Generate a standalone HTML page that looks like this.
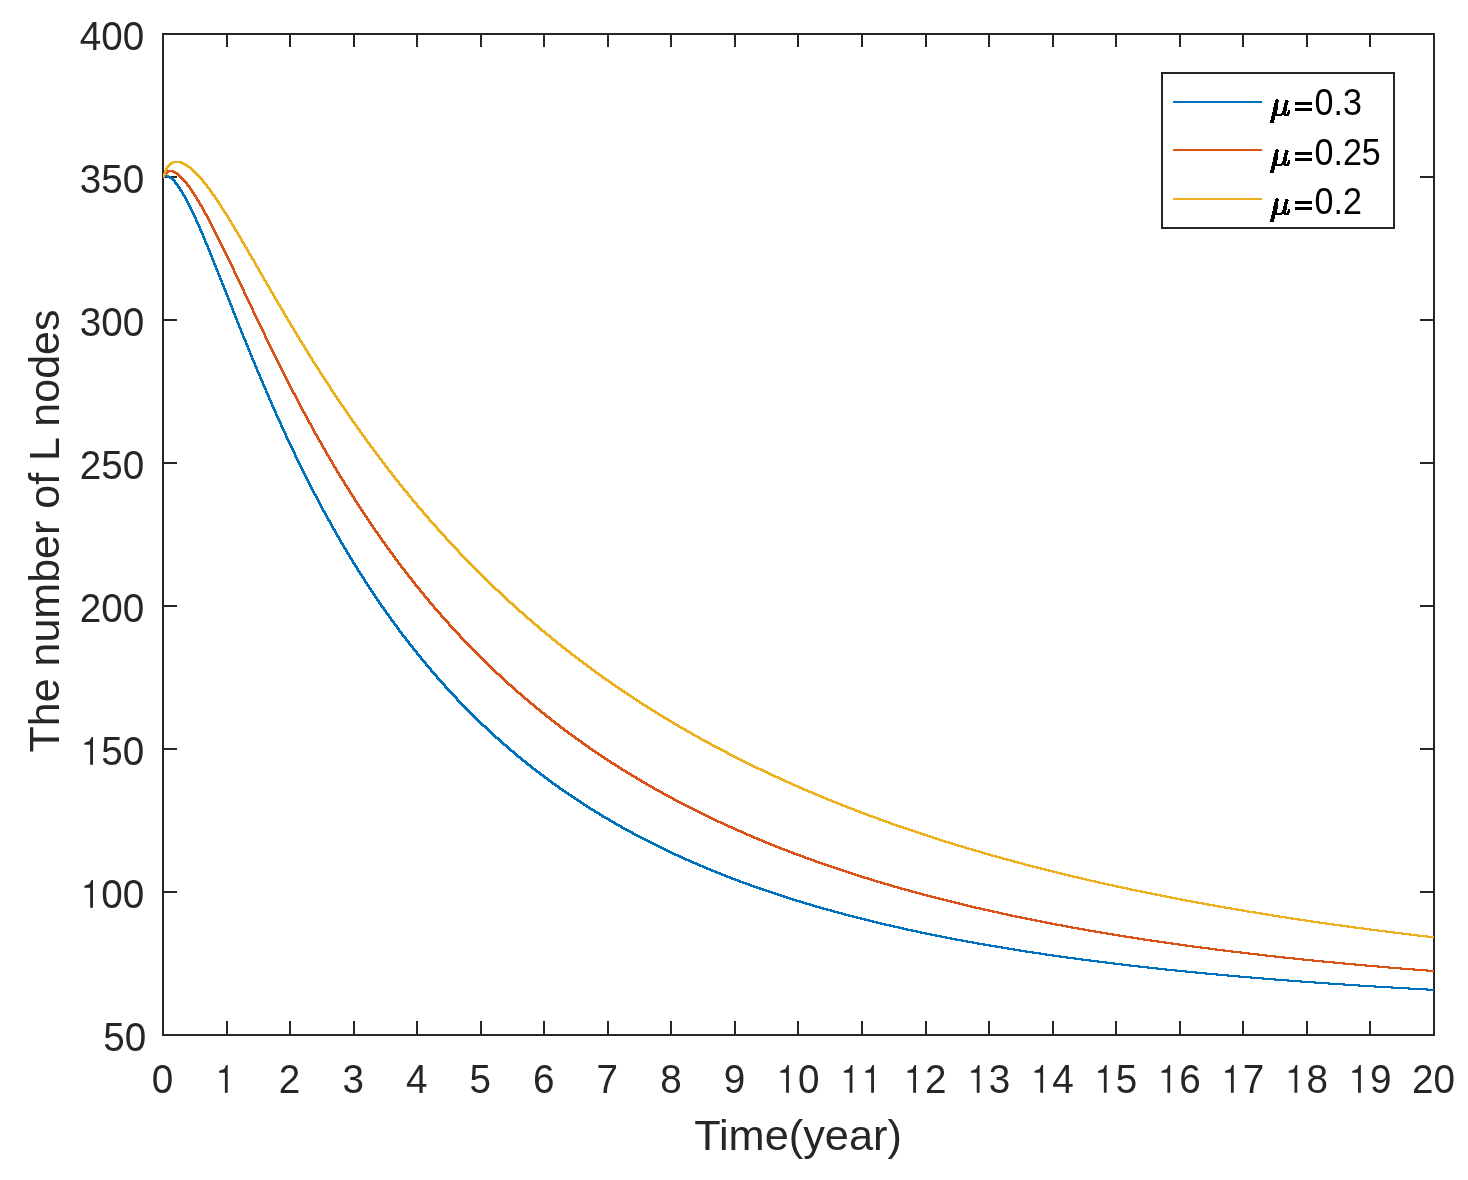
<!DOCTYPE html>
<html><head><meta charset="utf-8"><style>
html,body{margin:0;padding:0;background:#fff;width:1468px;height:1180px;overflow:hidden}
text{font-family:"Liberation Sans",sans-serif}
</style></head><body>
<svg width="1468" height="1180" viewBox="0 0 1468 1180" style="display:block;will-change:transform">
<rect x="0" y="0" width="1468" height="1180" fill="#fff"/>
<g fill="#262626" shape-rendering="crispEdges">
<rect x="162" y="33" width="1273" height="2"/>
<rect x="162" y="1034" width="1273" height="2"/>
<rect x="162" y="33" width="2" height="1003"/>
<rect x="1433" y="33" width="2" height="1003"/>
<rect x="226" y="1021" width="2" height="14"/>
<rect x="226" y="34" width="2" height="13"/>
<rect x="289" y="1021" width="2" height="14"/>
<rect x="289" y="34" width="2" height="13"/>
<rect x="353" y="1021" width="2" height="14"/>
<rect x="353" y="34" width="2" height="13"/>
<rect x="416" y="1021" width="2" height="14"/>
<rect x="416" y="34" width="2" height="13"/>
<rect x="480" y="1021" width="2" height="14"/>
<rect x="480" y="34" width="2" height="13"/>
<rect x="543" y="1021" width="2" height="14"/>
<rect x="543" y="34" width="2" height="13"/>
<rect x="607" y="1021" width="2" height="14"/>
<rect x="607" y="34" width="2" height="13"/>
<rect x="670" y="1021" width="2" height="14"/>
<rect x="670" y="34" width="2" height="13"/>
<rect x="734" y="1021" width="2" height="14"/>
<rect x="734" y="34" width="2" height="13"/>
<rect x="797" y="1021" width="2" height="14"/>
<rect x="797" y="34" width="2" height="13"/>
<rect x="861" y="1021" width="2" height="14"/>
<rect x="861" y="34" width="2" height="13"/>
<rect x="925" y="1021" width="2" height="14"/>
<rect x="925" y="34" width="2" height="13"/>
<rect x="988" y="1021" width="2" height="14"/>
<rect x="988" y="34" width="2" height="13"/>
<rect x="1052" y="1021" width="2" height="14"/>
<rect x="1052" y="34" width="2" height="13"/>
<rect x="1115" y="1021" width="2" height="14"/>
<rect x="1115" y="34" width="2" height="13"/>
<rect x="1179" y="1021" width="2" height="14"/>
<rect x="1179" y="34" width="2" height="13"/>
<rect x="1242" y="1021" width="2" height="14"/>
<rect x="1242" y="34" width="2" height="13"/>
<rect x="1306" y="1021" width="2" height="14"/>
<rect x="1306" y="34" width="2" height="13"/>
<rect x="1369" y="1021" width="2" height="14"/>
<rect x="1369" y="34" width="2" height="13"/>
<rect x="163" y="891" width="14" height="2"/>
<rect x="1420" y="891" width="14" height="2"/>
<rect x="163" y="748" width="14" height="2"/>
<rect x="1420" y="748" width="14" height="2"/>
<rect x="163" y="605" width="14" height="2"/>
<rect x="1420" y="605" width="14" height="2"/>
<rect x="163" y="462" width="14" height="2"/>
<rect x="1420" y="462" width="14" height="2"/>
<rect x="163" y="319" width="14" height="2"/>
<rect x="1420" y="319" width="14" height="2"/>
<rect x="163" y="176" width="14" height="2"/>
<rect x="1420" y="176" width="14" height="2"/>
</g>
<defs><clipPath id="c"><rect x="163" y="34" width="1271" height="1001"/></clipPath></defs>
<g clip-path="url(#c)" shape-rendering="crispEdges">
<path d="M162.00,175.07 L162.25,175.07 L162.50,175.07 L162.75,175.07 L163.00,175.07 L163.25,175.00 L163.50,174.94 L163.75,174.89 L164.00,174.86 L164.25,174.84 L164.50,174.83 L164.75,174.82 L165.00,174.82 L165.25,174.82 L165.50,174.82 L165.75,174.82 L166.00,174.82 L166.25,174.82 L166.50,174.82 L166.75,174.83 L167.00,174.84 L167.25,174.86 L167.50,174.89 L167.75,174.93 L168.00,174.99 L168.25,175.05 L168.50,175.12 L168.75,175.21 L169.00,175.30 L169.25,175.40 L169.50,175.51 L169.75,175.63 L170.00,175.75 L170.25,175.89 L170.50,176.03 L170.75,176.18 L171.00,176.34 L171.25,176.51 L171.50,176.68 L171.75,176.86 L172.00,177.05 L172.25,177.25 L172.50,177.45 L172.75,177.66 L173.00,177.88 L173.25,178.10 L173.50,178.33 L173.75,178.57 L174.00,178.81 L174.25,179.06 L174.50,179.31 L174.75,179.57 L175.00,179.84 L175.25,180.11 L175.50,180.39 L175.75,180.67 L176.00,180.96 L176.25,181.26 L176.50,181.56 L176.75,181.86 L177.00,182.17 L177.25,182.49 L177.50,182.81 L177.75,183.13 L178.00,183.46 L178.25,183.80 L178.50,184.14 L178.75,184.48 L179.00,184.83 L179.25,185.18 L179.50,185.54 L179.75,185.90 L180.00,186.27 L180.25,186.64 L180.50,187.01 L180.75,187.39 L181.00,187.77 L181.25,188.16 L181.50,188.55 L181.75,188.94 L182.00,189.34 L182.25,189.74 L182.50,190.15 L182.75,190.56 L183.00,190.97 L183.25,191.39 L183.50,191.80 L183.75,192.23 L184.00,192.65 L184.25,193.08 L184.50,193.52 L184.75,193.95 L185.00,194.39 L185.25,194.84 L185.50,195.28 L185.75,195.73 L186.00,196.19 L186.25,196.64 L186.50,197.10 L186.75,197.56 L187.00,198.02 L187.25,198.49 L187.50,198.96 L187.75,199.43 L188.00,199.91 L188.25,200.39 L188.50,200.87 L188.75,201.35 L189.00,201.84 L189.25,202.32 L189.50,202.82 L189.75,203.31 L190.00,203.80 L190.25,204.30 L190.50,204.80 L190.75,205.31 L191.00,205.81 L191.25,206.32 L191.50,206.83 L191.75,207.34 L192.00,207.86 L192.25,208.37 L192.50,208.89 L192.75,209.41 L193.00,209.93 L193.25,210.46 L193.50,210.99 L193.75,211.51 L194.00,212.05 L194.25,212.58 L194.50,213.11 L194.75,213.65 L195.00,214.19 L195.25,214.73 L195.50,215.27 L195.75,215.81 L196.00,216.36 L196.25,216.91 L196.50,217.46 L196.75,218.01 L197.00,218.56 L197.25,219.11 L197.50,219.67 L197.75,220.23 L198.00,220.79 L198.25,221.35 L198.50,221.91 L198.75,222.47 L199.00,223.04 L199.25,223.60 L199.50,224.17 L199.75,224.74 L200.00,225.31 L200.25,225.88 L200.50,226.45 L200.75,227.03 L201.00,227.60 L201.25,228.18 L201.50,228.76 L201.75,229.34 L202.00,229.92 L202.25,230.50 L202.50,231.09 L202.75,231.67 L203.00,232.26 L203.25,232.84 L203.50,233.43 L203.75,234.02 L204.00,234.61 L204.25,235.20 L204.50,235.79 L204.75,236.38 L205.00,236.98 L205.25,237.57 L205.50,238.17 L205.75,238.77 L206.00,239.36 L206.25,239.96 L206.50,240.56 L206.75,241.16 L207.00,241.77 L207.25,242.37 L207.50,242.97 L207.75,243.58 L208.00,244.18 L208.25,244.79 L208.50,245.39 L208.75,246.00 L209.00,246.61 L209.25,247.22 L209.50,247.83 L209.75,248.44 L210.00,249.05 L210.25,249.66 L210.50,250.27 L210.75,250.88 L211.00,251.50 L211.25,252.11 L211.50,252.73 L211.75,253.34 L212.00,253.96 L212.25,254.57 L212.50,255.19 L212.75,255.81 L213.00,256.43 L213.25,257.05 L213.50,257.66 L213.75,258.28 L214.00,258.90 L214.25,259.52 L214.50,260.15 L214.75,260.77 L215.00,261.39 L215.25,262.01 L215.50,262.64 L215.75,263.26 L216.00,263.88 L216.25,264.51 L216.50,265.13 L216.75,265.76 L217.00,266.38 L217.25,267.01 L217.50,267.63 L217.75,268.26 L218.00,268.89 L218.25,269.51 L218.50,270.14 L218.75,270.77 L219.00,271.39 L219.25,272.02 L219.50,272.65 L219.75,273.28 L220.00,273.91 L220.25,274.54 L220.50,275.17 L220.75,275.79 L221.00,276.42 L221.25,277.05 L221.50,277.68 L221.75,278.31 L222.00,278.94 L222.25,279.58 L222.50,280.21 L222.75,280.84 L223.00,281.47 L223.25,282.10 L223.50,282.73 L223.75,283.36 L224.00,283.99 L224.25,284.62 L224.50,285.26 L224.75,285.89 L225.00,286.52 L225.25,287.15 L225.50,287.78 L225.75,288.41 L226.00,289.05 L226.25,289.68 L226.50,290.31 L226.75,290.94 L227.00,291.57 L227.25,292.21 L227.50,292.84 L227.75,293.47 L228.00,294.10 L228.25,294.73 L228.50,295.37 L228.75,296.00 L229.00,296.63 L229.25,297.26 L229.50,297.89 L229.75,298.52 L230.00,299.16 L230.25,299.79 L230.50,300.42 L230.75,301.05 L231.00,301.68 L231.25,302.31 L231.50,302.94 L231.75,303.58 L232.00,304.21 L232.25,304.84 L232.50,305.47 L232.75,306.10 L233.00,306.73 L233.25,307.36 L233.50,307.99 L233.75,308.62 L234.00,309.25 L234.25,309.88 L234.50,310.51 L234.75,311.14 L235.00,311.77 L235.25,312.40 L235.50,313.02 L235.75,313.65 L236.00,314.28 L236.25,314.91 L236.50,315.54 L236.75,316.17 L237.00,316.79 L237.25,317.42 L237.50,318.05 L237.75,318.67 L238.00,319.30 L238.25,319.93 L238.50,320.55 L238.75,321.18 L239.00,321.81 L239.25,322.43 L239.50,323.06 L239.75,323.68 L240.00,324.31 L240.25,324.93 L240.50,325.56 L240.75,326.18 L241.00,326.80 L241.25,327.43 L241.50,328.05 L241.75,328.67 L242.00,329.29 L242.25,329.92 L242.50,330.54 L242.75,331.16 L243.00,331.78 L243.25,332.40 L243.50,333.02 L243.75,333.64 L244.00,334.26 L244.25,334.88 L244.50,335.50 L244.75,336.12 L245.00,336.74 L245.25,337.36 L245.50,337.98 L245.75,338.60 L246.00,339.21 L246.25,339.83 L246.50,340.45 L246.75,341.06 L247.00,341.68 L247.25,342.30 L247.50,342.91 L247.75,343.53 L248.00,344.14 L248.25,344.75 L248.50,345.37 L248.75,345.98 L249.00,346.59 L249.25,347.21 L249.50,347.82 L249.75,348.43 L250.00,349.04 L250.25,349.65 L250.50,350.27 L250.75,350.88 L251.00,351.49 L251.25,352.10 L251.50,352.70 L251.75,353.31 L252.00,353.92 L252.25,354.53 L252.50,355.14 L252.75,355.74 L253.00,356.35 L253.25,356.96 L253.50,357.56 L253.75,358.17 L254.00,358.77 L254.25,359.38 L254.50,359.98 L254.75,360.59 L255.00,361.19 L255.25,361.79 L255.50,362.40 L255.75,363.00 L256.00,363.60 L256.25,364.20 L256.50,364.80 L256.75,365.40 L257.00,366.00 L257.25,366.60 L257.50,367.20 L257.75,367.80 L258.00,368.40 L258.25,369.00 L258.50,369.59 L258.75,370.19 L259.00,370.79 L259.25,371.38 L259.50,371.98 L259.75,372.57 L260.00,373.17 L260.25,373.76 L260.50,374.35 L260.75,374.95 L261.00,375.54 L261.25,376.13 L261.50,376.72 L261.75,377.32 L262.00,377.91 L262.25,378.50 L262.50,379.09 L262.75,379.68 L263.00,380.26 L263.25,380.85 L263.50,381.44 L263.75,382.03 L264.00,382.61 L264.25,383.20 L264.50,383.79 L264.75,384.37 L265.00,384.96 L265.25,385.54 L265.50,386.13 L265.75,386.71 L266.00,387.29 L266.25,387.88 L266.50,388.46 L266.75,389.04 L267.00,389.62 L267.25,390.20 L267.50,390.78 L267.75,391.36 L268.00,391.94 L268.25,392.52 L268.50,393.10 L268.75,393.67 L269.00,394.25 L269.25,394.83 L269.50,395.40 L269.75,395.98 L270.00,396.55 L270.25,397.13 L270.50,397.70 L270.75,398.28 L271.00,398.85 L271.25,399.42 L271.50,399.99 L271.75,400.57 L272.00,401.14 L272.25,401.71 L272.50,402.28 L272.75,402.85 L273.00,403.42 L273.25,403.98 L273.50,404.55 L273.75,405.12 L274.00,405.69 L274.25,406.25 L274.50,406.82 L274.75,407.38 L275.00,407.95 L275.25,408.51 L275.50,409.08 L275.75,409.64 L276.00,410.20 L276.25,410.77 L276.50,411.33 L276.75,411.89 L277.00,412.45 L277.25,413.01 L277.50,413.57 L277.75,414.13 L278.00,414.69 L278.25,415.25 L278.50,415.80 L278.75,416.36 L279.00,416.92 L279.25,417.47 L279.50,418.03 L279.75,418.58 L280.00,419.14 L280.25,419.69 L280.50,420.25 L280.75,420.80 L281.00,421.35 L281.25,421.90 L281.50,422.45 L281.75,423.01 L282.00,423.56 L282.25,424.11 L282.50,424.65 L282.75,425.20 L283.00,425.75 L283.25,426.30 L283.50,426.85 L283.75,427.39 L284.00,427.94 L284.25,428.48 L284.50,429.03 L284.75,429.57 L285.00,430.12 L285.25,430.66 L285.50,431.20 L285.75,431.75 L286.00,432.29 L286.25,432.83 L286.50,433.37 L286.75,433.91 L287.00,434.45 L287.25,434.99 L287.50,435.53 L287.75,436.07 L288.00,436.60 L288.25,437.14 L288.50,437.68 L288.75,438.21 L289.00,438.75 L289.25,439.28 L289.50,439.82 L289.75,440.35 L290.00,440.89 L290.25,441.42 L290.50,441.95 L290.75,442.48 L291.00,443.01 L291.25,443.55 L291.50,444.08 L291.75,444.61 L292.00,445.13 L292.25,445.66 L292.50,446.19 L292.75,446.72 L293.00,447.25 L293.25,447.77 L293.50,448.30 L293.75,448.82 L294.00,449.35 L294.25,449.87 L294.50,450.40 L294.75,450.92 L295.00,451.44 L295.25,451.97 L295.50,452.49 L295.75,453.01 L296.00,453.53 L296.25,454.05 L296.50,454.57 L296.75,455.09 L297.00,455.61 L297.25,456.13 L297.50,456.64 L297.75,457.16 L298.00,457.68 L298.25,458.19 L298.50,458.71 L298.75,459.22 L299.00,459.74 L299.25,460.25 L299.50,460.76 L299.75,461.28 L300.00,461.79 L300.50,462.81 L301.00,463.83 L301.50,464.85 L302.00,465.87 L302.50,466.88 L303.00,467.90 L303.50,468.91 L304.00,469.92 L304.50,470.92 L305.00,471.93 L305.50,472.93 L306.00,473.93 L306.50,474.93 L307.00,475.92 L307.50,476.92 L308.00,477.91 L308.50,478.90 L309.00,479.89 L309.50,480.87 L310.00,481.86 L310.50,482.84 L311.00,483.82 L311.50,484.79 L312.00,485.77 L312.50,486.74 L313.00,487.71 L313.50,488.68 L314.00,489.65 L314.50,490.62 L315.00,491.58 L315.50,492.54 L316.00,493.50 L316.50,494.46 L317.00,495.41 L317.50,496.37 L318.00,497.32 L318.50,498.27 L319.00,499.21 L319.50,500.16 L320.00,501.10 L320.50,502.04 L321.00,502.98 L321.50,503.92 L322.00,504.85 L322.50,505.79 L323.00,506.72 L323.50,507.65 L324.00,508.57 L324.50,509.50 L325.00,510.42 L325.50,511.34 L326.00,512.26 L326.50,513.18 L327.00,514.10 L327.50,515.01 L328.00,515.92 L328.50,516.83 L329.00,517.74 L329.50,518.65 L330.00,519.55 L330.50,520.45 L331.00,521.35 L331.50,522.25 L332.00,523.15 L332.50,524.04 L333.00,524.93 L333.50,525.82 L334.00,526.71 L334.50,527.60 L335.00,528.49 L335.50,529.37 L336.00,530.25 L336.50,531.13 L337.00,532.01 L337.50,532.88 L338.00,533.76 L338.50,534.63 L339.00,535.50 L339.50,536.37 L340.00,537.23 L340.50,538.10 L341.00,538.96 L341.50,539.82 L342.00,540.68 L342.50,541.53 L343.00,542.39 L343.50,543.24 L344.00,544.10 L344.50,544.94 L345.00,545.79 L345.50,546.64 L346.00,547.48 L346.50,548.33 L347.00,549.17 L347.50,550.01 L348.00,550.84 L348.50,551.68 L349.00,552.51 L349.50,553.34 L350.00,554.17 L350.50,555.00 L351.00,555.83 L351.50,556.65 L352.00,557.48 L352.50,558.30 L353.00,559.12 L353.50,559.93 L354.00,560.75 L354.50,561.56 L355.00,562.38 L355.50,563.19 L356.00,564.00 L356.50,564.80 L357.00,565.61 L357.50,566.41 L358.00,567.21 L358.50,568.02 L359.00,568.81 L359.50,569.61 L360.00,570.41 L360.50,571.20 L361.00,571.99 L361.50,572.78 L362.00,573.57 L362.50,574.36 L363.00,575.14 L363.50,575.93 L364.00,576.71 L364.50,577.49 L365.00,578.27 L365.50,579.04 L366.00,579.82 L366.50,580.59 L367.00,581.36 L367.50,582.13 L368.00,582.90 L368.50,583.67 L369.00,584.44 L369.50,585.20 L370.00,585.96 L370.50,586.72 L371.00,587.48 L371.50,588.24 L372.00,588.99 L372.50,589.75 L373.00,590.50 L373.50,591.25 L374.00,592.00 L374.50,592.75 L375.00,593.49 L375.50,594.24 L376.00,594.98 L376.50,595.72 L377.00,596.46 L377.50,597.20 L378.00,597.94 L378.50,598.67 L379.00,599.41 L379.50,600.14 L380.00,600.87 L380.50,601.60 L381.00,602.32 L381.50,603.05 L382.00,603.77 L382.50,604.50 L383.00,605.22 L383.50,605.94 L384.00,606.66 L384.50,607.37 L385.00,608.09 L385.50,608.80 L386.00,609.51 L386.50,610.22 L387.00,610.93 L387.50,611.64 L388.00,612.35 L388.50,613.05 L389.00,613.75 L389.50,614.46 L390.00,615.16 L390.50,615.85 L391.00,616.55 L391.50,617.25 L392.00,617.94 L392.50,618.63 L393.00,619.33 L393.50,620.02 L394.00,620.70 L394.50,621.39 L395.00,622.08 L395.50,622.76 L396.00,623.44 L396.50,624.12 L397.00,624.80 L397.50,625.48 L398.00,626.16 L398.50,626.83 L399.00,627.51 L399.50,628.18 L400.00,628.85 L400.50,629.52 L401.00,630.19 L401.50,630.86 L402.00,631.52 L402.50,632.19 L403.00,632.85 L403.50,633.51 L404.00,634.17 L404.50,634.83 L405.00,635.49 L405.50,636.14 L406.00,636.80 L406.50,637.45 L407.00,638.10 L407.50,638.75 L408.00,639.40 L408.50,640.05 L409.00,640.70 L409.50,641.34 L410.00,641.99 L410.50,642.63 L411.00,643.27 L411.50,643.91 L412.00,644.55 L412.50,645.19 L413.00,645.82 L413.50,646.46 L414.00,647.09 L414.50,647.72 L415.00,648.35 L415.50,648.98 L416.00,649.61 L416.50,650.23 L417.00,650.86 L417.50,651.48 L418.00,652.11 L418.50,652.73 L419.00,653.35 L419.50,653.97 L420.00,654.58 L420.50,655.20 L421.00,655.81 L421.50,656.43 L422.00,657.04 L422.50,657.65 L423.00,658.26 L423.50,658.87 L424.00,659.48 L424.50,660.08 L425.00,660.69 L425.50,661.29 L426.00,661.89 L426.50,662.49 L427.00,663.09 L427.50,663.69 L428.00,664.29 L428.50,664.89 L429.00,665.48 L429.50,666.07 L430.00,666.67 L430.50,667.26 L431.00,667.85 L431.50,668.44 L432.00,669.02 L432.50,669.61 L433.00,670.20 L433.50,670.78 L434.00,671.36 L434.50,671.94 L435.00,672.52 L435.50,673.10 L436.00,673.68 L436.50,674.26 L437.00,674.83 L437.50,675.41 L438.00,675.98 L438.50,676.55 L439.00,677.12 L439.50,677.69 L440.00,678.26 L440.50,678.83 L441.00,679.40 L441.50,679.96 L442.00,680.52 L442.50,681.09 L443.00,681.65 L443.50,682.21 L444.00,682.77 L444.50,683.33 L445.00,683.88 L445.50,684.44 L446.00,684.99 L446.50,685.55 L447.00,686.10 L447.50,686.65 L448.00,687.20 L448.50,687.75 L449.00,688.30 L449.50,688.85 L450.00,689.39 L450.50,689.94 L451.00,690.48 L451.50,691.02 L452.00,691.56 L452.50,692.10 L453.00,692.64 L453.50,693.18 L454.00,693.72 L454.50,694.25 L455.00,694.79 L455.50,695.32 L456.00,695.85 L456.50,696.38 L457.00,696.92 L457.50,697.44 L458.00,697.97 L458.50,698.50 L459.00,699.03 L459.50,699.55 L460.00,700.07 L460.50,700.60 L461.00,701.12 L461.50,701.64 L462.00,702.16 L462.50,702.68 L463.00,703.20 L463.50,703.71 L464.00,704.23 L464.50,704.74 L465.00,705.26 L465.50,705.77 L466.00,706.28 L466.50,706.79 L467.00,707.30 L467.50,707.81 L468.00,708.32 L468.50,708.82 L469.00,709.33 L469.50,709.83 L470.00,710.33 L470.50,710.84 L471.00,711.34 L471.50,711.84 L472.00,712.34 L472.50,712.84 L473.00,713.33 L473.50,713.83 L474.00,714.32 L474.50,714.82 L475.00,715.31 L475.50,715.80 L476.00,716.30 L476.50,716.79 L477.00,717.28 L477.50,717.76 L478.00,718.25 L478.50,718.74 L479.00,719.22 L479.50,719.71 L480.00,720.19 L480.50,720.67 L481.00,721.15 L481.50,721.63 L482.00,722.11 L482.50,722.59 L483.00,723.07 L483.50,723.55 L484.00,724.02 L484.50,724.50 L485.00,724.97 L485.50,725.44 L486.00,725.92 L486.50,726.39 L487.00,726.86 L487.50,727.33 L488.00,727.80 L488.50,728.26 L489.00,728.73 L489.50,729.19 L490.00,729.66 L490.50,730.12 L491.00,730.59 L491.50,731.05 L492.00,731.51 L492.50,731.97 L493.00,732.43 L493.50,732.89 L494.00,733.34 L494.50,733.80 L495.00,734.25 L495.50,734.71 L496.00,735.16 L496.50,735.62 L497.00,736.07 L497.50,736.52 L498.00,736.97 L498.50,737.42 L499.00,737.87 L499.50,738.31 L500.00,738.76 L500.50,739.21 L501.00,739.65 L501.50,740.09 L502.00,740.54 L502.50,740.98 L503.00,741.42 L503.50,741.86 L504.00,742.30 L504.50,742.74 L505.00,743.18 L505.50,743.61 L506.00,744.05 L506.50,744.49 L507.00,744.92 L507.50,745.35 L508.00,745.79 L508.50,746.22 L509.00,746.65 L509.50,747.08 L510.00,747.51 L510.50,747.94 L511.00,748.36 L511.50,748.79 L512.00,749.22 L512.50,749.64 L513.00,750.07 L513.50,750.49 L514.00,750.91 L514.50,751.33 L515.00,751.76 L515.50,752.18 L516.00,752.60 L516.50,753.01 L517.00,753.43 L517.50,753.85 L518.00,754.26 L518.50,754.68 L519.00,755.09 L519.50,755.51 L520.00,755.92 L520.50,756.33 L521.00,756.74 L521.50,757.15 L522.00,757.56 L522.50,757.97 L523.00,758.38 L523.50,758.79 L524.00,759.20 L524.50,759.60 L525.00,760.01 L525.50,760.41 L526.00,760.81 L526.50,761.22 L527.00,761.62 L527.50,762.02 L528.00,762.42 L528.50,762.82 L529.00,763.22 L529.50,763.62 L530.00,764.01 L530.50,764.41 L531.00,764.80 L531.50,765.20 L532.00,765.59 L532.50,765.99 L533.00,766.38 L533.50,766.77 L534.00,767.16 L534.50,767.55 L535.00,767.94 L535.50,768.33 L536.00,768.72 L536.50,769.11 L537.00,769.49 L537.50,769.88 L538.00,770.26 L538.50,770.65 L539.00,771.03 L539.50,771.42 L540.00,771.80 L540.50,772.18 L541.00,772.56 L541.50,772.94 L542.00,773.32 L542.50,773.70 L543.00,774.08 L543.50,774.45 L544.00,774.83 L544.50,775.20 L545.00,775.58 L545.50,775.95 L546.00,776.33 L546.50,776.70 L547.00,777.07 L547.50,777.44 L548.00,777.81 L548.50,778.18 L549.00,778.55 L549.50,778.92 L550.00,779.29 L550.50,779.66 L551.00,780.02 L551.50,780.39 L552.00,780.75 L552.50,781.12 L553.00,781.48 L553.50,781.84 L554.00,782.21 L554.50,782.57 L555.00,782.93 L555.50,783.29 L556.00,783.65 L556.50,784.01 L557.00,784.37 L557.50,784.72 L558.00,785.08 L558.50,785.44 L559.00,785.79 L559.50,786.15 L560.00,786.50 L560.50,786.85 L561.00,787.21 L561.50,787.56 L562.00,787.91 L562.50,788.26 L563.00,788.61 L563.50,788.96 L564.00,789.31 L564.50,789.66 L565.00,790.01 L565.50,790.35 L566.00,790.70 L566.50,791.04 L567.00,791.39 L567.50,791.73 L568.00,792.08 L568.50,792.42 L569.00,792.76 L569.50,793.10 L570.00,793.45 L570.50,793.79 L571.00,794.13 L571.50,794.46 L572.00,794.80 L572.50,795.14 L573.00,795.48 L573.50,795.81 L574.00,796.15 L574.50,796.49 L575.00,796.82 L575.50,797.15 L576.00,797.49 L576.50,797.82 L577.00,798.15 L577.50,798.48 L578.00,798.82 L578.50,799.15 L579.00,799.48 L579.50,799.80 L580.00,800.13 L580.50,800.46 L581.00,800.79 L581.50,801.12 L582.00,801.44 L582.50,801.77 L583.00,802.09 L583.50,802.42 L584.00,802.74 L584.50,803.06 L585.00,803.39 L585.50,803.71 L586.00,804.03 L586.50,804.35 L587.00,804.67 L587.50,804.99 L588.00,805.31 L588.50,805.63 L589.00,805.94 L589.50,806.26 L590.00,806.58 L590.50,806.89 L591.00,807.21 L591.50,807.52 L592.00,807.84 L592.50,808.15 L593.00,808.46 L593.50,808.78 L594.00,809.09 L594.50,809.40 L595.00,809.71 L595.50,810.02 L596.00,810.33 L596.50,810.64 L597.00,810.95 L597.50,811.25 L598.00,811.56 L598.50,811.87 L599.00,812.18 L599.50,812.48 L600.00,812.79 L602.00,814.00 L604.00,815.21 L606.00,816.40 L608.00,817.59 L610.00,818.77 L612.00,819.94 L614.00,821.10 L616.00,822.26 L618.00,823.40 L620.00,824.54 L622.00,825.67 L624.00,826.79 L626.00,827.90 L628.00,829.01 L630.00,830.11 L632.00,831.19 L634.00,832.28 L636.00,833.35 L638.00,834.42 L640.00,835.47 L642.00,836.52 L644.00,837.57 L646.00,838.60 L648.00,839.63 L650.00,840.65 L652.00,841.67 L654.00,842.67 L656.00,843.67 L658.00,844.67 L660.00,845.65 L662.00,846.63 L664.00,847.60 L666.00,848.57 L668.00,849.53 L670.00,850.48 L672.00,851.42 L674.00,852.36 L676.00,853.29 L678.00,854.22 L680.00,855.14 L682.00,856.05 L684.00,856.96 L686.00,857.86 L688.00,858.75 L690.00,859.64 L692.00,860.52 L694.00,861.39 L696.00,862.26 L698.00,863.13 L700.00,863.99 L702.00,864.84 L704.00,865.68 L706.00,866.52 L708.00,867.36 L710.00,868.19 L712.00,869.01 L714.00,869.83 L716.00,870.64 L718.00,871.45 L720.00,872.25 L722.00,873.04 L724.00,873.83 L726.00,874.62 L728.00,875.40 L730.00,876.17 L732.00,876.94 L734.00,877.71 L736.00,878.47 L738.00,879.22 L740.00,879.97 L742.00,880.71 L744.00,881.45 L746.00,882.19 L748.00,882.92 L750.00,883.64 L752.00,884.36 L754.00,885.08 L756.00,885.79 L758.00,886.49 L760.00,887.19 L762.00,887.89 L764.00,888.58 L766.00,889.27 L768.00,889.95 L770.00,890.63 L772.00,891.30 L774.00,891.97 L776.00,892.64 L778.00,893.30 L780.00,893.96 L782.00,894.61 L784.00,895.26 L786.00,895.90 L788.00,896.54 L790.00,897.18 L792.00,897.81 L794.00,898.44 L796.00,899.06 L798.00,899.68 L800.00,900.29 L802.00,900.91 L804.00,901.51 L806.00,902.12 L808.00,902.72 L810.00,903.31 L812.00,903.91 L814.00,904.49 L816.00,905.08 L818.00,905.66 L820.00,906.24 L822.00,906.81 L824.00,907.38 L826.00,907.95 L828.00,908.51 L830.00,909.07 L832.00,909.63 L834.00,910.18 L836.00,910.73 L838.00,911.28 L840.00,911.82 L842.00,912.36 L844.00,912.89 L846.00,913.43 L848.00,913.95 L850.00,914.48 L852.00,915.00 L854.00,915.52 L856.00,916.04 L858.00,916.55 L860.00,917.06 L862.00,917.57 L864.00,918.07 L866.00,918.57 L868.00,919.07 L870.00,919.56 L872.00,920.05 L874.00,920.54 L876.00,921.03 L878.00,921.51 L880.00,921.99 L882.00,922.46 L884.00,922.94 L886.00,923.41 L888.00,923.88 L890.00,924.34 L892.00,924.80 L894.00,925.26 L896.00,925.72 L898.00,926.17 L900.00,926.62 L902.00,927.07 L904.00,927.52 L906.00,927.96 L908.00,928.40 L910.00,928.84 L912.00,929.27 L914.00,929.71 L916.00,930.14 L918.00,930.56 L920.00,930.99 L922.00,931.41 L924.00,931.83 L926.00,932.25 L928.00,932.66 L930.00,933.07 L932.00,933.48 L934.00,933.89 L936.00,934.30 L938.00,934.70 L940.00,935.10 L942.00,935.50 L944.00,935.89 L946.00,936.29 L948.00,936.68 L950.00,937.07 L952.00,937.45 L954.00,937.84 L956.00,938.22 L958.00,938.60 L960.00,938.98 L962.00,939.35 L964.00,939.73 L966.00,940.10 L968.00,940.46 L970.00,940.83 L972.00,941.20 L974.00,941.56 L976.00,941.92 L978.00,942.28 L980.00,942.63 L982.00,942.99 L984.00,943.34 L986.00,943.69 L988.00,944.04 L990.00,944.38 L992.00,944.73 L994.00,945.07 L996.00,945.41 L998.00,945.75 L1000.00,946.08 L1002.00,946.42 L1004.00,946.75 L1006.00,947.08 L1008.00,947.41 L1010.00,947.74 L1012.00,948.06 L1014.00,948.39 L1016.00,948.71 L1018.00,949.03 L1020.00,949.34 L1022.00,949.66 L1024.00,949.97 L1026.00,950.29 L1028.00,950.60 L1030.00,950.91 L1032.00,951.21 L1034.00,951.52 L1036.00,951.82 L1038.00,952.12 L1040.00,952.42 L1042.00,952.72 L1044.00,953.02 L1046.00,953.31 L1048.00,953.61 L1050.00,953.90 L1052.00,954.19 L1054.00,954.48 L1056.00,954.77 L1058.00,955.05 L1060.00,955.33 L1062.00,955.62 L1064.00,955.90 L1066.00,956.18 L1068.00,956.45 L1070.00,956.73 L1072.00,957.01 L1074.00,957.28 L1076.00,957.55 L1078.00,957.82 L1080.00,958.09 L1082.00,958.36 L1084.00,958.62 L1086.00,958.89 L1088.00,959.15 L1090.00,959.41 L1092.00,959.67 L1094.00,959.93 L1096.00,960.19 L1098.00,960.44 L1100.00,960.69 L1102.00,960.95 L1104.00,961.20 L1106.00,961.45 L1108.00,961.70 L1110.00,961.95 L1112.00,962.19 L1114.00,962.44 L1116.00,962.68 L1118.00,962.92 L1120.00,963.16 L1122.00,963.40 L1124.00,963.64 L1126.00,963.88 L1128.00,964.11 L1130.00,964.35 L1132.00,964.58 L1134.00,964.81 L1136.00,965.04 L1138.00,965.27 L1140.00,965.50 L1142.00,965.73 L1144.00,965.95 L1146.00,966.18 L1148.00,966.40 L1150.00,966.62 L1152.00,966.84 L1154.00,967.06 L1156.00,967.28 L1158.00,967.50 L1160.00,967.71 L1162.00,967.93 L1164.00,968.14 L1166.00,968.35 L1168.00,968.57 L1170.00,968.78 L1172.00,968.99 L1174.00,969.19 L1176.00,969.40 L1178.00,969.61 L1180.00,969.81 L1182.00,970.02 L1184.00,970.22 L1186.00,970.42 L1188.00,970.62 L1190.00,970.82 L1192.00,971.02 L1194.00,971.22 L1196.00,971.41 L1198.00,971.61 L1200.00,971.80 L1202.00,972.00 L1204.00,972.19 L1206.00,972.38 L1208.00,972.57 L1210.00,972.76 L1212.00,972.95 L1214.00,973.13 L1216.00,973.32 L1218.00,973.51 L1220.00,973.69 L1222.00,973.87 L1224.00,974.06 L1226.00,974.24 L1228.00,974.42 L1230.00,974.60 L1232.00,974.78 L1234.00,974.95 L1236.00,975.13 L1238.00,975.31 L1240.00,975.48 L1242.00,975.65 L1244.00,975.83 L1246.00,976.00 L1248.00,976.17 L1250.00,976.34 L1252.00,976.51 L1254.00,976.68 L1256.00,976.85 L1258.00,977.01 L1260.00,977.18 L1262.00,977.35 L1264.00,977.51 L1266.00,977.67 L1268.00,977.84 L1270.00,978.00 L1272.00,978.16 L1274.00,978.32 L1276.00,978.48 L1278.00,978.64 L1280.00,978.79 L1282.00,978.95 L1284.00,979.11 L1286.00,979.26 L1288.00,979.42 L1290.00,979.57 L1292.00,979.72 L1294.00,979.88 L1296.00,980.03 L1298.00,980.18 L1300.00,980.33 L1302.00,980.48 L1304.00,980.62 L1306.00,980.77 L1308.00,980.92 L1310.00,981.06 L1312.00,981.21 L1314.00,981.35 L1316.00,981.50 L1318.00,981.64 L1320.00,981.78 L1322.00,981.93 L1324.00,982.07 L1326.00,982.21 L1328.00,982.35 L1330.00,982.48 L1332.00,982.62 L1334.00,982.76 L1336.00,982.90 L1338.00,983.03 L1340.00,983.17 L1342.00,983.30 L1344.00,983.44 L1346.00,983.57 L1348.00,983.70 L1350.00,983.83 L1352.00,983.96 L1354.00,984.09 L1356.00,984.22 L1358.00,984.35 L1360.00,984.48 L1362.00,984.61 L1364.00,984.74 L1366.00,984.86 L1368.00,984.99 L1370.00,985.11 L1372.00,985.24 L1374.00,985.36 L1376.00,985.49 L1378.00,985.61 L1380.00,985.73 L1382.00,985.85 L1384.00,985.97 L1386.00,986.09 L1388.00,986.21 L1390.00,986.33 L1392.00,986.45 L1394.00,986.57 L1396.00,986.69 L1398.00,986.80 L1400.00,986.92 L1402.00,987.04 L1404.00,987.15 L1406.00,987.27 L1408.00,987.38 L1410.00,987.49 L1412.00,987.61 L1414.00,987.72 L1416.00,987.83 L1418.00,987.94 L1420.00,988.05 L1422.00,988.16 L1424.00,988.27 L1426.00,988.38 L1428.00,988.49 L1430.00,988.59 L1432.00,988.70 L1434.00,988.81 L1434.00,990.86 L1432.00,990.81 L1430.00,990.70 L1428.00,990.59 L1426.00,990.49 L1424.00,990.38 L1422.00,990.27 L1420.00,990.16 L1418.00,990.05 L1416.00,989.94 L1414.00,989.83 L1412.00,989.72 L1410.00,989.61 L1408.00,989.49 L1406.00,989.38 L1404.00,989.27 L1402.00,989.15 L1400.00,989.04 L1398.00,988.92 L1396.00,988.80 L1394.00,988.69 L1392.00,988.57 L1390.00,988.45 L1388.00,988.33 L1386.00,988.21 L1384.00,988.09 L1382.00,987.97 L1380.00,987.85 L1378.00,987.73 L1376.00,987.61 L1374.00,987.49 L1372.00,987.36 L1370.00,987.24 L1368.00,987.11 L1366.00,986.99 L1364.00,986.86 L1362.00,986.74 L1360.00,986.61 L1358.00,986.48 L1356.00,986.35 L1354.00,986.22 L1352.00,986.09 L1350.00,985.96 L1348.00,985.83 L1346.00,985.70 L1344.00,985.57 L1342.00,985.44 L1340.00,985.30 L1338.00,985.17 L1336.00,985.03 L1334.00,984.90 L1332.00,984.76 L1330.00,984.62 L1328.00,984.48 L1326.00,984.35 L1324.00,984.21 L1322.00,984.07 L1320.00,983.93 L1318.00,983.78 L1316.00,983.64 L1314.00,983.50 L1312.00,983.35 L1310.00,983.21 L1308.00,983.06 L1306.00,982.92 L1304.00,982.77 L1302.00,982.62 L1300.00,982.48 L1298.00,982.33 L1296.00,982.18 L1294.00,982.03 L1292.00,981.88 L1290.00,981.72 L1288.00,981.57 L1286.00,981.42 L1284.00,981.26 L1282.00,981.11 L1280.00,980.95 L1278.00,980.79 L1276.00,980.64 L1274.00,980.48 L1272.00,980.32 L1270.00,980.16 L1268.00,980.00 L1266.00,979.84 L1264.00,979.67 L1262.00,979.51 L1260.00,979.35 L1258.00,979.18 L1256.00,979.01 L1254.00,978.85 L1252.00,978.68 L1250.00,978.51 L1248.00,978.34 L1246.00,978.17 L1244.00,978.00 L1242.00,977.83 L1240.00,977.65 L1238.00,977.48 L1236.00,977.31 L1234.00,977.13 L1232.00,976.95 L1230.00,976.78 L1228.00,976.60 L1226.00,976.42 L1224.00,976.24 L1222.00,976.06 L1220.00,975.87 L1218.00,975.69 L1216.00,975.51 L1214.00,975.32 L1212.00,975.13 L1210.00,974.95 L1208.00,974.76 L1206.00,974.57 L1204.00,974.38 L1202.00,974.19 L1200.00,974.00 L1198.00,973.80 L1196.00,973.61 L1194.00,973.41 L1192.00,973.22 L1190.00,973.02 L1188.00,972.82 L1186.00,972.62 L1184.00,972.42 L1182.00,972.22 L1180.00,972.02 L1178.00,971.81 L1176.00,971.61 L1174.00,971.40 L1172.00,971.19 L1170.00,970.99 L1168.00,970.78 L1166.00,970.57 L1164.00,970.35 L1162.00,970.14 L1160.00,969.93 L1158.00,969.71 L1156.00,969.50 L1154.00,969.28 L1152.00,969.06 L1150.00,968.84 L1148.00,968.62 L1146.00,968.40 L1144.00,968.18 L1142.00,967.95 L1140.00,967.73 L1138.00,967.50 L1136.00,967.27 L1134.00,967.04 L1132.00,966.81 L1130.00,966.58 L1128.00,966.35 L1126.00,966.11 L1124.00,965.88 L1122.00,965.64 L1120.00,965.40 L1118.00,965.16 L1116.00,964.92 L1114.00,964.68 L1112.00,964.44 L1110.00,964.19 L1108.00,963.95 L1106.00,963.70 L1104.00,963.45 L1102.00,963.20 L1100.00,962.95 L1098.00,962.69 L1096.00,962.44 L1094.00,962.19 L1092.00,961.93 L1090.00,961.67 L1088.00,961.41 L1086.00,961.15 L1084.00,960.89 L1082.00,960.62 L1080.00,960.36 L1078.00,960.09 L1076.00,959.82 L1074.00,959.55 L1072.00,959.28 L1070.00,959.01 L1068.00,958.73 L1066.00,958.45 L1064.00,958.18 L1062.00,957.90 L1060.00,957.62 L1058.00,957.33 L1056.00,957.05 L1054.00,956.77 L1052.00,956.48 L1050.00,956.19 L1048.00,955.90 L1046.00,955.61 L1044.00,955.31 L1042.00,955.02 L1040.00,954.72 L1038.00,954.42 L1036.00,954.12 L1034.00,953.82 L1032.00,953.52 L1030.00,953.21 L1028.00,952.91 L1026.00,952.60 L1024.00,952.29 L1022.00,951.97 L1020.00,951.66 L1018.00,951.34 L1016.00,951.03 L1014.00,950.71 L1012.00,950.39 L1010.00,950.06 L1008.00,949.74 L1006.00,949.41 L1004.00,949.08 L1002.00,948.75 L1000.00,948.42 L998.00,948.08 L996.00,947.75 L994.00,947.41 L992.00,947.07 L990.00,946.73 L988.00,946.38 L986.00,946.04 L984.00,945.69 L982.00,945.34 L980.00,944.99 L978.00,944.63 L976.00,944.28 L974.00,943.92 L972.00,943.56 L970.00,943.20 L968.00,942.83 L966.00,942.46 L964.00,942.10 L962.00,941.73 L960.00,941.35 L958.00,940.98 L956.00,940.60 L954.00,940.22 L952.00,939.84 L950.00,939.45 L948.00,939.07 L946.00,938.68 L944.00,938.29 L942.00,937.89 L940.00,937.50 L938.00,937.10 L936.00,936.70 L934.00,936.30 L932.00,935.89 L930.00,935.48 L928.00,935.07 L926.00,934.66 L924.00,934.25 L922.00,933.83 L920.00,933.41 L918.00,932.99 L916.00,932.56 L914.00,932.14 L912.00,931.71 L910.00,931.27 L908.00,930.84 L906.00,930.40 L904.00,929.96 L902.00,929.52 L900.00,929.07 L898.00,928.62 L896.00,928.17 L894.00,927.72 L892.00,927.26 L890.00,926.80 L888.00,926.34 L886.00,925.88 L884.00,925.41 L882.00,924.94 L880.00,924.46 L878.00,923.99 L876.00,923.51 L874.00,923.03 L872.00,922.54 L870.00,922.05 L868.00,921.56 L866.00,921.07 L864.00,920.57 L862.00,920.07 L860.00,919.57 L858.00,919.06 L856.00,918.55 L854.00,918.04 L852.00,917.52 L850.00,917.00 L848.00,916.48 L846.00,915.95 L844.00,915.43 L842.00,914.89 L840.00,914.36 L838.00,913.82 L836.00,913.28 L834.00,912.73 L832.00,912.18 L830.00,911.63 L828.00,911.07 L826.00,910.51 L824.00,909.95 L822.00,909.38 L820.00,908.81 L818.00,908.24 L816.00,907.66 L814.00,907.08 L812.00,906.49 L810.00,905.91 L808.00,905.31 L806.00,904.72 L804.00,904.12 L802.00,903.51 L800.00,902.91 L798.00,902.29 L796.00,901.68 L794.00,901.06 L792.00,900.44 L790.00,899.81 L788.00,899.18 L786.00,898.54 L784.00,897.90 L782.00,897.26 L780.00,896.61 L778.00,895.96 L776.00,895.30 L774.00,894.64 L772.00,893.97 L770.00,893.30 L768.00,892.63 L766.00,891.95 L764.00,891.27 L762.00,890.58 L760.00,889.89 L758.00,889.19 L756.00,888.49 L754.00,887.79 L752.00,887.08 L750.00,886.36 L748.00,885.64 L746.00,884.92 L744.00,884.19 L742.00,883.45 L740.00,882.71 L738.00,881.97 L736.00,881.22 L734.00,880.47 L732.00,879.71 L730.00,878.94 L728.00,878.17 L726.00,877.40 L724.00,876.62 L722.00,875.83 L720.00,875.04 L718.00,874.25 L716.00,873.45 L714.00,872.64 L712.00,871.83 L710.00,871.01 L708.00,870.19 L706.00,869.36 L704.00,868.52 L702.00,867.68 L700.00,866.84 L698.00,865.99 L696.00,865.13 L694.00,864.26 L692.00,863.39 L690.00,862.52 L688.00,861.64 L686.00,860.75 L684.00,859.86 L682.00,858.96 L680.00,858.05 L678.00,857.14 L676.00,856.22 L674.00,855.29 L672.00,854.36 L670.00,853.42 L668.00,852.48 L666.00,851.53 L664.00,850.57 L662.00,849.60 L660.00,848.63 L658.00,847.65 L656.00,846.67 L654.00,845.67 L652.00,844.67 L650.00,843.67 L648.00,842.65 L646.00,841.63 L644.00,840.60 L642.00,839.57 L640.00,838.52 L638.00,837.47 L636.00,836.42 L634.00,835.35 L632.00,834.28 L630.00,833.19 L628.00,832.11 L626.00,831.01 L624.00,829.90 L622.00,828.79 L620.00,827.67 L618.00,826.54 L616.00,825.40 L614.00,824.26 L612.00,823.10 L610.00,821.94 L608.00,820.77 L606.00,819.59 L604.00,818.40 L602.00,817.21 L600.00,816.00 L599.50,815.70 L599.00,815.39 L598.50,815.09 L598.00,814.79 L597.50,814.48 L597.00,814.18 L596.50,813.87 L596.00,813.56 L595.50,813.25 L595.00,812.95 L594.50,812.64 L594.00,812.33 L593.50,812.02 L593.00,811.71 L592.50,811.40 L592.00,811.09 L591.50,810.78 L591.00,810.46 L590.50,810.15 L590.00,809.84 L589.50,809.52 L589.00,809.21 L588.50,808.89 L588.00,808.58 L587.50,808.26 L587.00,807.94 L586.50,807.63 L586.00,807.31 L585.50,806.99 L585.00,806.67 L584.50,806.35 L584.00,806.03 L583.50,805.71 L583.00,805.39 L582.50,805.06 L582.00,804.74 L581.50,804.42 L581.00,804.09 L580.50,803.77 L580.00,803.44 L579.50,803.12 L579.00,802.79 L578.50,802.46 L578.00,802.13 L577.50,801.80 L577.00,801.48 L576.50,801.15 L576.00,800.82 L575.50,800.48 L575.00,800.15 L574.50,799.82 L574.00,799.49 L573.50,799.15 L573.00,798.82 L572.50,798.49 L572.00,798.15 L571.50,797.81 L571.00,797.48 L570.50,797.14 L570.00,796.80 L569.50,796.46 L569.00,796.13 L568.50,795.79 L568.00,795.45 L567.50,795.10 L567.00,794.76 L566.50,794.42 L566.00,794.08 L565.50,793.73 L565.00,793.39 L564.50,793.04 L564.00,792.70 L563.50,792.35 L563.00,792.01 L562.50,791.66 L562.00,791.31 L561.50,790.96 L561.00,790.61 L560.50,790.26 L560.00,789.91 L559.50,789.56 L559.00,789.21 L558.50,788.85 L558.00,788.50 L557.50,788.15 L557.00,787.79 L556.50,787.44 L556.00,787.08 L555.50,786.72 L555.00,786.37 L554.50,786.01 L554.00,785.65 L553.50,785.29 L553.00,784.93 L552.50,784.57 L552.00,784.21 L551.50,783.84 L551.00,783.48 L550.50,783.12 L550.00,782.75 L549.50,782.39 L549.00,782.02 L548.50,781.66 L548.00,781.29 L547.50,780.92 L547.00,780.55 L546.50,780.18 L546.00,779.81 L545.50,779.44 L545.00,779.07 L544.50,778.70 L544.00,778.33 L543.50,777.95 L543.00,777.58 L542.50,777.20 L542.00,776.83 L541.50,776.45 L541.00,776.08 L540.50,775.70 L540.00,775.32 L539.50,774.94 L539.00,774.56 L538.50,774.18 L538.00,773.80 L537.50,773.42 L537.00,773.03 L536.50,772.65 L536.00,772.26 L535.50,771.88 L535.00,771.49 L534.50,771.11 L534.00,770.72 L533.50,770.33 L533.00,769.94 L532.50,769.55 L532.00,769.16 L531.50,768.77 L531.00,768.38 L530.50,767.99 L530.00,767.59 L529.50,767.20 L529.00,766.80 L528.50,766.41 L528.00,766.01 L527.50,765.62 L527.00,765.22 L526.50,764.82 L526.00,764.42 L525.50,764.02 L525.00,763.62 L524.50,763.22 L524.00,762.81 L523.50,762.41 L523.00,762.01 L522.50,761.60 L522.00,761.20 L521.50,760.79 L521.00,760.38 L520.50,759.97 L520.00,759.56 L519.50,759.15 L519.00,758.74 L518.50,758.33 L518.00,757.92 L517.50,757.51 L517.00,757.09 L516.50,756.68 L516.00,756.26 L515.50,755.85 L515.00,755.43 L514.50,755.01 L514.00,754.60 L513.50,754.18 L513.00,753.76 L512.50,753.33 L512.00,752.91 L511.50,752.49 L511.00,752.07 L510.50,751.64 L510.00,751.22 L509.50,750.79 L509.00,750.36 L508.50,749.94 L508.00,749.51 L507.50,749.08 L507.00,748.65 L506.50,748.22 L506.00,747.79 L505.50,747.35 L505.00,746.92 L504.50,746.49 L504.00,746.05 L503.50,745.61 L503.00,745.18 L502.50,744.74 L502.00,744.30 L501.50,743.86 L501.00,743.42 L500.50,742.98 L500.00,742.54 L499.50,742.09 L499.00,741.65 L498.50,741.21 L498.00,740.76 L497.50,740.31 L497.00,739.87 L496.50,739.42 L496.00,738.97 L495.50,738.52 L495.00,738.07 L494.50,737.62 L494.00,737.16 L493.50,736.71 L493.00,736.25 L492.50,735.80 L492.00,735.34 L491.50,734.89 L491.00,734.43 L490.50,733.97 L490.00,733.51 L489.50,733.05 L489.00,732.59 L488.50,732.12 L488.00,731.66 L487.50,731.19 L487.00,730.73 L486.50,730.26 L486.00,729.80 L485.50,729.33 L485.00,728.86 L484.50,728.39 L484.00,727.92 L483.50,727.44 L483.00,726.97 L482.50,726.50 L482.00,726.02 L481.50,725.55 L481.00,725.07 L480.50,724.59 L480.00,724.11 L479.50,723.63 L479.00,723.15 L478.50,722.67 L478.00,722.19 L477.50,721.71 L477.00,721.22 L476.50,720.74 L476.00,720.25 L475.50,719.76 L475.00,719.28 L474.50,718.79 L474.00,718.30 L473.50,717.80 L473.00,717.31 L472.50,716.82 L472.00,716.32 L471.50,715.83 L471.00,715.33 L470.50,714.84 L470.00,714.34 L469.50,713.84 L469.00,713.34 L468.50,712.84 L468.00,712.33 L467.50,711.83 L467.00,711.33 L466.50,710.82 L466.00,710.32 L465.50,709.81 L465.00,709.30 L464.50,708.79 L464.00,708.28 L463.50,707.77 L463.00,707.26 L462.50,706.74 L462.00,706.23 L461.50,705.71 L461.00,705.20 L460.50,704.68 L460.00,704.16 L459.50,703.64 L459.00,703.12 L458.50,702.60 L458.00,702.07 L457.50,701.55 L457.00,701.03 L456.50,700.50 L456.00,699.97 L455.50,699.44 L455.00,698.92 L454.50,698.38 L454.00,697.85 L453.50,697.32 L453.00,696.79 L452.50,696.25 L452.00,695.72 L451.50,695.18 L451.00,694.64 L450.50,694.10 L450.00,693.56 L449.50,693.02 L449.00,692.48 L448.50,691.94 L448.00,691.39 L447.50,690.85 L447.00,690.30 L446.50,689.75 L446.00,689.20 L445.50,688.65 L445.00,688.10 L444.50,687.55 L444.00,686.99 L443.50,686.44 L443.00,685.88 L442.50,685.33 L442.00,684.77 L441.50,684.21 L441.00,683.65 L440.50,683.09 L440.00,682.52 L439.50,681.96 L439.00,681.40 L438.50,680.83 L438.00,680.26 L437.50,679.69 L437.00,679.12 L436.50,678.55 L436.00,677.98 L435.50,677.41 L435.00,676.83 L434.50,676.26 L434.00,675.68 L433.50,675.10 L433.00,674.52 L432.50,673.94 L432.00,673.36 L431.50,672.78 L431.00,672.20 L430.50,671.61 L430.00,671.02 L429.50,670.44 L429.00,669.85 L428.50,669.26 L428.00,668.67 L427.50,668.07 L427.00,667.48 L426.50,666.89 L426.00,666.29 L425.50,665.69 L425.00,665.09 L424.50,664.49 L424.00,663.89 L423.50,663.29 L423.00,662.69 L422.50,662.08 L422.00,661.48 L421.50,660.87 L421.00,660.26 L420.50,659.65 L420.00,659.04 L419.50,658.43 L419.00,657.81 L418.50,657.20 L418.00,656.58 L417.50,655.97 L417.00,655.35 L416.50,654.73 L416.00,654.11 L415.50,653.48 L415.00,652.86 L414.50,652.23 L414.00,651.61 L413.50,650.98 L413.00,650.35 L412.50,649.72 L412.00,649.09 L411.50,648.46 L411.00,647.82 L410.50,647.19 L410.00,646.55 L409.50,645.91 L409.00,645.27 L408.50,644.63 L408.00,643.99 L407.50,643.34 L407.00,642.70 L406.50,642.05 L406.00,641.40 L405.50,640.75 L405.00,640.10 L404.50,639.45 L404.00,638.80 L403.50,638.14 L403.00,637.49 L402.50,636.83 L402.00,636.17 L401.50,635.51 L401.00,634.85 L400.50,634.19 L400.00,633.52 L399.50,632.86 L399.00,632.19 L398.50,631.52 L398.00,630.85 L397.50,630.18 L397.00,629.51 L396.50,628.83 L396.00,628.16 L395.50,627.48 L395.00,626.80 L394.50,626.12 L394.00,625.44 L393.50,624.76 L393.00,624.08 L392.50,623.39 L392.00,622.70 L391.50,622.02 L391.00,621.33 L390.50,620.63 L390.00,619.94 L389.50,619.25 L389.00,618.55 L388.50,617.85 L388.00,617.16 L387.50,616.46 L387.00,615.75 L386.50,615.05 L386.00,614.35 L385.50,613.64 L385.00,612.93 L384.50,612.22 L384.00,611.51 L383.50,610.80 L383.00,610.09 L382.50,609.37 L382.00,608.66 L381.50,607.94 L381.00,607.22 L380.50,606.50 L380.00,605.77 L379.50,605.05 L379.00,604.32 L378.50,603.60 L378.00,602.87 L377.50,602.14 L377.00,601.41 L376.50,600.67 L376.00,599.94 L375.50,599.20 L375.00,598.46 L374.50,597.72 L374.00,596.98 L373.50,596.24 L373.00,595.49 L372.50,594.75 L372.00,594.00 L371.50,593.25 L371.00,592.50 L370.50,591.75 L370.00,590.99 L369.50,590.24 L369.00,589.48 L368.50,588.72 L368.00,587.96 L367.50,587.20 L367.00,586.44 L366.50,585.67 L366.00,584.90 L365.50,584.13 L365.00,583.36 L364.50,582.59 L364.00,581.82 L363.50,581.04 L363.00,580.27 L362.50,579.49 L362.00,578.71 L361.50,577.93 L361.00,577.14 L360.50,576.36 L360.00,575.57 L359.50,574.78 L359.00,573.99 L358.50,573.20 L358.00,572.41 L357.50,571.61 L357.00,570.81 L356.50,570.02 L356.00,569.21 L355.50,568.41 L355.00,567.61 L354.50,566.80 L354.00,566.00 L353.50,565.19 L353.00,564.38 L352.50,563.56 L352.00,562.75 L351.50,561.93 L351.00,561.12 L350.50,560.30 L350.00,559.48 L349.50,558.65 L349.00,557.83 L348.50,557.00 L348.00,556.17 L347.50,555.34 L347.00,554.51 L346.50,553.68 L346.00,552.84 L345.50,552.01 L345.00,551.17 L344.50,550.33 L344.00,549.48 L343.50,548.64 L343.00,547.79 L342.50,546.94 L342.00,546.10 L341.50,545.24 L341.00,544.39 L340.50,543.53 L340.00,542.68 L339.50,541.82 L339.00,540.96 L338.50,540.10 L338.00,539.23 L337.50,538.37 L337.00,537.50 L336.50,536.63 L336.00,535.76 L335.50,534.88 L335.00,534.01 L334.50,533.13 L334.00,532.25 L333.50,531.37 L333.00,530.49 L332.50,529.60 L332.00,528.71 L331.50,527.82 L331.00,526.93 L330.50,526.04 L330.00,525.15 L329.50,524.25 L329.00,523.35 L328.50,522.45 L328.00,521.55 L327.50,520.65 L327.00,519.74 L326.50,518.83 L326.00,517.92 L325.50,517.01 L325.00,516.10 L324.50,515.18 L324.00,514.26 L323.50,513.34 L323.00,512.42 L322.50,511.50 L322.00,510.57 L321.50,509.65 L321.00,508.72 L320.50,507.79 L320.00,506.85 L319.50,505.92 L319.00,504.98 L318.50,504.04 L318.00,503.10 L317.50,502.16 L317.00,501.21 L316.50,500.27 L316.00,499.32 L315.50,498.37 L315.00,497.41 L314.50,496.46 L314.00,495.50 L313.50,494.54 L313.00,493.58 L312.50,492.62 L312.00,491.65 L311.50,490.68 L311.00,489.71 L310.50,488.74 L310.00,487.77 L309.50,486.79 L309.00,485.82 L308.50,484.84 L308.00,483.86 L307.50,482.87 L307.00,481.89 L306.50,480.90 L306.00,479.91 L305.50,478.92 L305.00,477.92 L304.50,476.93 L304.00,475.93 L303.50,474.93 L303.00,473.93 L302.50,472.92 L302.00,471.92 L301.50,470.91 L301.00,469.90 L300.50,468.88 L300.00,467.87 L299.75,467.36 L299.50,466.85 L299.25,466.34 L299.00,465.83 L298.75,465.32 L298.50,464.81 L298.25,464.30 L298.00,463.79 L297.75,463.28 L297.50,462.76 L297.25,462.25 L297.00,461.74 L296.75,461.22 L296.50,460.71 L296.25,460.19 L296.00,459.68 L295.75,459.16 L295.50,458.64 L295.25,458.13 L295.00,457.61 L294.75,457.09 L294.50,456.57 L294.25,456.05 L294.00,455.53 L293.75,455.01 L293.50,454.49 L293.25,453.97 L293.00,453.44 L292.75,452.92 L292.50,452.40 L292.25,451.87 L292.00,451.35 L291.75,450.82 L291.50,450.30 L291.25,449.77 L291.00,449.25 L290.75,448.72 L290.50,448.19 L290.25,447.66 L290.00,447.13 L289.75,446.61 L289.50,446.08 L289.25,445.55 L289.00,445.01 L288.75,444.48 L288.50,443.95 L288.25,443.42 L288.00,442.89 L287.75,442.35 L287.50,441.82 L287.25,441.28 L287.00,440.75 L286.75,440.21 L286.50,439.68 L286.25,439.14 L286.00,438.60 L285.75,438.07 L285.50,437.53 L285.25,436.99 L285.00,436.45 L284.75,435.91 L284.50,435.37 L284.25,434.83 L284.00,434.29 L283.75,433.75 L283.50,433.20 L283.25,432.66 L283.00,432.12 L282.75,431.57 L282.50,431.03 L282.25,430.48 L282.00,429.94 L281.75,429.39 L281.50,428.85 L281.25,428.30 L281.00,427.75 L280.75,427.20 L280.50,426.65 L280.25,426.11 L280.00,425.56 L279.75,425.01 L279.50,424.45 L279.25,423.90 L279.00,423.35 L278.75,422.80 L278.50,422.25 L278.25,421.69 L278.00,421.14 L277.75,420.58 L277.50,420.03 L277.25,419.47 L277.00,418.92 L276.75,418.36 L276.50,417.80 L276.25,417.25 L276.00,416.69 L275.75,416.13 L275.50,415.57 L275.25,415.01 L275.00,414.45 L274.75,413.89 L274.50,413.33 L274.25,412.77 L274.00,412.20 L273.75,411.64 L273.50,411.08 L273.25,410.51 L273.00,409.95 L272.75,409.38 L272.50,408.82 L272.25,408.25 L272.00,407.69 L271.75,407.12 L271.50,406.55 L271.25,405.98 L271.00,405.42 L270.75,404.85 L270.50,404.28 L270.25,403.71 L270.00,403.14 L269.75,402.57 L269.50,401.99 L269.25,401.42 L269.00,400.85 L268.75,400.28 L268.50,399.70 L268.25,399.13 L268.00,398.55 L267.75,397.98 L267.50,397.40 L267.25,396.83 L267.00,396.25 L266.75,395.67 L266.50,395.10 L266.25,394.52 L266.00,393.94 L265.75,393.36 L265.50,392.78 L265.25,392.20 L265.00,391.62 L264.75,391.04 L264.50,390.46 L264.25,389.88 L264.00,389.29 L263.75,388.71 L263.50,388.13 L263.25,387.54 L263.00,386.96 L262.75,386.37 L262.50,385.79 L262.25,385.20 L262.00,384.61 L261.75,384.03 L261.50,383.44 L261.25,382.85 L261.00,382.26 L260.75,381.68 L260.50,381.09 L260.25,380.50 L260.00,379.91 L259.75,379.32 L259.50,378.72 L259.25,378.13 L259.00,377.54 L258.75,376.95 L258.50,376.35 L258.25,375.76 L258.00,375.17 L257.75,374.57 L257.50,373.98 L257.25,373.38 L257.00,372.79 L256.75,372.19 L256.50,371.59 L256.25,371.00 L256.00,370.40 L255.75,369.80 L255.50,369.20 L255.25,368.60 L255.00,368.00 L254.75,367.40 L254.50,366.80 L254.25,366.20 L254.00,365.60 L253.75,365.00 L253.50,364.40 L253.25,363.79 L253.00,363.19 L252.75,362.59 L252.50,361.98 L252.25,361.38 L252.00,360.77 L251.75,360.17 L251.50,359.56 L251.25,358.96 L251.00,358.35 L250.75,357.74 L250.50,357.14 L250.25,356.53 L250.00,355.92 L249.75,355.31 L249.50,354.70 L249.25,354.10 L249.00,353.49 L248.75,352.88 L248.50,352.27 L248.25,351.65 L248.00,351.04 L247.75,350.43 L247.50,349.82 L247.25,349.21 L247.00,348.59 L246.75,347.98 L246.50,347.37 L246.25,346.75 L246.00,346.14 L245.75,345.53 L245.50,344.91 L245.25,344.30 L245.00,343.68 L244.75,343.06 L244.50,342.45 L244.25,341.83 L244.00,341.21 L243.75,340.60 L243.50,339.98 L243.25,339.36 L243.00,338.74 L242.75,338.12 L242.50,337.50 L242.25,336.88 L242.00,336.26 L241.75,335.64 L241.50,335.02 L241.25,334.40 L241.00,333.78 L240.75,333.16 L240.50,332.54 L240.25,331.92 L240.00,331.29 L239.75,330.67 L239.50,330.05 L239.25,329.43 L239.00,328.80 L238.75,328.18 L238.50,327.56 L238.25,326.93 L238.00,326.31 L237.75,325.68 L237.50,325.06 L237.25,324.43 L237.00,323.81 L236.75,323.18 L236.50,322.55 L236.25,321.93 L236.00,321.30 L235.75,320.67 L235.50,320.05 L235.25,319.42 L235.00,318.79 L234.75,318.17 L234.50,317.54 L234.25,316.91 L234.00,316.28 L233.75,315.65 L233.50,315.02 L233.25,314.40 L233.00,313.77 L232.75,313.14 L232.50,312.51 L232.25,311.88 L232.00,311.25 L231.75,310.62 L231.50,309.99 L231.25,309.36 L231.00,308.73 L230.75,308.10 L230.50,307.47 L230.25,306.84 L230.00,306.21 L229.75,305.58 L229.50,304.94 L229.25,304.31 L229.00,303.68 L228.75,303.05 L228.50,302.42 L228.25,301.79 L228.00,301.16 L227.75,300.52 L227.50,299.89 L227.25,299.26 L227.00,298.63 L226.75,298.00 L226.50,297.37 L226.25,296.73 L226.00,296.10 L225.75,295.47 L225.50,294.84 L225.25,294.21 L225.00,293.57 L224.75,292.94 L224.50,292.31 L224.25,291.68 L224.00,291.05 L223.75,290.41 L223.50,289.78 L223.25,289.15 L223.00,288.52 L222.75,287.89 L222.50,287.26 L222.25,286.62 L222.00,285.99 L221.75,285.36 L221.50,284.73 L221.25,284.10 L221.00,283.47 L220.75,282.84 L220.50,282.21 L220.25,281.58 L220.00,280.94 L219.75,280.31 L219.50,279.68 L219.25,279.05 L219.00,278.42 L218.75,277.79 L218.50,277.17 L218.25,276.54 L218.00,275.91 L217.75,275.28 L217.50,274.65 L217.25,274.02 L217.00,273.39 L216.75,272.77 L216.50,272.14 L216.25,271.51 L216.00,270.89 L215.75,270.26 L215.50,269.63 L215.25,269.01 L215.00,268.38 L214.75,267.76 L214.50,267.13 L214.25,266.51 L214.00,265.88 L213.75,265.26 L213.50,264.64 L213.25,264.01 L213.00,263.39 L212.75,262.77 L212.50,262.15 L212.25,261.52 L212.00,260.90 L211.75,260.28 L211.50,259.66 L211.25,259.05 L211.00,258.43 L210.75,257.81 L210.50,257.19 L210.25,256.57 L210.00,255.96 L209.75,255.34 L209.50,254.73 L209.25,254.11 L209.00,253.50 L208.75,252.88 L208.50,252.27 L208.25,251.66 L208.00,251.05 L207.75,250.44 L207.50,249.83 L207.25,249.22 L207.00,248.61 L206.75,248.00 L206.50,247.39 L206.25,246.79 L206.00,246.18 L205.75,245.58 L205.50,244.97 L205.25,244.37 L205.00,243.77 L204.75,243.16 L204.50,242.56 L204.25,241.96 L204.00,241.36 L203.75,240.77 L203.50,240.17 L203.25,239.57 L203.00,238.98 L202.75,238.38 L202.50,237.79 L202.25,237.20 L202.00,236.61 L201.75,236.02 L201.50,235.43 L201.25,234.84 L201.00,234.26 L200.75,233.67 L200.50,233.09 L200.25,232.50 L200.00,231.92 L199.75,231.34 L199.50,230.76 L199.25,230.18 L199.00,229.60 L198.75,229.03 L198.50,228.45 L198.25,227.88 L198.00,227.31 L197.75,226.74 L197.50,226.17 L197.25,225.60 L197.00,225.04 L196.75,224.47 L196.50,223.91 L196.25,223.35 L196.00,222.79 L195.75,222.23 L195.50,221.67 L195.25,221.11 L195.00,220.56 L194.75,220.01 L194.50,219.46 L194.25,218.91 L194.00,218.36 L193.75,217.81 L193.50,217.27 L193.25,216.73 L193.00,216.19 L192.75,215.65 L192.50,215.11 L192.25,214.58 L192.00,214.05 L191.75,213.51 L191.50,212.99 L191.25,212.46 L191.00,211.93 L190.75,211.41 L190.50,210.89 L190.25,210.37 L190.00,209.86 L189.75,209.34 L189.50,208.83 L189.25,208.32 L189.00,207.81 L188.75,207.31 L188.50,206.80 L188.25,206.30 L188.00,205.80 L187.75,205.31 L187.50,204.82 L187.25,204.32 L187.00,203.84 L186.75,203.35 L186.50,202.87 L186.25,202.39 L186.00,201.91 L185.75,201.43 L185.50,200.96 L185.25,200.49 L185.00,200.02 L184.75,199.56 L184.50,199.10 L184.25,198.64 L184.00,198.19 L183.75,197.73 L183.50,197.28 L183.25,196.84 L183.00,196.39 L182.75,195.95 L182.50,195.52 L182.25,195.08 L182.00,194.65 L181.75,194.23 L181.50,193.80 L181.25,193.39 L181.00,192.97 L180.75,192.56 L180.50,192.15 L180.25,191.74 L180.00,191.34 L179.75,190.94 L179.50,190.55 L179.25,190.16 L179.00,189.77 L178.75,189.39 L178.50,189.01 L178.25,188.64 L178.00,188.27 L177.75,187.90 L177.50,187.54 L177.25,187.18 L177.00,186.83 L176.75,186.48 L176.50,186.14 L176.25,185.80 L176.00,185.46 L175.75,185.13 L175.50,184.81 L175.25,184.49 L175.00,184.17 L174.75,183.86 L174.50,183.56 L174.25,183.26 L174.00,182.96 L173.75,182.67 L173.50,182.39 L173.25,182.11 L173.00,181.84 L172.75,181.57 L172.50,181.31 L172.25,181.06 L172.00,180.81 L171.75,180.57 L171.50,180.33 L171.25,180.10 L171.00,179.88 L170.75,179.66 L170.50,179.45 L170.25,179.25 L170.00,179.05 L169.75,178.86 L169.50,178.68 L169.25,178.51 L169.00,178.34 L168.75,178.18 L168.50,178.03 L168.25,177.89 L168.00,177.75 L167.75,177.63 L167.50,177.51 L167.25,177.40 L167.00,177.30 L166.75,177.21 L166.50,177.12 L166.25,177.05 L166.00,176.99 L165.75,176.93 L165.50,176.94 L165.25,177.00 L165.00,177.07 L164.75,177.30 L164.50,177.54 L164.25,177.77 L164.00,178.00 L163.75,178.00 L163.50,178.00 L163.25,178.00 L163.00,178.00 L162.75,178.00 L162.50,178.00 L162.25,178.00 L162.00,178.00 Z" fill="#0072BD"/>
<path d="M162.00,175.37 L162.25,175.37 L162.50,175.37 L162.75,175.37 L163.00,175.37 L163.25,174.86 L163.50,174.39 L163.75,173.95 L164.00,173.54 L164.25,173.16 L164.50,172.80 L164.75,172.48 L165.00,172.17 L165.25,171.89 L165.50,171.63 L165.75,171.40 L166.00,171.18 L166.25,170.99 L166.50,170.81 L166.75,170.65 L167.00,170.51 L167.25,170.38 L167.50,170.27 L167.75,170.17 L168.00,170.09 L168.25,170.02 L168.50,169.97 L168.75,169.93 L169.00,169.90 L169.25,169.88 L169.50,169.87 L169.75,169.87 L170.00,169.87 L170.25,169.87 L170.50,169.87 L170.75,169.87 L171.00,169.87 L171.25,169.87 L171.50,169.87 L171.75,169.87 L172.00,169.89 L172.25,169.91 L172.50,169.94 L172.75,169.99 L173.00,170.04 L173.25,170.10 L173.50,170.17 L173.75,170.24 L174.00,170.33 L174.25,170.42 L174.50,170.52 L174.75,170.62 L175.00,170.74 L175.25,170.86 L175.50,170.98 L175.75,171.12 L176.00,171.26 L176.25,171.40 L176.50,171.55 L176.75,171.71 L177.00,171.87 L177.25,172.04 L177.50,172.21 L177.75,172.39 L178.00,172.57 L178.25,172.75 L178.50,172.95 L178.75,173.14 L179.00,173.34 L179.25,173.55 L179.50,173.76 L179.75,173.97 L180.00,174.19 L180.25,174.42 L180.50,174.64 L180.75,174.87 L181.00,175.11 L181.25,175.35 L181.50,175.59 L181.75,175.83 L182.00,176.08 L182.25,176.34 L182.50,176.59 L182.75,176.85 L183.00,177.12 L183.25,177.38 L183.50,177.66 L183.75,177.93 L184.00,178.21 L184.25,178.49 L184.50,178.77 L184.75,179.05 L185.00,179.34 L185.25,179.64 L185.50,179.93 L185.75,180.23 L186.00,180.53 L186.25,180.83 L186.50,181.14 L186.75,181.45 L187.00,181.76 L187.25,182.08 L187.50,182.39 L187.75,182.71 L188.00,183.04 L188.25,183.36 L188.50,183.69 L188.75,184.02 L189.00,184.35 L189.25,184.69 L189.50,185.03 L189.75,185.37 L190.00,185.71 L190.25,186.05 L190.50,186.40 L190.75,186.75 L191.00,187.10 L191.25,187.46 L191.50,187.81 L191.75,188.17 L192.00,188.53 L192.25,188.90 L192.50,189.26 L192.75,189.63 L193.00,190.00 L193.25,190.37 L193.50,190.74 L193.75,191.12 L194.00,191.50 L194.25,191.88 L194.50,192.26 L194.75,192.64 L195.00,193.03 L195.25,193.41 L195.50,193.80 L195.75,194.19 L196.00,194.59 L196.25,194.98 L196.50,195.38 L196.75,195.78 L197.00,196.18 L197.25,196.58 L197.50,196.98 L197.75,197.39 L198.00,197.79 L198.25,198.20 L198.50,198.61 L198.75,199.02 L199.00,199.44 L199.25,199.85 L199.50,200.27 L199.75,200.69 L200.00,201.11 L200.25,201.53 L200.50,201.95 L200.75,202.38 L201.00,202.80 L201.25,203.23 L201.50,203.66 L201.75,204.09 L202.00,204.52 L202.25,204.96 L202.50,205.39 L202.75,205.83 L203.00,206.26 L203.25,206.70 L203.50,207.14 L203.75,207.58 L204.00,208.03 L204.25,208.47 L204.50,208.92 L204.75,209.36 L205.00,209.81 L205.25,210.26 L205.50,210.71 L205.75,211.16 L206.00,211.62 L206.25,212.07 L206.50,212.53 L206.75,212.98 L207.00,213.44 L207.25,213.90 L207.50,214.36 L207.75,214.82 L208.00,215.28 L208.25,215.74 L208.50,216.21 L208.75,216.67 L209.00,217.14 L209.25,217.61 L209.50,218.08 L209.75,218.55 L210.00,219.02 L210.25,219.49 L210.50,219.96 L210.75,220.43 L211.00,220.91 L211.25,221.38 L211.50,221.86 L211.75,222.34 L212.00,222.82 L212.25,223.30 L212.50,223.78 L212.75,224.26 L213.00,224.74 L213.25,225.22 L213.50,225.70 L213.75,226.19 L214.00,226.67 L214.25,227.16 L214.50,227.65 L214.75,228.13 L215.00,228.62 L215.25,229.11 L215.50,229.60 L215.75,230.09 L216.00,230.58 L216.25,231.07 L216.50,231.57 L216.75,232.06 L217.00,232.56 L217.25,233.05 L217.50,233.55 L217.75,234.04 L218.00,234.54 L218.25,235.04 L218.50,235.53 L218.75,236.03 L219.00,236.53 L219.25,237.03 L219.50,237.53 L219.75,238.04 L220.00,238.54 L220.25,239.04 L220.50,239.54 L220.75,240.05 L221.00,240.55 L221.25,241.06 L221.50,241.56 L221.75,242.07 L222.00,242.57 L222.25,243.08 L222.50,243.59 L222.75,244.10 L223.00,244.61 L223.25,245.11 L223.50,245.62 L223.75,246.13 L224.00,246.64 L224.25,247.16 L224.50,247.67 L224.75,248.18 L225.00,248.69 L225.25,249.20 L225.50,249.72 L225.75,250.23 L226.00,250.74 L226.25,251.26 L226.50,251.77 L226.75,252.29 L227.00,252.80 L227.25,253.32 L227.50,253.84 L227.75,254.35 L228.00,254.87 L228.25,255.39 L228.50,255.91 L228.75,256.42 L229.00,256.94 L229.25,257.46 L229.50,257.98 L229.75,258.50 L230.00,259.02 L230.25,259.54 L230.50,260.06 L230.75,260.58 L231.00,261.10 L231.25,261.62 L231.50,262.14 L231.75,262.66 L232.00,263.18 L232.25,263.71 L232.50,264.23 L232.75,264.75 L233.00,265.27 L233.25,265.80 L233.50,266.32 L233.75,266.84 L234.00,267.37 L234.25,267.89 L234.50,268.42 L234.75,268.94 L235.00,269.46 L235.25,269.99 L235.50,270.51 L235.75,271.04 L236.00,271.56 L236.25,272.09 L236.50,272.61 L236.75,273.14 L237.00,273.66 L237.25,274.19 L237.50,274.72 L237.75,275.24 L238.00,275.77 L238.25,276.29 L238.50,276.82 L238.75,277.35 L239.00,277.87 L239.25,278.40 L239.50,278.93 L239.75,279.45 L240.00,279.98 L240.25,280.51 L240.50,281.04 L240.75,281.56 L241.00,282.09 L241.25,282.62 L241.50,283.14 L241.75,283.67 L242.00,284.20 L242.25,284.73 L242.50,285.25 L242.75,285.78 L243.00,286.31 L243.25,286.84 L243.50,287.36 L243.75,287.89 L244.00,288.42 L244.25,288.95 L244.50,289.48 L244.75,290.00 L245.00,290.53 L245.25,291.06 L245.50,291.59 L245.75,292.11 L246.00,292.64 L246.25,293.17 L246.50,293.70 L246.75,294.22 L247.00,294.75 L247.25,295.28 L247.50,295.81 L247.75,296.34 L248.00,296.86 L248.25,297.39 L248.50,297.92 L248.75,298.44 L249.00,298.97 L249.25,299.50 L249.50,300.03 L249.75,300.55 L250.00,301.08 L250.25,301.61 L250.50,302.13 L250.75,302.66 L251.00,303.19 L251.25,303.71 L251.50,304.24 L251.75,304.77 L252.00,305.29 L252.25,305.82 L252.50,306.34 L252.75,306.87 L253.00,307.40 L253.25,307.92 L253.50,308.45 L253.75,308.97 L254.00,309.50 L254.25,310.02 L254.50,310.55 L254.75,311.07 L255.00,311.60 L255.25,312.12 L255.50,312.65 L255.75,313.17 L256.00,313.70 L256.25,314.22 L256.50,314.75 L256.75,315.27 L257.00,315.79 L257.25,316.32 L257.50,316.84 L257.75,317.36 L258.00,317.89 L258.25,318.41 L258.50,318.93 L258.75,319.45 L259.00,319.98 L259.25,320.50 L259.50,321.02 L259.75,321.54 L260.00,322.07 L260.25,322.59 L260.50,323.11 L260.75,323.63 L261.00,324.15 L261.25,324.67 L261.50,325.19 L261.75,325.71 L262.00,326.23 L262.25,326.75 L262.50,327.27 L262.75,327.79 L263.00,328.31 L263.25,328.83 L263.50,329.35 L263.75,329.87 L264.00,330.39 L264.25,330.90 L264.50,331.42 L264.75,331.94 L265.00,332.46 L265.25,332.97 L265.50,333.49 L265.75,334.01 L266.00,334.53 L266.25,335.04 L266.50,335.56 L266.75,336.07 L267.00,336.59 L267.25,337.11 L267.50,337.62 L267.75,338.14 L268.00,338.65 L268.25,339.16 L268.50,339.68 L268.75,340.19 L269.00,340.71 L269.25,341.22 L269.50,341.73 L269.75,342.25 L270.00,342.76 L270.25,343.27 L270.50,343.78 L270.75,344.30 L271.00,344.81 L271.25,345.32 L271.50,345.83 L271.75,346.34 L272.00,346.85 L272.25,347.36 L272.50,347.87 L272.75,348.38 L273.00,348.89 L273.25,349.40 L273.50,349.91 L273.75,350.42 L274.00,350.93 L274.25,351.43 L274.50,351.94 L274.75,352.45 L275.00,352.96 L275.25,353.46 L275.50,353.97 L275.75,354.48 L276.00,354.98 L276.25,355.49 L276.50,355.99 L276.75,356.50 L277.00,357.00 L277.25,357.51 L277.50,358.01 L277.75,358.52 L278.00,359.02 L278.25,359.52 L278.50,360.03 L278.75,360.53 L279.00,361.03 L279.25,361.53 L279.50,362.04 L279.75,362.54 L280.00,363.04 L280.25,363.54 L280.50,364.04 L280.75,364.54 L281.00,365.04 L281.25,365.54 L281.50,366.04 L281.75,366.54 L282.00,367.04 L282.25,367.54 L282.50,368.03 L282.75,368.53 L283.00,369.03 L283.25,369.53 L283.50,370.02 L283.75,370.52 L284.00,371.02 L284.25,371.51 L284.50,372.01 L284.75,372.50 L285.00,373.00 L285.25,373.49 L285.50,373.99 L285.75,374.48 L286.00,374.97 L286.25,375.47 L286.50,375.96 L286.75,376.45 L287.00,376.94 L287.25,377.43 L287.50,377.93 L287.75,378.42 L288.00,378.91 L288.25,379.40 L288.50,379.89 L288.75,380.38 L289.00,380.87 L289.25,381.36 L289.50,381.85 L289.75,382.33 L290.00,382.82 L290.25,383.31 L290.50,383.80 L290.75,384.28 L291.00,384.77 L291.25,385.26 L291.50,385.74 L291.75,386.23 L292.00,386.71 L292.25,387.20 L292.50,387.68 L292.75,388.17 L293.00,388.65 L293.25,389.13 L293.50,389.62 L293.75,390.10 L294.00,390.58 L294.25,391.06 L294.50,391.55 L294.75,392.03 L295.00,392.51 L295.25,392.99 L295.50,393.47 L295.75,393.95 L296.00,394.43 L296.25,394.91 L296.50,395.39 L296.75,395.87 L297.00,396.34 L297.25,396.82 L297.50,397.30 L297.75,397.78 L298.00,398.25 L298.25,398.73 L298.50,399.20 L298.75,399.68 L299.00,400.16 L299.25,400.63 L299.50,401.10 L299.75,401.58 L300.00,402.05 L300.50,403.00 L301.00,403.94 L301.50,404.89 L302.00,405.83 L302.50,406.77 L303.00,407.71 L303.50,408.65 L304.00,409.58 L304.50,410.52 L305.00,411.45 L305.50,412.38 L306.00,413.31 L306.50,414.24 L307.00,415.17 L307.50,416.09 L308.00,417.02 L308.50,417.94 L309.00,418.86 L309.50,419.78 L310.00,420.70 L310.50,421.62 L311.00,422.53 L311.50,423.45 L312.00,424.36 L312.50,425.27 L313.00,426.18 L313.50,427.09 L314.00,427.99 L314.50,428.90 L315.00,429.80 L315.50,430.70 L316.00,431.60 L316.50,432.50 L317.00,433.40 L317.50,434.29 L318.00,435.19 L318.50,436.08 L319.00,436.97 L319.50,437.86 L320.00,438.75 L320.50,439.63 L321.00,440.52 L321.50,441.40 L322.00,442.28 L322.50,443.17 L323.00,444.04 L323.50,444.92 L324.00,445.80 L324.50,446.67 L325.00,447.55 L325.50,448.42 L326.00,449.29 L326.50,450.15 L327.00,451.02 L327.50,451.89 L328.00,452.75 L328.50,453.61 L329.00,454.47 L329.50,455.33 L330.00,456.19 L330.50,457.05 L331.00,457.90 L331.50,458.76 L332.00,459.61 L332.50,460.46 L333.00,461.31 L333.50,462.15 L334.00,463.00 L334.50,463.84 L335.00,464.69 L335.50,465.53 L336.00,466.37 L336.50,467.21 L337.00,468.04 L337.50,468.88 L338.00,469.71 L338.50,470.55 L339.00,471.38 L339.50,472.21 L340.00,473.03 L340.50,473.86 L341.00,474.69 L341.50,475.51 L342.00,476.33 L342.50,477.15 L343.00,477.97 L343.50,478.79 L344.00,479.61 L344.50,480.42 L345.00,481.23 L345.50,482.05 L346.00,482.86 L346.50,483.66 L347.00,484.47 L347.50,485.28 L348.00,486.08 L348.50,486.89 L349.00,487.69 L349.50,488.49 L350.00,489.29 L350.50,490.08 L351.00,490.88 L351.50,491.67 L352.00,492.47 L352.50,493.26 L353.00,494.05 L353.50,494.84 L354.00,495.62 L354.50,496.41 L355.00,497.19 L355.50,497.98 L356.00,498.76 L356.50,499.54 L357.00,500.32 L357.50,501.10 L358.00,501.87 L358.50,502.65 L359.00,503.42 L359.50,504.19 L360.00,504.96 L360.50,505.73 L361.00,506.50 L361.50,507.26 L362.00,508.03 L362.50,508.79 L363.00,509.55 L363.50,510.31 L364.00,511.07 L364.50,511.83 L365.00,512.59 L365.50,513.34 L366.00,514.09 L366.50,514.85 L367.00,515.60 L367.50,516.35 L368.00,517.10 L368.50,517.84 L369.00,518.59 L369.50,519.33 L370.00,520.07 L370.50,520.81 L371.00,521.55 L371.50,522.29 L372.00,523.03 L372.50,523.77 L373.00,524.50 L373.50,525.23 L374.00,525.97 L374.50,526.70 L375.00,527.43 L375.50,528.15 L376.00,528.88 L376.50,529.60 L377.00,530.33 L377.50,531.05 L378.00,531.77 L378.50,532.49 L379.00,533.21 L379.50,533.93 L380.00,534.64 L380.50,535.36 L381.00,536.07 L381.50,536.78 L382.00,537.49 L382.50,538.20 L383.00,538.91 L383.50,539.62 L384.00,540.32 L384.50,541.03 L385.00,541.73 L385.50,542.43 L386.00,543.13 L386.50,543.83 L387.00,544.53 L387.50,545.23 L388.00,545.92 L388.50,546.61 L389.00,547.31 L389.50,548.00 L390.00,548.69 L390.50,549.38 L391.00,550.07 L391.50,550.75 L392.00,551.44 L392.50,552.12 L393.00,552.80 L393.50,553.48 L394.00,554.16 L394.50,554.84 L395.00,555.52 L395.50,556.20 L396.00,556.87 L396.50,557.55 L397.00,558.22 L397.50,558.89 L398.00,559.56 L398.50,560.23 L399.00,560.90 L399.50,561.56 L400.00,562.23 L400.50,562.89 L401.00,563.56 L401.50,564.22 L402.00,564.88 L402.50,565.54 L403.00,566.20 L403.50,566.85 L404.00,567.51 L404.50,568.16 L405.00,568.82 L405.50,569.47 L406.00,570.12 L406.50,570.77 L407.00,571.42 L407.50,572.06 L408.00,572.71 L408.50,573.36 L409.00,574.00 L409.50,574.64 L410.00,575.28 L410.50,575.92 L411.00,576.56 L411.50,577.20 L412.00,577.84 L412.50,578.47 L413.00,579.11 L413.50,579.74 L414.00,580.37 L414.50,581.01 L415.00,581.64 L415.50,582.26 L416.00,582.89 L416.50,583.52 L417.00,584.14 L417.50,584.77 L418.00,585.39 L418.50,586.01 L419.00,586.63 L419.50,587.25 L420.00,587.87 L420.50,588.49 L421.00,589.11 L421.50,589.72 L422.00,590.34 L422.50,590.95 L423.00,591.56 L423.50,592.17 L424.00,592.78 L424.50,593.39 L425.00,594.00 L425.50,594.60 L426.00,595.21 L426.50,595.81 L427.00,596.42 L427.50,597.02 L428.00,597.62 L428.50,598.22 L429.00,598.82 L429.50,599.42 L430.00,600.01 L430.50,600.61 L431.00,601.20 L431.50,601.80 L432.00,602.39 L432.50,602.98 L433.00,603.57 L433.50,604.16 L434.00,604.75 L434.50,605.34 L435.00,605.92 L435.50,606.51 L436.00,607.09 L436.50,607.67 L437.00,608.26 L437.50,608.84 L438.00,609.42 L438.50,610.00 L439.00,610.57 L439.50,611.15 L440.00,611.73 L440.50,612.30 L441.00,612.87 L441.50,613.45 L442.00,614.02 L442.50,614.59 L443.00,615.16 L443.50,615.73 L444.00,616.30 L444.50,616.86 L445.00,617.43 L445.50,617.99 L446.00,618.56 L446.50,619.12 L447.00,619.68 L447.50,620.24 L448.00,620.80 L448.50,621.36 L449.00,621.92 L449.50,622.47 L450.00,623.03 L450.50,623.58 L451.00,624.14 L451.50,624.69 L452.00,625.24 L452.50,625.79 L453.00,626.34 L453.50,626.89 L454.00,627.44 L454.50,627.98 L455.00,628.53 L455.50,629.07 L456.00,629.62 L456.50,630.16 L457.00,630.70 L457.50,631.24 L458.00,631.78 L458.50,632.32 L459.00,632.86 L459.50,633.40 L460.00,633.93 L460.50,634.47 L461.00,635.00 L461.50,635.54 L462.00,636.07 L462.50,636.60 L463.00,637.13 L463.50,637.66 L464.00,638.19 L464.50,638.72 L465.00,639.25 L465.50,639.77 L466.00,640.30 L466.50,640.82 L467.00,641.34 L467.50,641.87 L468.00,642.39 L468.50,642.91 L469.00,643.43 L469.50,643.95 L470.00,644.46 L470.50,644.98 L471.00,645.50 L471.50,646.01 L472.00,646.53 L472.50,647.04 L473.00,647.55 L473.50,648.06 L474.00,648.57 L474.50,649.08 L475.00,649.59 L475.50,650.10 L476.00,650.61 L476.50,651.11 L477.00,651.62 L477.50,652.12 L478.00,652.63 L478.50,653.13 L479.00,653.63 L479.50,654.13 L480.00,654.63 L480.50,655.13 L481.00,655.63 L481.50,656.13 L482.00,656.62 L482.50,657.12 L483.00,657.61 L483.50,658.11 L484.00,658.60 L484.50,659.09 L485.00,659.59 L485.50,660.08 L486.00,660.57 L486.50,661.05 L487.00,661.54 L487.50,662.03 L488.00,662.52 L488.50,663.00 L489.00,663.49 L489.50,663.97 L490.00,664.45 L490.50,664.94 L491.00,665.42 L491.50,665.90 L492.00,666.38 L492.50,666.86 L493.00,667.33 L493.50,667.81 L494.00,668.29 L494.50,668.76 L495.00,669.24 L495.50,669.71 L496.00,670.19 L496.50,670.66 L497.00,671.13 L497.50,671.60 L498.00,672.07 L498.50,672.54 L499.00,673.01 L499.50,673.48 L500.00,673.94 L500.50,674.41 L501.00,674.87 L501.50,675.34 L502.00,675.80 L502.50,676.27 L503.00,676.73 L503.50,677.19 L504.00,677.65 L504.50,678.11 L505.00,678.57 L505.50,679.03 L506.00,679.48 L506.50,679.94 L507.00,680.40 L507.50,680.85 L508.00,681.30 L508.50,681.76 L509.00,682.21 L509.50,682.66 L510.00,683.11 L510.50,683.56 L511.00,684.01 L511.50,684.46 L512.00,684.91 L512.50,685.36 L513.00,685.80 L513.50,686.25 L514.00,686.70 L514.50,687.14 L515.00,687.58 L515.50,688.03 L516.00,688.47 L516.50,688.91 L517.00,689.35 L517.50,689.79 L518.00,690.23 L518.50,690.67 L519.00,691.11 L519.50,691.54 L520.00,691.98 L520.50,692.41 L521.00,692.85 L521.50,693.28 L522.00,693.72 L522.50,694.15 L523.00,694.58 L523.50,695.01 L524.00,695.44 L524.50,695.87 L525.00,696.30 L525.50,696.73 L526.00,697.16 L526.50,697.58 L527.00,698.01 L527.50,698.44 L528.00,698.86 L528.50,699.28 L529.00,699.71 L529.50,700.13 L530.00,700.55 L530.50,700.97 L531.00,701.39 L531.50,701.81 L532.00,702.23 L532.50,702.65 L533.00,703.07 L533.50,703.49 L534.00,703.90 L534.50,704.32 L535.00,704.73 L535.50,705.15 L536.00,705.56 L536.50,705.97 L537.00,706.38 L537.50,706.80 L538.00,707.21 L538.50,707.62 L539.00,708.03 L539.50,708.44 L540.00,708.84 L540.50,709.25 L541.00,709.66 L541.50,710.06 L542.00,710.47 L542.50,710.87 L543.00,711.28 L543.50,711.68 L544.00,712.08 L544.50,712.49 L545.00,712.89 L545.50,713.29 L546.00,713.69 L546.50,714.09 L547.00,714.49 L547.50,714.88 L548.00,715.28 L548.50,715.68 L549.00,716.08 L549.50,716.47 L550.00,716.87 L550.50,717.26 L551.00,717.65 L551.50,718.05 L552.00,718.44 L552.50,718.83 L553.00,719.22 L553.50,719.61 L554.00,720.00 L554.50,720.39 L555.00,720.78 L555.50,721.17 L556.00,721.55 L556.50,721.94 L557.00,722.33 L557.50,722.71 L558.00,723.10 L558.50,723.48 L559.00,723.86 L559.50,724.25 L560.00,724.63 L560.50,725.01 L561.00,725.39 L561.50,725.77 L562.00,726.15 L562.50,726.53 L563.00,726.91 L563.50,727.29 L564.00,727.66 L564.50,728.04 L565.00,728.42 L565.50,728.79 L566.00,729.17 L566.50,729.54 L567.00,729.91 L567.50,730.29 L568.00,730.66 L568.50,731.03 L569.00,731.40 L569.50,731.77 L570.00,732.14 L570.50,732.51 L571.00,732.88 L571.50,733.25 L572.00,733.62 L572.50,733.98 L573.00,734.35 L573.50,734.72 L574.00,735.08 L574.50,735.45 L575.00,735.81 L575.50,736.17 L576.00,736.54 L576.50,736.90 L577.00,737.26 L577.50,737.62 L578.00,737.98 L578.50,738.34 L579.00,738.70 L579.50,739.06 L580.00,739.42 L580.50,739.78 L581.00,740.13 L581.50,740.49 L582.00,740.85 L582.50,741.20 L583.00,741.56 L583.50,741.91 L584.00,742.27 L584.50,742.62 L585.00,742.97 L585.50,743.32 L586.00,743.67 L586.50,744.03 L587.00,744.38 L587.50,744.73 L588.00,745.08 L588.50,745.42 L589.00,745.77 L589.50,746.12 L590.00,746.47 L590.50,746.81 L591.00,747.16 L591.50,747.50 L592.00,747.85 L592.50,748.19 L593.00,748.54 L593.50,748.88 L594.00,749.22 L594.50,749.57 L595.00,749.91 L595.50,750.25 L596.00,750.59 L596.50,750.93 L597.00,751.27 L597.50,751.61 L598.00,751.95 L598.50,752.28 L599.00,752.62 L599.50,752.96 L600.00,753.29 L602.00,754.63 L604.00,755.96 L606.00,757.29 L608.00,758.60 L610.00,759.91 L612.00,761.21 L614.00,762.50 L616.00,763.78 L618.00,765.05 L620.00,766.32 L622.00,767.58 L624.00,768.83 L626.00,770.07 L628.00,771.31 L630.00,772.53 L632.00,773.75 L634.00,774.97 L636.00,776.17 L638.00,777.37 L640.00,778.56 L642.00,779.74 L644.00,780.92 L646.00,782.09 L648.00,783.25 L650.00,784.40 L652.00,785.55 L654.00,786.69 L656.00,787.83 L658.00,788.95 L660.00,790.07 L662.00,791.19 L664.00,792.29 L666.00,793.39 L668.00,794.49 L670.00,795.57 L672.00,796.66 L674.00,797.73 L676.00,798.80 L678.00,799.86 L680.00,800.91 L682.00,801.96 L684.00,803.00 L686.00,804.04 L688.00,805.07 L690.00,806.09 L692.00,807.11 L694.00,808.12 L696.00,809.13 L698.00,810.13 L700.00,811.13 L702.00,812.11 L704.00,813.10 L706.00,814.07 L708.00,815.05 L710.00,816.01 L712.00,816.97 L714.00,817.93 L716.00,818.87 L718.00,819.82 L720.00,820.76 L722.00,821.69 L724.00,822.61 L726.00,823.54 L728.00,824.45 L730.00,825.36 L732.00,826.27 L734.00,827.17 L736.00,828.07 L738.00,828.96 L740.00,829.84 L742.00,830.72 L744.00,831.60 L746.00,832.47 L748.00,833.33 L750.00,834.19 L752.00,835.05 L754.00,835.90 L756.00,836.74 L758.00,837.59 L760.00,838.42 L762.00,839.25 L764.00,840.08 L766.00,840.90 L768.00,841.72 L770.00,842.53 L772.00,843.34 L774.00,844.15 L776.00,844.94 L778.00,845.74 L780.00,846.53 L782.00,847.32 L784.00,848.10 L786.00,848.87 L788.00,849.65 L790.00,850.42 L792.00,851.18 L794.00,851.94 L796.00,852.70 L798.00,853.45 L800.00,854.19 L802.00,854.94 L804.00,855.68 L806.00,856.41 L808.00,857.14 L810.00,857.87 L812.00,858.59 L814.00,859.31 L816.00,860.03 L818.00,860.74 L820.00,861.45 L822.00,862.15 L824.00,862.85 L826.00,863.55 L828.00,864.24 L830.00,864.93 L832.00,865.61 L834.00,866.29 L836.00,866.97 L838.00,867.64 L840.00,868.31 L842.00,868.98 L844.00,869.64 L846.00,870.30 L848.00,870.95 L850.00,871.61 L852.00,872.25 L854.00,872.90 L856.00,873.54 L858.00,874.18 L860.00,874.81 L862.00,875.44 L864.00,876.07 L866.00,876.70 L868.00,877.32 L870.00,877.93 L872.00,878.55 L874.00,879.16 L876.00,879.77 L878.00,880.37 L880.00,880.97 L882.00,881.57 L884.00,882.16 L886.00,882.76 L888.00,883.35 L890.00,883.93 L892.00,884.51 L894.00,885.09 L896.00,885.67 L898.00,886.24 L900.00,886.81 L902.00,887.38 L904.00,887.94 L906.00,888.50 L908.00,889.06 L910.00,889.62 L912.00,890.17 L914.00,890.72 L916.00,891.27 L918.00,891.81 L920.00,892.35 L922.00,892.89 L924.00,893.42 L926.00,893.95 L928.00,894.48 L930.00,895.01 L932.00,895.54 L934.00,896.06 L936.00,896.57 L938.00,897.09 L940.00,897.60 L942.00,898.11 L944.00,898.62 L946.00,899.13 L948.00,899.63 L950.00,900.13 L952.00,900.63 L954.00,901.12 L956.00,901.61 L958.00,902.10 L960.00,902.59 L962.00,903.08 L964.00,903.56 L966.00,904.04 L968.00,904.51 L970.00,904.99 L972.00,905.46 L974.00,905.93 L976.00,906.40 L978.00,906.86 L980.00,907.33 L982.00,907.79 L984.00,908.24 L986.00,908.70 L988.00,909.15 L990.00,909.60 L992.00,910.05 L994.00,910.50 L996.00,910.94 L998.00,911.38 L1000.00,911.82 L1002.00,912.26 L1004.00,912.70 L1006.00,913.13 L1008.00,913.56 L1010.00,913.99 L1012.00,914.41 L1014.00,914.84 L1016.00,915.26 L1018.00,915.68 L1020.00,916.10 L1022.00,916.51 L1024.00,916.92 L1026.00,917.34 L1028.00,917.74 L1030.00,918.15 L1032.00,918.56 L1034.00,918.96 L1036.00,919.36 L1038.00,919.76 L1040.00,920.16 L1042.00,920.55 L1044.00,920.94 L1046.00,921.34 L1048.00,921.72 L1050.00,922.11 L1052.00,922.50 L1054.00,922.88 L1056.00,923.26 L1058.00,923.64 L1060.00,924.02 L1062.00,924.39 L1064.00,924.77 L1066.00,925.14 L1068.00,925.51 L1070.00,925.88 L1072.00,926.24 L1074.00,926.61 L1076.00,926.97 L1078.00,927.33 L1080.00,927.69 L1082.00,928.04 L1084.00,928.40 L1086.00,928.75 L1088.00,929.10 L1090.00,929.45 L1092.00,929.80 L1094.00,930.15 L1096.00,930.49 L1098.00,930.84 L1100.00,931.18 L1102.00,931.52 L1104.00,931.86 L1106.00,932.19 L1108.00,932.53 L1110.00,932.86 L1112.00,933.19 L1114.00,933.52 L1116.00,933.85 L1118.00,934.17 L1120.00,934.50 L1122.00,934.82 L1124.00,935.14 L1126.00,935.46 L1128.00,935.78 L1130.00,936.10 L1132.00,936.41 L1134.00,936.73 L1136.00,937.04 L1138.00,937.35 L1140.00,937.66 L1142.00,937.97 L1144.00,938.27 L1146.00,938.58 L1148.00,938.88 L1150.00,939.18 L1152.00,939.48 L1154.00,939.78 L1156.00,940.08 L1158.00,940.37 L1160.00,940.67 L1162.00,940.96 L1164.00,941.25 L1166.00,941.54 L1168.00,941.83 L1170.00,942.12 L1172.00,942.40 L1174.00,942.69 L1176.00,942.97 L1178.00,943.25 L1180.00,943.53 L1182.00,943.81 L1184.00,944.09 L1186.00,944.36 L1188.00,944.64 L1190.00,944.91 L1192.00,945.18 L1194.00,945.45 L1196.00,945.72 L1198.00,945.99 L1200.00,946.25 L1202.00,946.52 L1204.00,946.78 L1206.00,947.05 L1208.00,947.31 L1210.00,947.57 L1212.00,947.83 L1214.00,948.08 L1216.00,948.34 L1218.00,948.60 L1220.00,948.85 L1222.00,949.10 L1224.00,949.35 L1226.00,949.60 L1228.00,949.85 L1230.00,950.10 L1232.00,950.35 L1234.00,950.59 L1236.00,950.84 L1238.00,951.08 L1240.00,951.32 L1242.00,951.56 L1244.00,951.80 L1246.00,952.04 L1248.00,952.28 L1250.00,952.51 L1252.00,952.75 L1254.00,952.98 L1256.00,953.21 L1258.00,953.44 L1260.00,953.67 L1262.00,953.90 L1264.00,954.13 L1266.00,954.36 L1268.00,954.58 L1270.00,954.81 L1272.00,955.03 L1274.00,955.25 L1276.00,955.48 L1278.00,955.70 L1280.00,955.92 L1282.00,956.13 L1284.00,956.35 L1286.00,956.57 L1288.00,956.78 L1290.00,957.00 L1292.00,957.21 L1294.00,957.42 L1296.00,957.63 L1298.00,957.84 L1300.00,958.05 L1302.00,958.26 L1304.00,958.47 L1306.00,958.67 L1308.00,958.88 L1310.00,959.08 L1312.00,959.28 L1314.00,959.49 L1316.00,959.69 L1318.00,959.89 L1320.00,960.09 L1322.00,960.28 L1324.00,960.48 L1326.00,960.68 L1328.00,960.87 L1330.00,961.07 L1332.00,961.26 L1334.00,961.45 L1336.00,961.64 L1338.00,961.84 L1340.00,962.03 L1342.00,962.21 L1344.00,962.40 L1346.00,962.59 L1348.00,962.77 L1350.00,962.96 L1352.00,963.14 L1354.00,963.33 L1356.00,963.51 L1358.00,963.69 L1360.00,963.87 L1362.00,964.05 L1364.00,964.23 L1366.00,964.41 L1368.00,964.59 L1370.00,964.76 L1372.00,964.94 L1374.00,965.11 L1376.00,965.29 L1378.00,965.46 L1380.00,965.63 L1382.00,965.81 L1384.00,965.98 L1386.00,966.15 L1388.00,966.31 L1390.00,966.48 L1392.00,966.65 L1394.00,966.82 L1396.00,966.98 L1398.00,967.15 L1400.00,967.31 L1402.00,967.48 L1404.00,967.64 L1406.00,967.80 L1408.00,967.96 L1410.00,968.12 L1412.00,968.28 L1414.00,968.44 L1416.00,968.60 L1418.00,968.76 L1420.00,968.91 L1422.00,969.07 L1424.00,969.22 L1426.00,969.38 L1428.00,969.53 L1430.00,969.68 L1432.00,969.84 L1434.00,969.99 L1434.00,972.06 L1432.00,971.99 L1430.00,971.84 L1428.00,971.68 L1426.00,971.53 L1424.00,971.38 L1422.00,971.22 L1420.00,971.07 L1418.00,970.91 L1416.00,970.76 L1414.00,970.60 L1412.00,970.44 L1410.00,970.28 L1408.00,970.12 L1406.00,969.96 L1404.00,969.80 L1402.00,969.64 L1400.00,969.48 L1398.00,969.31 L1396.00,969.15 L1394.00,968.98 L1392.00,968.82 L1390.00,968.65 L1388.00,968.48 L1386.00,968.31 L1384.00,968.15 L1382.00,967.98 L1380.00,967.81 L1378.00,967.63 L1376.00,967.46 L1374.00,967.29 L1372.00,967.11 L1370.00,966.94 L1368.00,966.76 L1366.00,966.59 L1364.00,966.41 L1362.00,966.23 L1360.00,966.05 L1358.00,965.87 L1356.00,965.69 L1354.00,965.51 L1352.00,965.33 L1350.00,965.14 L1348.00,964.96 L1346.00,964.77 L1344.00,964.59 L1342.00,964.40 L1340.00,964.21 L1338.00,964.03 L1336.00,963.84 L1334.00,963.64 L1332.00,963.45 L1330.00,963.26 L1328.00,963.07 L1326.00,962.87 L1324.00,962.68 L1322.00,962.48 L1320.00,962.28 L1318.00,962.09 L1316.00,961.89 L1314.00,961.69 L1312.00,961.49 L1310.00,961.28 L1308.00,961.08 L1306.00,960.88 L1304.00,960.67 L1302.00,960.47 L1300.00,960.26 L1298.00,960.05 L1296.00,959.84 L1294.00,959.63 L1292.00,959.42 L1290.00,959.21 L1288.00,959.00 L1286.00,958.78 L1284.00,958.57 L1282.00,958.35 L1280.00,958.13 L1278.00,957.92 L1276.00,957.70 L1274.00,957.48 L1272.00,957.25 L1270.00,957.03 L1268.00,956.81 L1266.00,956.58 L1264.00,956.36 L1262.00,956.13 L1260.00,955.90 L1258.00,955.67 L1256.00,955.44 L1254.00,955.21 L1252.00,954.98 L1250.00,954.75 L1248.00,954.51 L1246.00,954.28 L1244.00,954.04 L1242.00,953.80 L1240.00,953.56 L1238.00,953.32 L1236.00,953.08 L1234.00,952.84 L1232.00,952.59 L1230.00,952.35 L1228.00,952.10 L1226.00,951.85 L1224.00,951.60 L1222.00,951.35 L1220.00,951.10 L1218.00,950.85 L1216.00,950.60 L1214.00,950.34 L1212.00,950.08 L1210.00,949.83 L1208.00,949.57 L1206.00,949.31 L1204.00,949.05 L1202.00,948.78 L1200.00,948.52 L1198.00,948.25 L1196.00,947.99 L1194.00,947.72 L1192.00,947.45 L1190.00,947.18 L1188.00,946.91 L1186.00,946.64 L1184.00,946.36 L1182.00,946.09 L1180.00,945.81 L1178.00,945.53 L1176.00,945.25 L1174.00,944.97 L1172.00,944.69 L1170.00,944.40 L1168.00,944.12 L1166.00,943.83 L1164.00,943.54 L1162.00,943.25 L1160.00,942.96 L1158.00,942.67 L1156.00,942.37 L1154.00,942.08 L1152.00,941.78 L1150.00,941.48 L1148.00,941.18 L1146.00,940.88 L1144.00,940.58 L1142.00,940.27 L1140.00,939.97 L1138.00,939.66 L1136.00,939.35 L1134.00,939.04 L1132.00,938.73 L1130.00,938.41 L1128.00,938.10 L1126.00,937.78 L1124.00,937.46 L1122.00,937.14 L1120.00,936.82 L1118.00,936.50 L1116.00,936.17 L1114.00,935.85 L1112.00,935.52 L1110.00,935.19 L1108.00,934.86 L1106.00,934.53 L1104.00,934.19 L1102.00,933.86 L1100.00,933.52 L1098.00,933.18 L1096.00,932.84 L1094.00,932.49 L1092.00,932.15 L1090.00,931.80 L1088.00,931.45 L1086.00,931.10 L1084.00,930.75 L1082.00,930.40 L1080.00,930.04 L1078.00,929.69 L1076.00,929.33 L1074.00,928.97 L1072.00,928.61 L1070.00,928.24 L1068.00,927.88 L1066.00,927.51 L1064.00,927.14 L1062.00,926.77 L1060.00,926.39 L1058.00,926.02 L1056.00,925.64 L1054.00,925.26 L1052.00,924.88 L1050.00,924.50 L1048.00,924.11 L1046.00,923.72 L1044.00,923.34 L1042.00,922.94 L1040.00,922.55 L1038.00,922.16 L1036.00,921.76 L1034.00,921.36 L1032.00,920.96 L1030.00,920.56 L1028.00,920.15 L1026.00,919.74 L1024.00,919.34 L1022.00,918.92 L1020.00,918.51 L1018.00,918.10 L1016.00,917.68 L1014.00,917.26 L1012.00,916.84 L1010.00,916.41 L1008.00,915.99 L1006.00,915.56 L1004.00,915.13 L1002.00,914.70 L1000.00,914.26 L998.00,913.82 L996.00,913.38 L994.00,912.94 L992.00,912.50 L990.00,912.05 L988.00,911.60 L986.00,911.15 L984.00,910.70 L982.00,910.24 L980.00,909.79 L978.00,909.33 L976.00,908.86 L974.00,908.40 L972.00,907.93 L970.00,907.46 L968.00,906.99 L966.00,906.51 L964.00,906.04 L962.00,905.56 L960.00,905.08 L958.00,904.59 L956.00,904.10 L954.00,903.61 L952.00,903.12 L950.00,902.63 L948.00,902.13 L946.00,901.63 L944.00,901.13 L942.00,900.62 L940.00,900.11 L938.00,899.60 L936.00,899.09 L934.00,898.57 L932.00,898.06 L930.00,897.54 L928.00,897.01 L926.00,896.48 L924.00,895.95 L922.00,895.42 L920.00,894.89 L918.00,894.35 L916.00,893.81 L914.00,893.27 L912.00,892.72 L910.00,892.17 L908.00,891.62 L906.00,891.06 L904.00,890.50 L902.00,889.94 L900.00,889.38 L898.00,888.81 L896.00,888.24 L894.00,887.67 L892.00,887.09 L890.00,886.51 L888.00,885.93 L886.00,885.35 L884.00,884.76 L882.00,884.16 L880.00,883.57 L878.00,882.97 L876.00,882.37 L874.00,881.77 L872.00,881.16 L870.00,880.55 L868.00,879.93 L866.00,879.32 L864.00,878.70 L862.00,878.07 L860.00,877.44 L858.00,876.81 L856.00,876.18 L854.00,875.54 L852.00,874.90 L850.00,874.25 L848.00,873.61 L846.00,872.95 L844.00,872.30 L842.00,871.64 L840.00,870.98 L838.00,870.31 L836.00,869.64 L834.00,868.97 L832.00,868.29 L830.00,867.61 L828.00,866.93 L826.00,866.24 L824.00,865.55 L822.00,864.85 L820.00,864.15 L818.00,863.45 L816.00,862.74 L814.00,862.03 L812.00,861.31 L810.00,860.59 L808.00,859.87 L806.00,859.14 L804.00,858.41 L802.00,857.68 L800.00,856.94 L798.00,856.19 L796.00,855.45 L794.00,854.70 L792.00,853.94 L790.00,853.18 L788.00,852.42 L786.00,851.65 L784.00,850.87 L782.00,850.10 L780.00,849.32 L778.00,848.53 L776.00,847.74 L774.00,846.94 L772.00,846.15 L770.00,845.34 L768.00,844.53 L766.00,843.72 L764.00,842.90 L762.00,842.08 L760.00,841.25 L758.00,840.42 L756.00,839.59 L754.00,838.74 L752.00,837.90 L750.00,837.05 L748.00,836.19 L746.00,835.33 L744.00,834.47 L742.00,833.60 L740.00,832.72 L738.00,831.84 L736.00,830.96 L734.00,830.07 L732.00,829.17 L730.00,828.27 L728.00,827.36 L726.00,826.45 L724.00,825.54 L722.00,824.61 L720.00,823.69 L718.00,822.76 L716.00,821.82 L714.00,820.87 L712.00,819.93 L710.00,818.97 L708.00,818.01 L706.00,817.05 L704.00,816.07 L702.00,815.10 L700.00,814.11 L698.00,813.13 L696.00,812.13 L694.00,811.13 L692.00,810.12 L690.00,809.11 L688.00,808.09 L686.00,807.07 L684.00,806.04 L682.00,805.00 L680.00,803.96 L678.00,802.91 L676.00,801.86 L674.00,800.80 L672.00,799.73 L670.00,798.66 L668.00,797.57 L666.00,796.49 L664.00,795.39 L662.00,794.29 L660.00,793.19 L658.00,792.07 L656.00,790.95 L654.00,789.83 L652.00,788.69 L650.00,787.55 L648.00,786.40 L646.00,785.25 L644.00,784.09 L642.00,782.92 L640.00,781.74 L638.00,780.56 L636.00,779.37 L634.00,778.17 L632.00,776.97 L630.00,775.75 L628.00,774.53 L626.00,773.31 L624.00,772.07 L622.00,770.83 L620.00,769.58 L618.00,768.32 L616.00,767.05 L614.00,765.78 L612.00,764.50 L610.00,763.21 L608.00,761.91 L606.00,760.60 L604.00,759.29 L602.00,757.96 L600.00,756.63 L599.50,756.30 L599.00,755.96 L598.50,755.63 L598.00,755.29 L597.50,754.96 L597.00,754.62 L596.50,754.28 L596.00,753.95 L595.50,753.61 L595.00,753.27 L594.50,752.93 L594.00,752.59 L593.50,752.25 L593.00,751.91 L592.50,751.57 L592.00,751.22 L591.50,750.88 L591.00,750.54 L590.50,750.19 L590.00,749.85 L589.50,749.50 L589.00,749.16 L588.50,748.81 L588.00,748.47 L587.50,748.12 L587.00,747.77 L586.50,747.42 L586.00,747.08 L585.50,746.73 L585.00,746.38 L584.50,746.03 L584.00,745.67 L583.50,745.32 L583.00,744.97 L582.50,744.62 L582.00,744.27 L581.50,743.91 L581.00,743.56 L580.50,743.20 L580.00,742.85 L579.50,742.49 L579.00,742.13 L578.50,741.78 L578.00,741.42 L577.50,741.06 L577.00,740.70 L576.50,740.34 L576.00,739.98 L575.50,739.62 L575.00,739.26 L574.50,738.90 L574.00,738.54 L573.50,738.17 L573.00,737.81 L572.50,737.45 L572.00,737.08 L571.50,736.72 L571.00,736.35 L570.50,735.98 L570.00,735.62 L569.50,735.25 L569.00,734.88 L568.50,734.51 L568.00,734.14 L567.50,733.77 L567.00,733.40 L566.50,733.03 L566.00,732.66 L565.50,732.29 L565.00,731.91 L564.50,731.54 L564.00,731.17 L563.50,730.79 L563.00,730.42 L562.50,730.04 L562.00,729.66 L561.50,729.29 L561.00,728.91 L560.50,728.53 L560.00,728.15 L559.50,727.77 L559.00,727.39 L558.50,727.01 L558.00,726.63 L557.50,726.25 L557.00,725.86 L556.50,725.48 L556.00,725.10 L555.50,724.71 L555.00,724.33 L554.50,723.94 L554.00,723.55 L553.50,723.17 L553.00,722.78 L552.50,722.39 L552.00,722.00 L551.50,721.61 L551.00,721.22 L550.50,720.83 L550.00,720.44 L549.50,720.05 L549.00,719.65 L548.50,719.26 L548.00,718.87 L547.50,718.47 L547.00,718.08 L546.50,717.68 L546.00,717.28 L545.50,716.88 L545.00,716.49 L544.50,716.09 L544.00,715.69 L543.50,715.29 L543.00,714.89 L542.50,714.49 L542.00,714.08 L541.50,713.68 L541.00,713.28 L540.50,712.87 L540.00,712.47 L539.50,712.06 L539.00,711.66 L538.50,711.25 L538.00,710.84 L537.50,710.44 L537.00,710.03 L536.50,709.62 L536.00,709.21 L535.50,708.80 L535.00,708.38 L534.50,707.97 L534.00,707.56 L533.50,707.15 L533.00,706.73 L532.50,706.32 L532.00,705.90 L531.50,705.49 L531.00,705.07 L530.50,704.65 L530.00,704.23 L529.50,703.81 L529.00,703.39 L528.50,702.97 L528.00,702.55 L527.50,702.13 L527.00,701.71 L526.50,701.28 L526.00,700.86 L525.50,700.44 L525.00,700.01 L524.50,699.58 L524.00,699.16 L523.50,698.73 L523.00,698.30 L522.50,697.87 L522.00,697.44 L521.50,697.01 L521.00,696.58 L520.50,696.15 L520.00,695.72 L519.50,695.28 L519.00,694.85 L518.50,694.41 L518.00,693.98 L517.50,693.54 L517.00,693.11 L516.50,692.67 L516.00,692.23 L515.50,691.79 L515.00,691.35 L514.50,690.91 L514.00,690.47 L513.50,690.03 L513.00,689.58 L512.50,689.14 L512.00,688.70 L511.50,688.25 L511.00,687.80 L510.50,687.36 L510.00,686.91 L509.50,686.46 L509.00,686.01 L508.50,685.56 L508.00,685.11 L507.50,684.66 L507.00,684.21 L506.50,683.76 L506.00,683.30 L505.50,682.85 L505.00,682.40 L504.50,681.94 L504.00,681.48 L503.50,681.03 L503.00,680.57 L502.50,680.11 L502.00,679.65 L501.50,679.19 L501.00,678.73 L500.50,678.27 L500.00,677.80 L499.50,677.34 L499.00,676.87 L498.50,676.41 L498.00,675.94 L497.50,675.48 L497.00,675.01 L496.50,674.54 L496.00,674.07 L495.50,673.60 L495.00,673.13 L494.50,672.66 L494.00,672.19 L493.50,671.71 L493.00,671.24 L492.50,670.76 L492.00,670.29 L491.50,669.81 L491.00,669.33 L490.50,668.86 L490.00,668.38 L489.50,667.90 L489.00,667.42 L488.50,666.94 L488.00,666.45 L487.50,665.97 L487.00,665.49 L486.50,665.00 L486.00,664.52 L485.50,664.03 L485.00,663.54 L484.50,663.05 L484.00,662.57 L483.50,662.08 L483.00,661.59 L482.50,661.09 L482.00,660.60 L481.50,660.11 L481.00,659.61 L480.50,659.12 L480.00,658.62 L479.50,658.13 L479.00,657.63 L478.50,657.13 L478.00,656.63 L477.50,656.13 L477.00,655.63 L476.50,655.13 L476.00,654.63 L475.50,654.12 L475.00,653.62 L474.50,653.11 L474.00,652.61 L473.50,652.10 L473.00,651.59 L472.50,651.08 L472.00,650.57 L471.50,650.06 L471.00,649.55 L470.50,649.04 L470.00,648.53 L469.50,648.01 L469.00,647.50 L468.50,646.98 L468.00,646.46 L467.50,645.95 L467.00,645.43 L466.50,644.91 L466.00,644.39 L465.50,643.87 L465.00,643.34 L464.50,642.82 L464.00,642.30 L463.50,641.77 L463.00,641.25 L462.50,640.72 L462.00,640.19 L461.50,639.66 L461.00,639.13 L460.50,638.60 L460.00,638.07 L459.50,637.54 L459.00,637.00 L458.50,636.47 L458.00,635.93 L457.50,635.40 L457.00,634.86 L456.50,634.32 L456.00,633.78 L455.50,633.24 L455.00,632.70 L454.50,632.16 L454.00,631.62 L453.50,631.07 L453.00,630.53 L452.50,629.98 L452.00,629.44 L451.50,628.89 L451.00,628.34 L450.50,627.79 L450.00,627.24 L449.50,626.69 L449.00,626.14 L448.50,625.58 L448.00,625.03 L447.50,624.47 L447.00,623.92 L446.50,623.36 L446.00,622.80 L445.50,622.24 L445.00,621.68 L444.50,621.12 L444.00,620.56 L443.50,619.99 L443.00,619.43 L442.50,618.86 L442.00,618.30 L441.50,617.73 L441.00,617.16 L440.50,616.59 L440.00,616.02 L439.50,615.45 L439.00,614.87 L438.50,614.30 L438.00,613.73 L437.50,613.15 L437.00,612.57 L436.50,612.00 L436.00,611.42 L435.50,610.84 L435.00,610.26 L434.50,609.67 L434.00,609.09 L433.50,608.51 L433.00,607.92 L432.50,607.34 L432.00,606.75 L431.50,606.16 L431.00,605.57 L430.50,604.98 L430.00,604.39 L429.50,603.80 L429.00,603.20 L428.50,602.61 L428.00,602.01 L427.50,601.42 L427.00,600.82 L426.50,600.22 L426.00,599.62 L425.50,599.02 L425.00,598.42 L424.50,597.81 L424.00,597.21 L423.50,596.60 L423.00,596.00 L422.50,595.39 L422.00,594.78 L421.50,594.17 L421.00,593.56 L420.50,592.95 L420.00,592.34 L419.50,591.72 L419.00,591.11 L418.50,590.49 L418.00,589.87 L417.50,589.25 L417.00,588.63 L416.50,588.01 L416.00,587.39 L415.50,586.77 L415.00,586.14 L414.50,585.52 L414.00,584.89 L413.50,584.26 L413.00,583.64 L412.50,583.01 L412.00,582.37 L411.50,581.74 L411.00,581.11 L410.50,580.47 L410.00,579.84 L409.50,579.20 L409.00,578.56 L408.50,577.92 L408.00,577.28 L407.50,576.64 L407.00,576.00 L406.50,575.36 L406.00,574.71 L405.50,574.06 L405.00,573.42 L404.50,572.77 L404.00,572.12 L403.50,571.47 L403.00,570.82 L402.50,570.16 L402.00,569.51 L401.50,568.85 L401.00,568.20 L400.50,567.54 L400.00,566.88 L399.50,566.22 L399.00,565.56 L398.50,564.89 L398.00,564.23 L397.50,563.56 L397.00,562.90 L396.50,562.23 L396.00,561.56 L395.50,560.89 L395.00,560.22 L394.50,559.55 L394.00,558.87 L393.50,558.20 L393.00,557.52 L392.50,556.84 L392.00,556.16 L391.50,555.48 L391.00,554.80 L390.50,554.12 L390.00,553.44 L389.50,552.75 L389.00,552.07 L388.50,551.38 L388.00,550.69 L387.50,550.00 L387.00,549.31 L386.50,548.61 L386.00,547.92 L385.50,547.23 L385.00,546.53 L384.50,545.83 L384.00,545.13 L383.50,544.43 L383.00,543.73 L382.50,543.03 L382.00,542.32 L381.50,541.62 L381.00,540.91 L380.50,540.20 L380.00,539.49 L379.50,538.78 L379.00,538.07 L378.50,537.36 L378.00,536.64 L377.50,535.93 L377.00,535.21 L376.50,534.49 L376.00,533.77 L375.50,533.05 L375.00,532.33 L374.50,531.60 L374.00,530.88 L373.50,530.15 L373.00,529.43 L372.50,528.70 L372.00,527.97 L371.50,527.23 L371.00,526.50 L370.50,525.77 L370.00,525.03 L369.50,524.29 L369.00,523.55 L368.50,522.81 L368.00,522.07 L367.50,521.33 L367.00,520.59 L366.50,519.84 L366.00,519.10 L365.50,518.35 L365.00,517.60 L364.50,516.85 L364.00,516.09 L363.50,515.34 L363.00,514.59 L362.50,513.83 L362.00,513.07 L361.50,512.31 L361.00,511.55 L360.50,510.79 L360.00,510.03 L359.50,509.26 L359.00,508.50 L358.50,507.73 L358.00,506.96 L357.50,506.19 L357.00,505.42 L356.50,504.65 L356.00,503.87 L355.50,503.10 L355.00,502.32 L354.50,501.54 L354.00,500.76 L353.50,499.98 L353.00,499.19 L352.50,498.41 L352.00,497.62 L351.50,496.84 L351.00,496.05 L350.50,495.26 L350.00,494.47 L349.50,493.67 L349.00,492.88 L348.50,492.08 L348.00,491.29 L347.50,490.49 L347.00,489.69 L346.50,488.89 L346.00,488.08 L345.50,487.28 L345.00,486.47 L344.50,485.66 L344.00,484.86 L343.50,484.05 L343.00,483.23 L342.50,482.42 L342.00,481.61 L341.50,480.79 L341.00,479.97 L340.50,479.15 L340.00,478.33 L339.50,477.51 L339.00,476.69 L338.50,475.86 L338.00,475.03 L337.50,474.21 L337.00,473.38 L336.50,472.55 L336.00,471.71 L335.50,470.88 L335.00,470.04 L334.50,469.21 L334.00,468.37 L333.50,467.53 L333.00,466.69 L332.50,465.84 L332.00,465.00 L331.50,464.15 L331.00,463.31 L330.50,462.46 L330.00,461.61 L329.50,460.76 L329.00,459.90 L328.50,459.05 L328.00,458.19 L327.50,457.33 L327.00,456.47 L326.50,455.61 L326.00,454.75 L325.50,453.89 L325.00,453.02 L324.50,452.15 L324.00,451.29 L323.50,450.42 L323.00,449.55 L322.50,448.67 L322.00,447.80 L321.50,446.92 L321.00,446.04 L320.50,445.17 L320.00,444.28 L319.50,443.40 L319.00,442.52 L318.50,441.63 L318.00,440.75 L317.50,439.86 L317.00,438.97 L316.50,438.08 L316.00,437.19 L315.50,436.29 L315.00,435.40 L314.50,434.50 L314.00,433.60 L313.50,432.70 L313.00,431.80 L312.50,430.90 L312.00,429.99 L311.50,429.09 L311.00,428.18 L310.50,427.27 L310.00,426.36 L309.50,425.45 L309.00,424.53 L308.50,423.62 L308.00,422.70 L307.50,421.78 L307.00,420.86 L306.50,419.94 L306.00,419.02 L305.50,418.09 L305.00,417.17 L304.50,416.24 L304.00,415.31 L303.50,414.38 L303.00,413.45 L302.50,412.52 L302.00,411.58 L301.50,410.65 L301.00,409.71 L300.50,408.77 L300.00,407.83 L299.75,407.36 L299.50,406.89 L299.25,406.42 L299.00,405.94 L298.75,405.47 L298.50,405.00 L298.25,404.53 L298.00,404.05 L297.75,403.58 L297.50,403.10 L297.25,402.63 L297.00,402.16 L296.75,401.68 L296.50,401.20 L296.25,400.73 L296.00,400.25 L295.75,399.78 L295.50,399.30 L295.25,398.82 L295.00,398.34 L294.75,397.87 L294.50,397.39 L294.25,396.91 L294.00,396.43 L293.75,395.95 L293.50,395.47 L293.25,394.99 L293.00,394.51 L292.75,394.03 L292.50,393.55 L292.25,393.06 L292.00,392.58 L291.75,392.10 L291.50,391.62 L291.25,391.13 L291.00,390.65 L290.75,390.17 L290.50,389.68 L290.25,389.20 L290.00,388.71 L289.75,388.23 L289.50,387.74 L289.25,387.26 L289.00,386.77 L288.75,386.28 L288.50,385.80 L288.25,385.31 L288.00,384.82 L287.75,384.33 L287.50,383.85 L287.25,383.36 L287.00,382.87 L286.75,382.38 L286.50,381.89 L286.25,381.40 L286.00,380.91 L285.75,380.42 L285.50,379.93 L285.25,379.43 L285.00,378.94 L284.75,378.45 L284.50,377.96 L284.25,377.47 L284.00,376.97 L283.75,376.48 L283.50,375.99 L283.25,375.49 L283.00,375.00 L282.75,374.50 L282.50,374.01 L282.25,373.51 L282.00,373.02 L281.75,372.52 L281.50,372.02 L281.25,371.53 L281.00,371.03 L280.75,370.53 L280.50,370.03 L280.25,369.54 L280.00,369.04 L279.75,368.54 L279.50,368.04 L279.25,367.54 L279.00,367.04 L278.75,366.54 L278.50,366.04 L278.25,365.54 L278.00,365.04 L277.75,364.54 L277.50,364.04 L277.25,363.53 L277.00,363.03 L276.75,362.53 L276.50,362.03 L276.25,361.52 L276.00,361.02 L275.75,360.52 L275.50,360.01 L275.25,359.51 L275.00,359.00 L274.75,358.50 L274.50,357.99 L274.25,357.49 L274.00,356.98 L273.75,356.48 L273.50,355.97 L273.25,355.46 L273.00,354.96 L272.75,354.45 L272.50,353.94 L272.25,353.43 L272.00,352.93 L271.75,352.42 L271.50,351.91 L271.25,351.40 L271.00,350.89 L270.75,350.38 L270.50,349.87 L270.25,349.36 L270.00,348.85 L269.75,348.34 L269.50,347.83 L269.25,347.32 L269.00,346.81 L268.75,346.30 L268.50,345.78 L268.25,345.27 L268.00,344.76 L267.75,344.25 L267.50,343.73 L267.25,343.22 L267.00,342.71 L266.75,342.19 L266.50,341.68 L266.25,341.16 L266.00,340.65 L265.75,340.14 L265.50,339.62 L265.25,339.11 L265.00,338.59 L264.75,338.07 L264.50,337.56 L264.25,337.04 L264.00,336.53 L263.75,336.01 L263.50,335.49 L263.25,334.97 L263.00,334.46 L262.75,333.94 L262.50,333.42 L262.25,332.90 L262.00,332.39 L261.75,331.87 L261.50,331.35 L261.25,330.83 L261.00,330.31 L260.75,329.79 L260.50,329.27 L260.25,328.75 L260.00,328.23 L259.75,327.71 L259.50,327.19 L259.25,326.67 L259.00,326.15 L258.75,325.63 L258.50,325.11 L258.25,324.59 L258.00,324.07 L257.75,323.54 L257.50,323.02 L257.25,322.50 L257.00,321.98 L256.75,321.45 L256.50,320.93 L256.25,320.41 L256.00,319.89 L255.75,319.36 L255.50,318.84 L255.25,318.32 L255.00,317.79 L254.75,317.27 L254.50,316.75 L254.25,316.22 L254.00,315.70 L253.75,315.17 L253.50,314.65 L253.25,314.12 L253.00,313.60 L252.75,313.07 L252.50,312.55 L252.25,312.02 L252.00,311.50 L251.75,310.97 L251.50,310.45 L251.25,309.92 L251.00,309.40 L250.75,308.87 L250.50,308.34 L250.25,307.82 L250.00,307.29 L249.75,306.77 L249.50,306.24 L249.25,305.71 L249.00,305.19 L248.75,304.66 L248.50,304.13 L248.25,303.61 L248.00,303.08 L247.75,302.55 L247.50,302.03 L247.25,301.50 L247.00,300.97 L246.75,300.44 L246.50,299.92 L246.25,299.39 L246.00,298.86 L245.75,298.34 L245.50,297.81 L245.25,297.28 L245.00,296.75 L244.75,296.22 L244.50,295.70 L244.25,295.17 L244.00,294.64 L243.75,294.11 L243.50,293.59 L243.25,293.06 L243.00,292.53 L242.75,292.00 L242.50,291.48 L242.25,290.95 L242.00,290.42 L241.75,289.89 L241.50,289.36 L241.25,288.84 L241.00,288.31 L240.75,287.78 L240.50,287.25 L240.25,286.73 L240.00,286.20 L239.75,285.67 L239.50,285.14 L239.25,284.62 L239.00,284.09 L238.75,283.56 L238.50,283.04 L238.25,282.51 L238.00,281.98 L237.75,281.45 L237.50,280.93 L237.25,280.40 L237.00,279.87 L236.75,279.35 L236.50,278.82 L236.25,278.29 L236.00,277.77 L235.75,277.24 L235.50,276.72 L235.25,276.19 L235.00,275.66 L234.75,275.14 L234.50,274.61 L234.25,274.09 L234.00,273.56 L233.75,273.04 L233.50,272.51 L233.25,271.99 L233.00,271.46 L232.75,270.94 L232.50,270.42 L232.25,269.89 L232.00,269.37 L231.75,268.84 L231.50,268.32 L231.25,267.80 L231.00,267.27 L230.75,266.75 L230.50,266.23 L230.25,265.71 L230.00,265.18 L229.75,264.66 L229.50,264.14 L229.25,263.62 L229.00,263.10 L228.75,262.58 L228.50,262.06 L228.25,261.54 L228.00,261.02 L227.75,260.50 L227.50,259.98 L227.25,259.46 L227.00,258.94 L226.75,258.42 L226.50,257.91 L226.25,257.39 L226.00,256.87 L225.75,256.35 L225.50,255.84 L225.25,255.32 L225.00,254.80 L224.75,254.29 L224.50,253.77 L224.25,253.26 L224.00,252.74 L223.75,252.23 L223.50,251.72 L223.25,251.20 L223.00,250.69 L222.75,250.18 L222.50,249.67 L222.25,249.16 L222.00,248.64 L221.75,248.13 L221.50,247.62 L221.25,247.11 L221.00,246.61 L220.75,246.10 L220.50,245.59 L220.25,245.08 L220.00,244.57 L219.75,244.07 L219.50,243.56 L219.25,243.06 L219.00,242.55 L218.75,242.05 L218.50,241.54 L218.25,241.04 L218.00,240.54 L217.75,240.04 L217.50,239.53 L217.25,239.03 L217.00,238.53 L216.75,238.03 L216.50,237.53 L216.25,237.04 L216.00,236.54 L215.75,236.04 L215.50,235.55 L215.25,235.05 L215.00,234.56 L214.75,234.06 L214.50,233.57 L214.25,233.07 L214.00,232.58 L213.75,232.09 L213.50,231.60 L213.25,231.11 L213.00,230.62 L212.75,230.13 L212.50,229.65 L212.25,229.16 L212.00,228.67 L211.75,228.19 L211.50,227.70 L211.25,227.22 L211.00,226.74 L210.75,226.26 L210.50,225.78 L210.25,225.30 L210.00,224.82 L209.75,224.34 L209.50,223.86 L209.25,223.38 L209.00,222.91 L208.75,222.43 L208.50,221.96 L208.25,221.49 L208.00,221.02 L207.75,220.55 L207.50,220.08 L207.25,219.61 L207.00,219.14 L206.75,218.67 L206.50,218.21 L206.25,217.74 L206.00,217.28 L205.75,216.82 L205.50,216.36 L205.25,215.90 L205.00,215.44 L204.75,214.98 L204.50,214.53 L204.25,214.07 L204.00,213.62 L203.75,213.16 L203.50,212.71 L203.25,212.26 L203.00,211.81 L202.75,211.36 L202.50,210.92 L202.25,210.47 L202.00,210.03 L201.75,209.58 L201.50,209.14 L201.25,208.70 L201.00,208.26 L200.75,207.83 L200.50,207.39 L200.25,206.96 L200.00,206.52 L199.75,206.09 L199.50,205.66 L199.25,205.23 L199.00,204.80 L198.75,204.38 L198.50,203.95 L198.25,203.53 L198.00,203.11 L197.75,202.69 L197.50,202.27 L197.25,201.85 L197.00,201.44 L196.75,201.02 L196.50,200.61 L196.25,200.20 L196.00,199.79 L195.75,199.39 L195.50,198.98 L195.25,198.58 L195.00,198.18 L194.75,197.78 L194.50,197.38 L194.25,196.98 L194.00,196.59 L193.75,196.19 L193.50,195.80 L193.25,195.41 L193.00,195.03 L192.75,194.64 L192.50,194.26 L192.25,193.88 L192.00,193.50 L191.75,193.12 L191.50,192.74 L191.25,192.37 L191.00,192.00 L190.75,191.63 L190.50,191.26 L190.25,190.90 L190.00,190.53 L189.75,190.17 L189.50,189.81 L189.25,189.46 L189.00,189.10 L188.75,188.75 L188.50,188.40 L188.25,188.05 L188.00,187.71 L187.75,187.37 L187.50,187.03 L187.25,186.69 L187.00,186.35 L186.75,186.02 L186.50,185.69 L186.25,185.36 L186.00,185.04 L185.75,184.71 L185.50,184.39 L185.25,184.08 L185.00,183.76 L184.75,183.45 L184.50,183.14 L184.25,182.83 L184.00,182.53 L183.75,182.23 L183.50,181.93 L183.25,181.64 L183.00,181.34 L182.75,181.05 L182.50,180.77 L182.25,180.49 L182.00,180.21 L181.75,179.93 L181.50,179.66 L181.25,179.38 L181.00,179.12 L180.75,178.85 L180.50,178.59 L180.25,178.34 L180.00,178.08 L179.75,177.83 L179.50,177.59 L179.25,177.35 L179.00,177.11 L178.75,176.87 L178.50,176.64 L178.25,176.42 L178.00,176.19 L177.75,175.97 L177.50,175.76 L177.25,175.55 L177.00,175.34 L176.75,175.14 L176.50,174.95 L176.25,174.75 L176.00,174.57 L175.75,174.39 L175.50,174.21 L175.25,174.04 L175.00,173.87 L174.75,173.71 L174.50,173.55 L174.25,173.40 L174.00,173.26 L173.75,173.12 L173.50,172.98 L173.25,172.86 L173.00,172.74 L172.75,172.62 L172.50,172.52 L172.25,172.42 L172.00,172.33 L171.75,172.24 L171.50,172.17 L171.25,172.10 L171.00,172.04 L170.75,171.99 L170.50,171.97 L170.25,172.02 L170.00,172.09 L169.75,172.17 L169.50,172.27 L169.25,172.38 L169.00,172.51 L168.75,172.65 L168.50,172.81 L168.25,172.99 L168.00,173.18 L167.75,173.40 L167.50,173.63 L167.25,173.89 L167.00,174.17 L166.75,174.48 L166.50,174.80 L166.25,175.16 L166.00,175.54 L165.75,175.95 L165.50,176.39 L165.25,176.86 L165.00,177.37 L164.75,177.53 L164.50,177.69 L164.25,177.84 L164.00,178.00 L163.75,178.00 L163.50,178.00 L163.25,178.00 L163.00,178.00 L162.75,178.00 L162.50,178.00 L162.25,178.00 L162.00,178.00 Z" fill="#D95319"/>
<path d="M162.00,173.89 L162.25,173.89 L162.50,173.89 L162.75,173.89 L163.00,173.89 L163.25,173.18 L163.50,172.50 L163.75,171.85 L164.00,171.23 L164.25,170.64 L164.50,170.08 L164.75,169.54 L165.00,169.03 L165.25,168.54 L165.50,168.08 L165.75,167.64 L166.00,167.22 L166.25,166.82 L166.50,166.43 L166.75,166.07 L167.00,165.72 L167.25,165.39 L167.50,165.08 L167.75,164.78 L168.00,164.50 L168.25,164.23 L168.50,163.98 L168.75,163.74 L169.00,163.51 L169.25,163.29 L169.50,163.08 L169.75,162.89 L170.00,162.71 L170.25,162.54 L170.50,162.37 L170.75,162.22 L171.00,162.08 L171.25,161.95 L171.50,161.82 L171.75,161.71 L172.00,161.60 L172.25,161.50 L172.50,161.41 L172.75,161.33 L173.00,161.25 L173.25,161.18 L173.50,161.12 L173.75,161.07 L174.00,161.02 L174.25,160.98 L174.50,160.95 L174.75,160.92 L175.00,160.89 L175.25,160.88 L175.50,160.87 L175.75,160.86 L176.00,160.86 L176.25,160.86 L176.50,160.86 L176.75,160.86 L177.00,160.86 L177.25,160.86 L177.50,160.86 L177.75,160.86 L178.00,160.86 L178.25,160.87 L178.50,160.88 L178.75,160.90 L179.00,160.92 L179.25,160.95 L179.50,160.98 L179.75,161.02 L180.00,161.06 L180.25,161.10 L180.50,161.15 L180.75,161.21 L181.00,161.27 L181.25,161.33 L181.50,161.40 L181.75,161.47 L182.00,161.55 L182.25,161.63 L182.50,161.71 L182.75,161.80 L183.00,161.90 L183.25,161.99 L183.50,162.09 L183.75,162.20 L184.00,162.30 L184.25,162.42 L184.50,162.53 L184.75,162.65 L185.00,162.77 L185.25,162.90 L185.50,163.02 L185.75,163.16 L186.00,163.29 L186.25,163.43 L186.50,163.57 L186.75,163.72 L187.00,163.87 L187.25,164.02 L187.50,164.17 L187.75,164.33 L188.00,164.49 L188.25,164.66 L188.50,164.82 L188.75,164.99 L189.00,165.17 L189.25,165.34 L189.50,165.52 L189.75,165.70 L190.00,165.88 L190.25,166.07 L190.50,166.26 L190.75,166.45 L191.00,166.65 L191.25,166.85 L191.50,167.05 L191.75,167.25 L192.00,167.45 L192.25,167.66 L192.50,167.87 L192.75,168.09 L193.00,168.30 L193.25,168.52 L193.50,168.74 L193.75,168.96 L194.00,169.19 L194.25,169.41 L194.50,169.64 L194.75,169.88 L195.00,170.11 L195.25,170.35 L195.50,170.59 L195.75,170.83 L196.00,171.07 L196.25,171.32 L196.50,171.56 L196.75,171.81 L197.00,172.07 L197.25,172.32 L197.50,172.58 L197.75,172.83 L198.00,173.10 L198.25,173.36 L198.50,173.62 L198.75,173.89 L199.00,174.16 L199.25,174.43 L199.50,174.70 L199.75,174.97 L200.00,175.25 L200.25,175.53 L200.50,175.81 L200.75,176.09 L201.00,176.37 L201.25,176.66 L201.50,176.94 L201.75,177.23 L202.00,177.52 L202.25,177.81 L202.50,178.11 L202.75,178.40 L203.00,178.70 L203.25,179.00 L203.50,179.30 L203.75,179.60 L204.00,179.91 L204.25,180.21 L204.50,180.52 L204.75,180.83 L205.00,181.14 L205.25,181.45 L205.50,181.76 L205.75,182.08 L206.00,182.39 L206.25,182.71 L206.50,183.03 L206.75,183.35 L207.00,183.67 L207.25,184.00 L207.50,184.32 L207.75,184.65 L208.00,184.98 L208.25,185.31 L208.50,185.64 L208.75,185.97 L209.00,186.30 L209.25,186.64 L209.50,186.97 L209.75,187.31 L210.00,187.65 L210.25,187.99 L210.50,188.33 L210.75,188.67 L211.00,189.02 L211.25,189.36 L211.50,189.71 L211.75,190.05 L212.00,190.40 L212.25,190.75 L212.50,191.10 L212.75,191.46 L213.00,191.81 L213.25,192.16 L213.50,192.52 L213.75,192.87 L214.00,193.23 L214.25,193.59 L214.50,193.95 L214.75,194.31 L215.00,194.67 L215.25,195.03 L215.50,195.40 L215.75,195.76 L216.00,196.13 L216.25,196.50 L216.50,196.86 L216.75,197.23 L217.00,197.60 L217.25,197.97 L217.50,198.34 L217.75,198.72 L218.00,199.09 L218.25,199.46 L218.50,199.84 L218.75,200.22 L219.00,200.59 L219.25,200.97 L219.50,201.35 L219.75,201.73 L220.00,202.11 L220.25,202.49 L220.50,202.87 L220.75,203.26 L221.00,203.64 L221.25,204.02 L221.50,204.41 L221.75,204.80 L222.00,205.18 L222.25,205.57 L222.50,205.96 L222.75,206.35 L223.00,206.74 L223.25,207.13 L223.50,207.52 L223.75,207.91 L224.00,208.31 L224.25,208.70 L224.50,209.09 L224.75,209.49 L225.00,209.88 L225.25,210.28 L225.50,210.68 L225.75,211.07 L226.00,211.47 L226.25,211.87 L226.50,212.27 L226.75,212.67 L227.00,213.07 L227.25,213.47 L227.50,213.87 L227.75,214.28 L228.00,214.68 L228.25,215.08 L228.50,215.49 L228.75,215.89 L229.00,216.30 L229.25,216.70 L229.50,217.11 L229.75,217.52 L230.00,217.92 L230.25,218.33 L230.50,218.74 L230.75,219.15 L231.00,219.56 L231.25,219.97 L231.50,220.38 L231.75,220.79 L232.00,221.20 L232.25,221.61 L232.50,222.03 L232.75,222.44 L233.00,222.85 L233.25,223.26 L233.50,223.68 L233.75,224.09 L234.00,224.51 L234.25,224.92 L234.50,225.34 L234.75,225.76 L235.00,226.17 L235.25,226.59 L235.50,227.01 L235.75,227.42 L236.00,227.84 L236.25,228.26 L236.50,228.68 L236.75,229.10 L237.00,229.52 L237.25,229.94 L237.50,230.36 L237.75,230.78 L238.00,231.20 L238.25,231.62 L238.50,232.04 L238.75,232.46 L239.00,232.89 L239.25,233.31 L239.50,233.73 L239.75,234.15 L240.00,234.58 L240.25,235.00 L240.50,235.42 L240.75,235.85 L241.00,236.27 L241.25,236.70 L241.50,237.12 L241.75,237.55 L242.00,237.97 L242.25,238.40 L242.50,238.83 L242.75,239.25 L243.00,239.68 L243.25,240.10 L243.50,240.53 L243.75,240.96 L244.00,241.39 L244.25,241.81 L244.50,242.24 L244.75,242.67 L245.00,243.10 L245.25,243.53 L245.50,243.95 L245.75,244.38 L246.00,244.81 L246.25,245.24 L246.50,245.67 L246.75,246.10 L247.00,246.53 L247.25,246.96 L247.50,247.39 L247.75,247.82 L248.00,248.25 L248.25,248.68 L248.50,249.11 L248.75,249.54 L249.00,249.97 L249.25,250.40 L249.50,250.83 L249.75,251.26 L250.00,251.70 L250.25,252.13 L250.50,252.56 L250.75,252.99 L251.00,253.42 L251.25,253.85 L251.50,254.29 L251.75,254.72 L252.00,255.15 L252.25,255.58 L252.50,256.01 L252.75,256.45 L253.00,256.88 L253.25,257.31 L253.50,257.74 L253.75,258.18 L254.00,258.61 L254.25,259.04 L254.50,259.47 L254.75,259.91 L255.00,260.34 L255.25,260.77 L255.50,261.21 L255.75,261.64 L256.00,262.07 L256.25,262.51 L256.50,262.94 L256.75,263.37 L257.00,263.81 L257.25,264.24 L257.50,264.67 L257.75,265.11 L258.00,265.54 L258.25,265.97 L258.50,266.41 L258.75,266.84 L259.00,267.27 L259.25,267.71 L259.50,268.14 L259.75,268.57 L260.00,269.01 L260.25,269.44 L260.50,269.87 L260.75,270.31 L261.00,270.74 L261.25,271.17 L261.50,271.61 L261.75,272.04 L262.00,272.47 L262.25,272.91 L262.50,273.34 L262.75,273.77 L263.00,274.21 L263.25,274.64 L263.50,275.07 L263.75,275.51 L264.00,275.94 L264.25,276.37 L264.50,276.81 L264.75,277.24 L265.00,277.67 L265.25,278.10 L265.50,278.54 L265.75,278.97 L266.00,279.40 L266.25,279.84 L266.50,280.27 L266.75,280.70 L267.00,281.13 L267.25,281.57 L267.50,282.00 L267.75,282.43 L268.00,282.86 L268.25,283.29 L268.50,283.73 L268.75,284.16 L269.00,284.59 L269.25,285.02 L269.50,285.45 L269.75,285.88 L270.00,286.32 L270.25,286.75 L270.50,287.18 L270.75,287.61 L271.00,288.04 L271.25,288.47 L271.50,288.90 L271.75,289.33 L272.00,289.77 L272.25,290.20 L272.50,290.63 L272.75,291.06 L273.00,291.49 L273.25,291.92 L273.50,292.35 L273.75,292.78 L274.00,293.21 L274.25,293.64 L274.50,294.07 L274.75,294.50 L275.00,294.93 L275.25,295.35 L275.50,295.78 L275.75,296.21 L276.00,296.64 L276.25,297.07 L276.50,297.50 L276.75,297.93 L277.00,298.36 L277.25,298.78 L277.50,299.21 L277.75,299.64 L278.00,300.07 L278.25,300.50 L278.50,300.92 L278.75,301.35 L279.00,301.78 L279.25,302.20 L279.50,302.63 L279.75,303.06 L280.00,303.49 L280.25,303.91 L280.50,304.34 L280.75,304.76 L281.00,305.19 L281.25,305.62 L281.50,306.04 L281.75,306.47 L282.00,306.89 L282.25,307.32 L282.50,307.74 L282.75,308.17 L283.00,308.59 L283.25,309.02 L283.50,309.44 L283.75,309.87 L284.00,310.29 L284.25,310.71 L284.50,311.14 L284.75,311.56 L285.00,311.98 L285.25,312.41 L285.50,312.83 L285.75,313.25 L286.00,313.68 L286.25,314.10 L286.50,314.52 L286.75,314.94 L287.00,315.37 L287.25,315.79 L287.50,316.21 L287.75,316.63 L288.00,317.05 L288.25,317.47 L288.50,317.89 L288.75,318.31 L289.00,318.74 L289.25,319.16 L289.50,319.58 L289.75,320.00 L290.00,320.42 L290.25,320.83 L290.50,321.25 L290.75,321.67 L291.00,322.09 L291.25,322.51 L291.50,322.93 L291.75,323.35 L292.00,323.77 L292.25,324.18 L292.50,324.60 L292.75,325.02 L293.00,325.44 L293.25,325.85 L293.50,326.27 L293.75,326.69 L294.00,327.10 L294.25,327.52 L294.50,327.94 L294.75,328.35 L295.00,328.77 L295.25,329.18 L295.50,329.60 L295.75,330.01 L296.00,330.43 L296.25,330.84 L296.50,331.26 L296.75,331.67 L297.00,332.09 L297.25,332.50 L297.50,332.91 L297.75,333.33 L298.00,333.74 L298.25,334.15 L298.50,334.57 L298.75,334.98 L299.00,335.39 L299.25,335.80 L299.50,336.22 L299.75,336.63 L300.00,337.04 L300.50,337.86 L301.00,338.68 L301.50,339.50 L302.00,340.32 L302.50,341.14 L303.00,341.96 L303.50,342.78 L304.00,343.59 L304.50,344.41 L305.00,345.22 L305.50,346.03 L306.00,346.85 L306.50,347.66 L307.00,348.47 L307.50,349.28 L308.00,350.09 L308.50,350.89 L309.00,351.70 L309.50,352.51 L310.00,353.31 L310.50,354.12 L311.00,354.92 L311.50,355.72 L312.00,356.52 L312.50,357.32 L313.00,358.12 L313.50,358.92 L314.00,359.72 L314.50,360.51 L315.00,361.31 L315.50,362.10 L316.00,362.89 L316.50,363.69 L317.00,364.48 L317.50,365.27 L318.00,366.06 L318.50,366.85 L319.00,367.63 L319.50,368.42 L320.00,369.20 L320.50,369.99 L321.00,370.77 L321.50,371.55 L322.00,372.34 L322.50,373.12 L323.00,373.90 L323.50,374.67 L324.00,375.45 L324.50,376.23 L325.00,377.00 L325.50,377.78 L326.00,378.55 L326.50,379.32 L327.00,380.09 L327.50,380.86 L328.00,381.63 L328.50,382.40 L329.00,383.17 L329.50,383.93 L330.00,384.70 L330.50,385.46 L331.00,386.23 L331.50,386.99 L332.00,387.75 L332.50,388.51 L333.00,389.27 L333.50,390.03 L334.00,390.78 L334.50,391.54 L335.00,392.30 L335.50,393.05 L336.00,393.80 L336.50,394.55 L337.00,395.30 L337.50,396.05 L338.00,396.80 L338.50,397.55 L339.00,398.30 L339.50,399.04 L340.00,399.79 L340.50,400.53 L341.00,401.28 L341.50,402.02 L342.00,402.76 L342.50,403.50 L343.00,404.24 L343.50,404.97 L344.00,405.71 L344.50,406.45 L345.00,407.18 L345.50,407.91 L346.00,408.65 L346.50,409.38 L347.00,410.11 L347.50,410.84 L348.00,411.57 L348.50,412.29 L349.00,413.02 L349.50,413.75 L350.00,414.47 L350.50,415.19 L351.00,415.92 L351.50,416.64 L352.00,417.36 L352.50,418.08 L353.00,418.80 L353.50,419.51 L354.00,420.23 L354.50,420.94 L355.00,421.66 L355.50,422.37 L356.00,423.08 L356.50,423.79 L357.00,424.51 L357.50,425.21 L358.00,425.92 L358.50,426.63 L359.00,427.34 L359.50,428.04 L360.00,428.75 L360.50,429.45 L361.00,430.15 L361.50,430.85 L362.00,431.55 L362.50,432.25 L363.00,432.95 L363.50,433.65 L364.00,434.34 L364.50,435.04 L365.00,435.73 L365.50,436.43 L366.00,437.12 L366.50,437.81 L367.00,438.50 L367.50,439.19 L368.00,439.88 L368.50,440.56 L369.00,441.25 L369.50,441.94 L370.00,442.62 L370.50,443.30 L371.00,443.99 L371.50,444.67 L372.00,445.35 L372.50,446.03 L373.00,446.71 L373.50,447.38 L374.00,448.06 L374.50,448.73 L375.00,449.41 L375.50,450.08 L376.00,450.76 L376.50,451.43 L377.00,452.10 L377.50,452.77 L378.00,453.44 L378.50,454.10 L379.00,454.77 L379.50,455.44 L380.00,456.10 L380.50,456.77 L381.00,457.43 L381.50,458.09 L382.00,458.75 L382.50,459.41 L383.00,460.07 L383.50,460.73 L384.00,461.39 L384.50,462.04 L385.00,462.70 L385.50,463.35 L386.00,464.01 L386.50,464.66 L387.00,465.31 L387.50,465.96 L388.00,466.61 L388.50,467.26 L389.00,467.91 L389.50,468.55 L390.00,469.20 L390.50,469.84 L391.00,470.49 L391.50,471.13 L392.00,471.77 L392.50,472.41 L393.00,473.05 L393.50,473.69 L394.00,474.33 L394.50,474.97 L395.00,475.61 L395.50,476.24 L396.00,476.88 L396.50,477.51 L397.00,478.14 L397.50,478.78 L398.00,479.41 L398.50,480.04 L399.00,480.67 L399.50,481.29 L400.00,481.92 L400.50,482.55 L401.00,483.17 L401.50,483.80 L402.00,484.42 L402.50,485.04 L403.00,485.67 L403.50,486.29 L404.00,486.91 L404.50,487.53 L405.00,488.15 L405.50,488.76 L406.00,489.38 L406.50,490.00 L407.00,490.61 L407.50,491.22 L408.00,491.84 L408.50,492.45 L409.00,493.06 L409.50,493.67 L410.00,494.28 L410.50,494.89 L411.00,495.50 L411.50,496.10 L412.00,496.71 L412.50,497.31 L413.00,497.92 L413.50,498.52 L414.00,499.12 L414.50,499.73 L415.00,500.33 L415.50,500.93 L416.00,501.53 L416.50,502.12 L417.00,502.72 L417.50,503.32 L418.00,503.91 L418.50,504.51 L419.00,505.10 L419.50,505.69 L420.00,506.29 L420.50,506.88 L421.00,507.47 L421.50,508.06 L422.00,508.65 L422.50,509.23 L423.00,509.82 L423.50,510.41 L424.00,510.99 L424.50,511.58 L425.00,512.16 L425.50,512.74 L426.00,513.32 L426.50,513.90 L427.00,514.48 L427.50,515.06 L428.00,515.64 L428.50,516.22 L429.00,516.80 L429.50,517.37 L430.00,517.95 L430.50,518.52 L431.00,519.10 L431.50,519.67 L432.00,520.24 L432.50,520.81 L433.00,521.38 L433.50,521.95 L434.00,522.52 L434.50,523.09 L435.00,523.65 L435.50,524.22 L436.00,524.79 L436.50,525.35 L437.00,525.91 L437.50,526.48 L438.00,527.04 L438.50,527.60 L439.00,528.16 L439.50,528.72 L440.00,529.28 L440.50,529.84 L441.00,530.39 L441.50,530.95 L442.00,531.51 L442.50,532.06 L443.00,532.62 L443.50,533.17 L444.00,533.72 L444.50,534.27 L445.00,534.82 L445.50,535.37 L446.00,535.92 L446.50,536.47 L447.00,537.02 L447.50,537.57 L448.00,538.11 L448.50,538.66 L449.00,539.20 L449.50,539.75 L450.00,540.29 L450.50,540.83 L451.00,541.37 L451.50,541.91 L452.00,542.45 L452.50,542.99 L453.00,543.53 L453.50,544.07 L454.00,544.61 L454.50,545.14 L455.00,545.68 L455.50,546.21 L456.00,546.75 L456.50,547.28 L457.00,547.81 L457.50,548.34 L458.00,548.87 L458.50,549.40 L459.00,549.93 L459.50,550.46 L460.00,550.99 L460.50,551.52 L461.00,552.04 L461.50,552.57 L462.00,553.09 L462.50,553.62 L463.00,554.14 L463.50,554.66 L464.00,555.18 L464.50,555.71 L465.00,556.23 L465.50,556.75 L466.00,557.26 L466.50,557.78 L467.00,558.30 L467.50,558.82 L468.00,559.33 L468.50,559.85 L469.00,560.36 L469.50,560.88 L470.00,561.39 L470.50,561.90 L471.00,562.41 L471.50,562.92 L472.00,563.43 L472.50,563.94 L473.00,564.45 L473.50,564.96 L474.00,565.47 L474.50,565.97 L475.00,566.48 L475.50,566.98 L476.00,567.49 L476.50,567.99 L477.00,568.49 L477.50,569.00 L478.00,569.50 L478.50,570.00 L479.00,570.50 L479.50,571.00 L480.00,571.50 L480.50,571.99 L481.00,572.49 L481.50,572.99 L482.00,573.48 L482.50,573.98 L483.00,574.47 L483.50,574.97 L484.00,575.46 L484.50,575.95 L485.00,576.44 L485.50,576.94 L486.00,577.43 L486.50,577.92 L487.00,578.40 L487.50,578.89 L488.00,579.38 L488.50,579.87 L489.00,580.35 L489.50,580.84 L490.00,581.32 L490.50,581.81 L491.00,582.29 L491.50,582.77 L492.00,583.26 L492.50,583.74 L493.00,584.22 L493.50,584.70 L494.00,585.18 L494.50,585.66 L495.00,586.14 L495.50,586.61 L496.00,587.09 L496.50,587.57 L497.00,588.04 L497.50,588.52 L498.00,588.99 L498.50,589.46 L499.00,589.94 L499.50,590.41 L500.00,590.88 L500.50,591.35 L501.00,591.82 L501.50,592.29 L502.00,592.76 L502.50,593.23 L503.00,593.69 L503.50,594.16 L504.00,594.63 L504.50,595.09 L505.00,595.56 L505.50,596.02 L506.00,596.49 L506.50,596.95 L507.00,597.41 L507.50,597.87 L508.00,598.33 L508.50,598.80 L509.00,599.26 L509.50,599.71 L510.00,600.17 L510.50,600.63 L511.00,601.09 L511.50,601.54 L512.00,602.00 L512.50,602.46 L513.00,602.91 L513.50,603.37 L514.00,603.82 L514.50,604.27 L515.00,604.72 L515.50,605.18 L516.00,605.63 L516.50,606.08 L517.00,606.53 L517.50,606.98 L518.00,607.42 L518.50,607.87 L519.00,608.32 L519.50,608.77 L520.00,609.21 L520.50,609.66 L521.00,610.10 L521.50,610.55 L522.00,610.99 L522.50,611.43 L523.00,611.88 L523.50,612.32 L524.00,612.76 L524.50,613.20 L525.00,613.64 L525.50,614.08 L526.00,614.52 L526.50,614.96 L527.00,615.39 L527.50,615.83 L528.00,616.27 L528.50,616.70 L529.00,617.14 L529.50,617.57 L530.00,618.01 L530.50,618.44 L531.00,618.87 L531.50,619.30 L532.00,619.74 L532.50,620.17 L533.00,620.60 L533.50,621.03 L534.00,621.46 L534.50,621.88 L535.00,622.31 L535.50,622.74 L536.00,623.17 L536.50,623.59 L537.00,624.02 L537.50,624.44 L538.00,624.87 L538.50,625.29 L539.00,625.72 L539.50,626.14 L540.00,626.56 L540.50,626.98 L541.00,627.40 L541.50,627.82 L542.00,628.24 L542.50,628.66 L543.00,629.08 L543.50,629.50 L544.00,629.92 L544.50,630.34 L545.00,630.75 L545.50,631.17 L546.00,631.58 L546.50,632.00 L547.00,632.41 L547.50,632.83 L548.00,633.24 L548.50,633.65 L549.00,634.07 L549.50,634.48 L550.00,634.89 L550.50,635.30 L551.00,635.71 L551.50,636.12 L552.00,636.53 L552.50,636.93 L553.00,637.34 L553.50,637.75 L554.00,638.16 L554.50,638.56 L555.00,638.97 L555.50,639.37 L556.00,639.78 L556.50,640.18 L557.00,640.58 L557.50,640.99 L558.00,641.39 L558.50,641.79 L559.00,642.19 L559.50,642.59 L560.00,642.99 L560.50,643.39 L561.00,643.79 L561.50,644.19 L562.00,644.59 L562.50,644.98 L563.00,645.38 L563.50,645.78 L564.00,646.17 L564.50,646.57 L565.00,646.96 L565.50,647.36 L566.00,647.75 L566.50,648.14 L567.00,648.54 L567.50,648.93 L568.00,649.32 L568.50,649.71 L569.00,650.10 L569.50,650.49 L570.00,650.88 L570.50,651.27 L571.00,651.66 L571.50,652.05 L572.00,652.43 L572.50,652.82 L573.00,653.21 L573.50,653.59 L574.00,653.98 L574.50,654.36 L575.00,654.75 L575.50,655.13 L576.00,655.51 L576.50,655.90 L577.00,656.28 L577.50,656.66 L578.00,657.04 L578.50,657.42 L579.00,657.80 L579.50,658.18 L580.00,658.56 L580.50,658.94 L581.00,659.32 L581.50,659.70 L582.00,660.07 L582.50,660.45 L583.00,660.83 L583.50,661.20 L584.00,661.58 L584.50,661.95 L585.00,662.33 L585.50,662.70 L586.00,663.07 L586.50,663.44 L587.00,663.82 L587.50,664.19 L588.00,664.56 L588.50,664.93 L589.00,665.30 L589.50,665.67 L590.00,666.04 L590.50,666.41 L591.00,666.78 L591.50,667.14 L592.00,667.51 L592.50,667.88 L593.00,668.25 L593.50,668.61 L594.00,668.98 L594.50,669.34 L595.00,669.71 L595.50,670.07 L596.00,670.43 L596.50,670.80 L597.00,671.16 L597.50,671.52 L598.00,671.88 L598.50,672.24 L599.00,672.60 L599.50,672.96 L600.00,673.32 L602.00,674.76 L604.00,676.18 L606.00,677.60 L608.00,679.01 L610.00,680.42 L612.00,681.82 L614.00,683.21 L616.00,684.59 L618.00,685.96 L620.00,687.33 L622.00,688.69 L624.00,690.05 L626.00,691.39 L628.00,692.73 L630.00,694.07 L632.00,695.39 L634.00,696.71 L636.00,698.02 L638.00,699.33 L640.00,700.63 L642.00,701.92 L644.00,703.21 L646.00,704.49 L648.00,705.76 L650.00,707.03 L652.00,708.29 L654.00,709.54 L656.00,710.79 L658.00,712.03 L660.00,713.26 L662.00,714.49 L664.00,715.71 L666.00,716.93 L668.00,718.14 L670.00,719.34 L672.00,720.54 L674.00,721.73 L676.00,722.92 L678.00,724.10 L680.00,725.27 L682.00,726.44 L684.00,727.60 L686.00,728.76 L688.00,729.91 L690.00,731.05 L692.00,732.19 L694.00,733.32 L696.00,734.45 L698.00,735.57 L700.00,736.69 L702.00,737.80 L704.00,738.91 L706.00,740.01 L708.00,741.10 L710.00,742.19 L712.00,743.28 L714.00,744.35 L716.00,745.43 L718.00,746.50 L720.00,747.56 L722.00,748.62 L724.00,749.67 L726.00,750.72 L728.00,751.76 L730.00,752.79 L732.00,753.83 L734.00,754.85 L736.00,755.88 L738.00,756.89 L740.00,757.91 L742.00,758.91 L744.00,759.92 L746.00,760.91 L748.00,761.91 L750.00,762.89 L752.00,763.88 L754.00,764.85 L756.00,765.83 L758.00,766.80 L760.00,767.76 L762.00,768.72 L764.00,769.68 L766.00,770.63 L768.00,771.57 L770.00,772.52 L772.00,773.45 L774.00,774.38 L776.00,775.31 L778.00,776.24 L780.00,777.16 L782.00,778.07 L784.00,778.98 L786.00,779.89 L788.00,780.79 L790.00,781.69 L792.00,782.58 L794.00,783.47 L796.00,784.36 L798.00,785.24 L800.00,786.11 L802.00,786.99 L804.00,787.86 L806.00,788.72 L808.00,789.58 L810.00,790.44 L812.00,791.29 L814.00,792.14 L816.00,792.98 L818.00,793.82 L820.00,794.66 L822.00,795.49 L824.00,796.32 L826.00,797.15 L828.00,797.97 L830.00,798.79 L832.00,799.60 L834.00,800.41 L836.00,801.22 L838.00,802.02 L840.00,802.82 L842.00,803.61 L844.00,804.40 L846.00,805.19 L848.00,805.98 L850.00,806.76 L852.00,807.53 L854.00,808.31 L856.00,809.08 L858.00,809.84 L860.00,810.61 L862.00,811.37 L864.00,812.12 L866.00,812.87 L868.00,813.62 L870.00,814.37 L872.00,815.11 L874.00,815.85 L876.00,816.59 L878.00,817.32 L880.00,818.05 L882.00,818.77 L884.00,819.50 L886.00,820.21 L888.00,820.93 L890.00,821.64 L892.00,822.35 L894.00,823.06 L896.00,823.76 L898.00,824.46 L900.00,825.16 L902.00,825.85 L904.00,826.54 L906.00,827.23 L908.00,827.91 L910.00,828.60 L912.00,829.27 L914.00,829.95 L916.00,830.62 L918.00,831.29 L920.00,831.96 L922.00,832.62 L924.00,833.28 L926.00,833.94 L928.00,834.59 L930.00,835.24 L932.00,835.89 L934.00,836.54 L936.00,837.18 L938.00,837.82 L940.00,838.46 L942.00,839.09 L944.00,839.73 L946.00,840.35 L948.00,840.98 L950.00,841.60 L952.00,842.23 L954.00,842.84 L956.00,843.46 L958.00,844.07 L960.00,844.68 L962.00,845.29 L964.00,845.89 L966.00,846.50 L968.00,847.09 L970.00,847.69 L972.00,848.29 L974.00,848.88 L976.00,849.47 L978.00,850.05 L980.00,850.64 L982.00,851.22 L984.00,851.80 L986.00,852.37 L988.00,852.95 L990.00,853.52 L992.00,854.09 L994.00,854.65 L996.00,855.22 L998.00,855.78 L1000.00,856.34 L1002.00,856.89 L1004.00,857.45 L1006.00,858.00 L1008.00,858.55 L1010.00,859.10 L1012.00,859.64 L1014.00,860.19 L1016.00,860.73 L1018.00,861.26 L1020.00,861.80 L1022.00,862.33 L1024.00,862.86 L1026.00,863.39 L1028.00,863.92 L1030.00,864.44 L1032.00,864.97 L1034.00,865.49 L1036.00,866.00 L1038.00,866.52 L1040.00,867.03 L1042.00,867.54 L1044.00,868.05 L1046.00,868.56 L1048.00,869.06 L1050.00,869.57 L1052.00,870.07 L1054.00,870.56 L1056.00,871.06 L1058.00,871.55 L1060.00,872.05 L1062.00,872.54 L1064.00,873.02 L1066.00,873.51 L1068.00,873.99 L1070.00,874.47 L1072.00,874.95 L1074.00,875.43 L1076.00,875.91 L1078.00,876.38 L1080.00,876.85 L1082.00,877.32 L1084.00,877.79 L1086.00,878.26 L1088.00,878.72 L1090.00,879.18 L1092.00,879.64 L1094.00,880.10 L1096.00,880.56 L1098.00,881.01 L1100.00,881.46 L1102.00,881.91 L1104.00,882.36 L1106.00,882.81 L1108.00,883.25 L1110.00,883.70 L1112.00,884.14 L1114.00,884.58 L1116.00,885.01 L1118.00,885.45 L1120.00,885.88 L1122.00,886.32 L1124.00,886.75 L1126.00,887.18 L1128.00,887.60 L1130.00,888.03 L1132.00,888.45 L1134.00,888.87 L1136.00,889.29 L1138.00,889.71 L1140.00,890.13 L1142.00,890.54 L1144.00,890.95 L1146.00,891.36 L1148.00,891.77 L1150.00,892.18 L1152.00,892.59 L1154.00,892.99 L1156.00,893.40 L1158.00,893.80 L1160.00,894.20 L1162.00,894.59 L1164.00,894.99 L1166.00,895.39 L1168.00,895.78 L1170.00,896.17 L1172.00,896.56 L1174.00,896.95 L1176.00,897.34 L1178.00,897.72 L1180.00,898.10 L1182.00,898.49 L1184.00,898.87 L1186.00,899.25 L1188.00,899.62 L1190.00,900.00 L1192.00,900.37 L1194.00,900.75 L1196.00,901.12 L1198.00,901.49 L1200.00,901.86 L1202.00,902.22 L1204.00,902.59 L1206.00,902.95 L1208.00,903.31 L1210.00,903.68 L1212.00,904.04 L1214.00,904.39 L1216.00,904.75 L1218.00,905.10 L1220.00,905.46 L1222.00,905.81 L1224.00,906.16 L1226.00,906.51 L1228.00,906.86 L1230.00,907.21 L1232.00,907.55 L1234.00,907.90 L1236.00,908.24 L1238.00,908.58 L1240.00,908.92 L1242.00,909.26 L1244.00,909.59 L1246.00,909.93 L1248.00,910.26 L1250.00,910.60 L1252.00,910.93 L1254.00,911.26 L1256.00,911.59 L1258.00,911.92 L1260.00,912.24 L1262.00,912.57 L1264.00,912.89 L1266.00,913.21 L1268.00,913.54 L1270.00,913.86 L1272.00,914.17 L1274.00,914.49 L1276.00,914.81 L1278.00,915.12 L1280.00,915.44 L1282.00,915.75 L1284.00,916.06 L1286.00,916.37 L1288.00,916.68 L1290.00,916.99 L1292.00,917.29 L1294.00,917.60 L1296.00,917.90 L1298.00,918.21 L1300.00,918.51 L1302.00,918.81 L1304.00,919.11 L1306.00,919.40 L1308.00,919.70 L1310.00,920.00 L1312.00,920.29 L1314.00,920.58 L1316.00,920.88 L1318.00,921.17 L1320.00,921.46 L1322.00,921.75 L1324.00,922.03 L1326.00,922.32 L1328.00,922.61 L1330.00,922.89 L1332.00,923.17 L1334.00,923.45 L1336.00,923.74 L1338.00,924.01 L1340.00,924.29 L1342.00,924.57 L1344.00,924.85 L1346.00,925.12 L1348.00,925.40 L1350.00,925.67 L1352.00,925.94 L1354.00,926.21 L1356.00,926.48 L1358.00,926.75 L1360.00,927.02 L1362.00,927.29 L1364.00,927.55 L1366.00,927.82 L1368.00,928.08 L1370.00,928.34 L1372.00,928.61 L1374.00,928.87 L1376.00,929.13 L1378.00,929.39 L1380.00,929.64 L1382.00,929.90 L1384.00,930.16 L1386.00,930.41 L1388.00,930.66 L1390.00,930.92 L1392.00,931.17 L1394.00,931.42 L1396.00,931.67 L1398.00,931.92 L1400.00,932.16 L1402.00,932.41 L1404.00,932.66 L1406.00,932.90 L1408.00,933.15 L1410.00,933.39 L1412.00,933.63 L1414.00,933.87 L1416.00,934.11 L1418.00,934.35 L1420.00,934.59 L1422.00,934.83 L1424.00,935.06 L1426.00,935.30 L1428.00,935.54 L1430.00,935.77 L1432.00,936.00 L1434.00,936.23 L1434.00,938.35 L1432.00,938.23 L1430.00,938.00 L1428.00,937.77 L1426.00,937.54 L1424.00,937.30 L1422.00,937.06 L1420.00,936.83 L1418.00,936.59 L1416.00,936.35 L1414.00,936.11 L1412.00,935.87 L1410.00,935.63 L1408.00,935.39 L1406.00,935.15 L1404.00,934.90 L1402.00,934.66 L1400.00,934.41 L1398.00,934.16 L1396.00,933.92 L1394.00,933.67 L1392.00,933.42 L1390.00,933.17 L1388.00,932.92 L1386.00,932.66 L1384.00,932.41 L1382.00,932.16 L1380.00,931.90 L1378.00,931.64 L1376.00,931.39 L1374.00,931.13 L1372.00,930.87 L1370.00,930.61 L1368.00,930.34 L1366.00,930.08 L1364.00,929.82 L1362.00,929.55 L1360.00,929.29 L1358.00,929.02 L1356.00,928.75 L1354.00,928.48 L1352.00,928.21 L1350.00,927.94 L1348.00,927.67 L1346.00,927.40 L1344.00,927.12 L1342.00,926.85 L1340.00,926.57 L1338.00,926.29 L1336.00,926.01 L1334.00,925.74 L1332.00,925.45 L1330.00,925.17 L1328.00,924.89 L1326.00,924.61 L1324.00,924.32 L1322.00,924.03 L1320.00,923.75 L1318.00,923.46 L1316.00,923.17 L1314.00,922.88 L1312.00,922.58 L1310.00,922.29 L1308.00,922.00 L1306.00,921.70 L1304.00,921.40 L1302.00,921.11 L1300.00,920.81 L1298.00,920.51 L1296.00,920.21 L1294.00,919.90 L1292.00,919.60 L1290.00,919.29 L1288.00,918.99 L1286.00,918.68 L1284.00,918.37 L1282.00,918.06 L1280.00,917.75 L1278.00,917.44 L1276.00,917.12 L1274.00,916.81 L1272.00,916.49 L1270.00,916.17 L1268.00,915.86 L1266.00,915.54 L1264.00,915.21 L1262.00,914.89 L1260.00,914.57 L1258.00,914.24 L1256.00,913.92 L1254.00,913.59 L1252.00,913.26 L1250.00,912.93 L1248.00,912.60 L1246.00,912.26 L1244.00,911.93 L1242.00,911.59 L1240.00,911.26 L1238.00,910.92 L1236.00,910.58 L1234.00,910.24 L1232.00,909.90 L1230.00,909.55 L1228.00,909.21 L1226.00,908.86 L1224.00,908.51 L1222.00,908.16 L1220.00,907.81 L1218.00,907.46 L1216.00,907.10 L1214.00,906.75 L1212.00,906.39 L1210.00,906.04 L1208.00,905.68 L1206.00,905.31 L1204.00,904.95 L1202.00,904.59 L1200.00,904.22 L1198.00,903.86 L1196.00,903.49 L1194.00,903.12 L1192.00,902.75 L1190.00,902.37 L1188.00,902.00 L1186.00,901.62 L1184.00,901.25 L1182.00,900.87 L1180.00,900.49 L1178.00,900.10 L1176.00,899.72 L1174.00,899.34 L1172.00,898.95 L1170.00,898.56 L1168.00,898.17 L1166.00,897.78 L1164.00,897.39 L1162.00,896.99 L1160.00,896.59 L1158.00,896.20 L1156.00,895.80 L1154.00,895.40 L1152.00,894.99 L1150.00,894.59 L1148.00,894.18 L1146.00,893.77 L1144.00,893.36 L1142.00,892.95 L1140.00,892.54 L1138.00,892.13 L1136.00,891.71 L1134.00,891.29 L1132.00,890.87 L1130.00,890.45 L1128.00,890.03 L1126.00,889.60 L1124.00,889.18 L1122.00,888.75 L1120.00,888.32 L1118.00,887.88 L1116.00,887.45 L1114.00,887.01 L1112.00,886.58 L1110.00,886.14 L1108.00,885.70 L1106.00,885.25 L1104.00,884.81 L1102.00,884.36 L1100.00,883.91 L1098.00,883.46 L1096.00,883.01 L1094.00,882.56 L1092.00,882.10 L1090.00,881.64 L1088.00,881.18 L1086.00,880.72 L1084.00,880.26 L1082.00,879.79 L1080.00,879.32 L1078.00,878.85 L1076.00,878.38 L1074.00,877.91 L1072.00,877.43 L1070.00,876.95 L1068.00,876.47 L1066.00,875.99 L1064.00,875.51 L1062.00,875.02 L1060.00,874.54 L1058.00,874.05 L1056.00,873.55 L1054.00,873.06 L1052.00,872.56 L1050.00,872.07 L1048.00,871.57 L1046.00,871.06 L1044.00,870.56 L1042.00,870.05 L1040.00,869.54 L1038.00,869.03 L1036.00,868.52 L1034.00,868.00 L1032.00,867.49 L1030.00,866.97 L1028.00,866.44 L1026.00,865.92 L1024.00,865.39 L1022.00,864.86 L1020.00,864.33 L1018.00,863.80 L1016.00,863.26 L1014.00,862.73 L1012.00,862.19 L1010.00,861.64 L1008.00,861.10 L1006.00,860.55 L1004.00,860.00 L1002.00,859.45 L1000.00,858.89 L998.00,858.34 L996.00,857.78 L994.00,857.22 L992.00,856.65 L990.00,856.09 L988.00,855.52 L986.00,854.95 L984.00,854.37 L982.00,853.80 L980.00,853.22 L978.00,852.64 L976.00,852.05 L974.00,851.47 L972.00,850.88 L970.00,850.29 L968.00,849.69 L966.00,849.09 L964.00,848.50 L962.00,847.89 L960.00,847.29 L958.00,846.68 L956.00,846.07 L954.00,845.46 L952.00,844.84 L950.00,844.23 L948.00,843.60 L946.00,842.98 L944.00,842.35 L942.00,841.73 L940.00,841.09 L938.00,840.46 L936.00,839.82 L934.00,839.18 L932.00,838.54 L930.00,837.89 L928.00,837.24 L926.00,836.59 L924.00,835.94 L922.00,835.28 L920.00,834.62 L918.00,833.96 L916.00,833.29 L914.00,832.62 L912.00,831.95 L910.00,831.27 L908.00,830.60 L906.00,829.91 L904.00,829.23 L902.00,828.54 L900.00,827.85 L898.00,827.16 L896.00,826.46 L894.00,825.76 L892.00,825.06 L890.00,824.35 L888.00,823.64 L886.00,822.93 L884.00,822.21 L882.00,821.50 L880.00,820.77 L878.00,820.05 L876.00,819.32 L874.00,818.59 L872.00,817.85 L870.00,817.11 L868.00,816.37 L866.00,815.62 L864.00,814.87 L862.00,814.12 L860.00,813.37 L858.00,812.61 L856.00,811.84 L854.00,811.08 L852.00,810.31 L850.00,809.53 L848.00,808.76 L846.00,807.98 L844.00,807.19 L842.00,806.40 L840.00,805.61 L838.00,804.82 L836.00,804.02 L834.00,803.22 L832.00,802.41 L830.00,801.60 L828.00,800.79 L826.00,799.97 L824.00,799.15 L822.00,798.32 L820.00,797.49 L818.00,796.66 L816.00,795.82 L814.00,794.98 L812.00,794.14 L810.00,793.29 L808.00,792.44 L806.00,791.58 L804.00,790.72 L802.00,789.86 L800.00,788.99 L798.00,788.11 L796.00,787.24 L794.00,786.36 L792.00,785.47 L790.00,784.58 L788.00,783.69 L786.00,782.79 L784.00,781.89 L782.00,780.98 L780.00,780.07 L778.00,779.16 L776.00,778.24 L774.00,777.31 L772.00,776.38 L770.00,775.45 L768.00,774.52 L766.00,773.57 L764.00,772.63 L762.00,771.68 L760.00,770.72 L758.00,769.76 L756.00,768.80 L754.00,767.83 L752.00,766.85 L750.00,765.88 L748.00,764.89 L746.00,763.91 L744.00,762.91 L742.00,761.92 L740.00,760.91 L738.00,759.91 L736.00,758.89 L734.00,757.88 L732.00,756.85 L730.00,755.83 L728.00,754.79 L726.00,753.76 L724.00,752.72 L722.00,751.67 L720.00,750.62 L718.00,749.56 L716.00,748.50 L714.00,747.43 L712.00,746.35 L710.00,745.28 L708.00,744.19 L706.00,743.10 L704.00,742.01 L702.00,740.91 L700.00,739.80 L698.00,738.69 L696.00,737.57 L694.00,736.45 L692.00,735.32 L690.00,734.19 L688.00,733.05 L686.00,731.91 L684.00,730.76 L682.00,729.60 L680.00,728.44 L678.00,727.27 L676.00,726.10 L674.00,724.92 L672.00,723.73 L670.00,722.54 L668.00,721.34 L666.00,720.14 L664.00,718.93 L662.00,717.71 L660.00,716.49 L658.00,715.26 L656.00,714.03 L654.00,712.79 L652.00,711.54 L650.00,710.29 L648.00,709.03 L646.00,707.76 L644.00,706.49 L642.00,705.21 L640.00,703.92 L638.00,702.63 L636.00,701.33 L634.00,700.02 L632.00,698.71 L630.00,697.39 L628.00,696.07 L626.00,694.73 L624.00,693.39 L622.00,692.05 L620.00,690.69 L618.00,689.33 L616.00,687.96 L614.00,686.59 L612.00,685.21 L610.00,683.82 L608.00,682.42 L606.00,681.01 L604.00,679.60 L602.00,678.18 L600.00,676.76 L599.50,676.40 L599.00,676.04 L598.50,675.68 L598.00,675.32 L597.50,674.96 L597.00,674.60 L596.50,674.24 L596.00,673.88 L595.50,673.52 L595.00,673.16 L594.50,672.80 L594.00,672.43 L593.50,672.07 L593.00,671.71 L592.50,671.34 L592.00,670.98 L591.50,670.61 L591.00,670.25 L590.50,669.88 L590.00,669.51 L589.50,669.14 L589.00,668.78 L588.50,668.41 L588.00,668.04 L587.50,667.67 L587.00,667.30 L586.50,666.93 L586.00,666.56 L585.50,666.19 L585.00,665.82 L584.50,665.44 L584.00,665.07 L583.50,664.70 L583.00,664.33 L582.50,663.95 L582.00,663.58 L581.50,663.20 L581.00,662.83 L580.50,662.45 L580.00,662.07 L579.50,661.70 L579.00,661.32 L578.50,660.94 L578.00,660.56 L577.50,660.18 L577.00,659.80 L576.50,659.42 L576.00,659.04 L575.50,658.66 L575.00,658.28 L574.50,657.90 L574.00,657.51 L573.50,657.13 L573.00,656.75 L572.50,656.36 L572.00,655.98 L571.50,655.59 L571.00,655.21 L570.50,654.82 L570.00,654.43 L569.50,654.05 L569.00,653.66 L568.50,653.27 L568.00,652.88 L567.50,652.49 L567.00,652.10 L566.50,651.71 L566.00,651.32 L565.50,650.93 L565.00,650.54 L564.50,650.14 L564.00,649.75 L563.50,649.36 L563.00,648.96 L562.50,648.57 L562.00,648.17 L561.50,647.78 L561.00,647.38 L560.50,646.98 L560.00,646.59 L559.50,646.19 L559.00,645.79 L558.50,645.39 L558.00,644.99 L557.50,644.59 L557.00,644.19 L556.50,643.79 L556.00,643.39 L555.50,642.99 L555.00,642.58 L554.50,642.18 L554.00,641.78 L553.50,641.37 L553.00,640.97 L552.50,640.56 L552.00,640.16 L551.50,639.75 L551.00,639.34 L550.50,638.93 L550.00,638.53 L549.50,638.12 L549.00,637.71 L548.50,637.30 L548.00,636.89 L547.50,636.48 L547.00,636.07 L546.50,635.65 L546.00,635.24 L545.50,634.83 L545.00,634.41 L544.50,634.00 L544.00,633.58 L543.50,633.17 L543.00,632.75 L542.50,632.34 L542.00,631.92 L541.50,631.50 L541.00,631.08 L540.50,630.66 L540.00,630.24 L539.50,629.82 L539.00,629.40 L538.50,628.98 L538.00,628.56 L537.50,628.14 L537.00,627.72 L536.50,627.29 L536.00,626.87 L535.50,626.44 L535.00,626.02 L534.50,625.59 L534.00,625.17 L533.50,624.74 L533.00,624.31 L532.50,623.88 L532.00,623.46 L531.50,623.03 L531.00,622.60 L530.50,622.17 L530.00,621.74 L529.50,621.30 L529.00,620.87 L528.50,620.44 L528.00,620.01 L527.50,619.57 L527.00,619.14 L526.50,618.70 L526.00,618.27 L525.50,617.83 L525.00,617.39 L524.50,616.96 L524.00,616.52 L523.50,616.08 L523.00,615.64 L522.50,615.20 L522.00,614.76 L521.50,614.32 L521.00,613.88 L520.50,613.43 L520.00,612.99 L519.50,612.55 L519.00,612.10 L518.50,611.66 L518.00,611.21 L517.50,610.77 L517.00,610.32 L516.50,609.87 L516.00,609.42 L515.50,608.98 L515.00,608.53 L514.50,608.08 L514.00,607.63 L513.50,607.18 L513.00,606.72 L512.50,606.27 L512.00,605.82 L511.50,605.37 L511.00,604.91 L510.50,604.46 L510.00,604.00 L509.50,603.54 L509.00,603.09 L508.50,602.63 L508.00,602.17 L507.50,601.71 L507.00,601.26 L506.50,600.80 L506.00,600.33 L505.50,599.87 L505.00,599.41 L504.50,598.95 L504.00,598.49 L503.50,598.02 L503.00,597.56 L502.50,597.09 L502.00,596.63 L501.50,596.16 L501.00,595.69 L500.50,595.23 L500.00,594.76 L499.50,594.29 L499.00,593.82 L498.50,593.35 L498.00,592.88 L497.50,592.41 L497.00,591.94 L496.50,591.46 L496.00,590.99 L495.50,590.52 L495.00,590.04 L494.50,589.57 L494.00,589.09 L493.50,588.61 L493.00,588.14 L492.50,587.66 L492.00,587.18 L491.50,586.70 L491.00,586.22 L490.50,585.74 L490.00,585.26 L489.50,584.77 L489.00,584.29 L488.50,583.81 L488.00,583.32 L487.50,582.84 L487.00,582.35 L486.50,581.87 L486.00,581.38 L485.50,580.89 L485.00,580.40 L484.50,579.92 L484.00,579.43 L483.50,578.94 L483.00,578.44 L482.50,577.95 L482.00,577.46 L481.50,576.97 L481.00,576.47 L480.50,575.98 L480.00,575.48 L479.50,574.99 L479.00,574.49 L478.50,573.99 L478.00,573.50 L477.50,573.00 L477.00,572.50 L476.50,572.00 L476.00,571.50 L475.50,571.00 L475.00,570.49 L474.50,569.99 L474.00,569.49 L473.50,568.98 L473.00,568.48 L472.50,567.97 L472.00,567.47 L471.50,566.96 L471.00,566.45 L470.50,565.94 L470.00,565.43 L469.50,564.92 L469.00,564.41 L468.50,563.90 L468.00,563.39 L467.50,562.88 L467.00,562.36 L466.50,561.85 L466.00,561.33 L465.50,560.82 L465.00,560.30 L464.50,559.78 L464.00,559.26 L463.50,558.75 L463.00,558.23 L462.50,557.71 L462.00,557.18 L461.50,556.66 L461.00,556.14 L460.50,555.62 L460.00,555.09 L459.50,554.57 L459.00,554.04 L458.50,553.52 L458.00,552.99 L457.50,552.46 L457.00,551.93 L456.50,551.40 L456.00,550.87 L455.50,550.34 L455.00,549.81 L454.50,549.28 L454.00,548.75 L453.50,548.21 L453.00,547.68 L452.50,547.14 L452.00,546.61 L451.50,546.07 L451.00,545.53 L450.50,544.99 L450.00,544.45 L449.50,543.91 L449.00,543.37 L448.50,542.83 L448.00,542.29 L447.50,541.75 L447.00,541.20 L446.50,540.66 L446.00,540.11 L445.50,539.57 L445.00,539.02 L444.50,538.47 L444.00,537.92 L443.50,537.37 L443.00,536.82 L442.50,536.27 L442.00,535.72 L441.50,535.17 L441.00,534.62 L440.50,534.06 L440.00,533.51 L439.50,532.95 L439.00,532.39 L438.50,531.84 L438.00,531.28 L437.50,530.72 L437.00,530.16 L436.50,529.60 L436.00,529.04 L435.50,528.48 L435.00,527.91 L434.50,527.35 L434.00,526.79 L433.50,526.22 L433.00,525.65 L432.50,525.09 L432.00,524.52 L431.50,523.95 L431.00,523.38 L430.50,522.81 L430.00,522.24 L429.50,521.67 L429.00,521.10 L428.50,520.52 L428.00,519.95 L427.50,519.37 L427.00,518.80 L426.50,518.22 L426.00,517.64 L425.50,517.06 L425.00,516.48 L424.50,515.90 L424.00,515.32 L423.50,514.74 L423.00,514.16 L422.50,513.58 L422.00,512.99 L421.50,512.41 L421.00,511.82 L420.50,511.23 L420.00,510.65 L419.50,510.06 L419.00,509.47 L418.50,508.88 L418.00,508.29 L417.50,507.69 L417.00,507.10 L416.50,506.51 L416.00,505.91 L415.50,505.32 L415.00,504.72 L414.50,504.12 L414.00,503.53 L413.50,502.93 L413.00,502.33 L412.50,501.73 L412.00,501.12 L411.50,500.52 L411.00,499.92 L410.50,499.31 L410.00,498.71 L409.50,498.10 L409.00,497.50 L408.50,496.89 L408.00,496.28 L407.50,495.67 L407.00,495.06 L406.50,494.45 L406.00,493.84 L405.50,493.22 L405.00,492.61 L404.50,492.00 L404.00,491.38 L403.50,490.76 L403.00,490.15 L402.50,489.53 L402.00,488.91 L401.50,488.29 L401.00,487.67 L400.50,487.04 L400.00,486.42 L399.50,485.80 L399.00,485.17 L398.50,484.55 L398.00,483.92 L397.50,483.29 L397.00,482.67 L396.50,482.04 L396.00,481.41 L395.50,480.78 L395.00,480.14 L394.50,479.51 L394.00,478.88 L393.50,478.24 L393.00,477.61 L392.50,476.97 L392.00,476.33 L391.50,475.69 L391.00,475.05 L390.50,474.41 L390.00,473.77 L389.50,473.13 L389.00,472.49 L388.50,471.84 L388.00,471.20 L387.50,470.55 L387.00,469.91 L386.50,469.26 L386.00,468.61 L385.50,467.96 L385.00,467.31 L384.50,466.66 L384.00,466.01 L383.50,465.35 L383.00,464.70 L382.50,464.04 L382.00,463.39 L381.50,462.73 L381.00,462.07 L380.50,461.41 L380.00,460.75 L379.50,460.09 L379.00,459.43 L378.50,458.77 L378.00,458.10 L377.50,457.44 L377.00,456.77 L376.50,456.10 L376.00,455.44 L375.50,454.77 L375.00,454.10 L374.50,453.43 L374.00,452.76 L373.50,452.08 L373.00,451.41 L372.50,450.73 L372.00,450.06 L371.50,449.38 L371.00,448.71 L370.50,448.03 L370.00,447.35 L369.50,446.67 L369.00,445.99 L368.50,445.30 L368.00,444.62 L367.50,443.94 L367.00,443.25 L366.50,442.56 L366.00,441.88 L365.50,441.19 L365.00,440.50 L364.50,439.81 L364.00,439.12 L363.50,438.43 L363.00,437.73 L362.50,437.04 L362.00,436.34 L361.50,435.65 L361.00,434.95 L360.50,434.25 L360.00,433.55 L359.50,432.85 L359.00,432.15 L358.50,431.45 L358.00,430.75 L357.50,430.04 L357.00,429.34 L356.50,428.63 L356.00,427.92 L355.50,427.21 L355.00,426.51 L354.50,425.79 L354.00,425.08 L353.50,424.37 L353.00,423.66 L352.50,422.94 L352.00,422.23 L351.50,421.51 L351.00,420.80 L350.50,420.08 L350.00,419.36 L349.50,418.64 L349.00,417.92 L348.50,417.19 L348.00,416.47 L347.50,415.75 L347.00,415.02 L346.50,414.29 L346.00,413.57 L345.50,412.84 L345.00,412.11 L344.50,411.38 L344.00,410.65 L343.50,409.91 L343.00,409.18 L342.50,408.45 L342.00,407.71 L341.50,406.97 L341.00,406.24 L340.50,405.50 L340.00,404.76 L339.50,404.02 L339.00,403.28 L338.50,402.53 L338.00,401.79 L337.50,401.04 L337.00,400.30 L336.50,399.55 L336.00,398.80 L335.50,398.05 L335.00,397.30 L334.50,396.55 L334.00,395.80 L333.50,395.05 L333.00,394.30 L332.50,393.54 L332.00,392.78 L331.50,392.03 L331.00,391.27 L330.50,390.51 L330.00,389.75 L329.50,388.99 L329.00,388.23 L328.50,387.46 L328.00,386.70 L327.50,385.93 L327.00,385.17 L326.50,384.40 L326.00,383.63 L325.50,382.86 L325.00,382.09 L324.50,381.32 L324.00,380.55 L323.50,379.78 L323.00,379.00 L322.50,378.23 L322.00,377.45 L321.50,376.67 L321.00,375.90 L320.50,375.12 L320.00,374.34 L319.50,373.55 L319.00,372.77 L318.50,371.99 L318.00,371.20 L317.50,370.42 L317.00,369.63 L316.50,368.85 L316.00,368.06 L315.50,367.27 L315.00,366.48 L314.50,365.69 L314.00,364.89 L313.50,364.10 L313.00,363.31 L312.50,362.51 L312.00,361.72 L311.50,360.92 L311.00,360.12 L310.50,359.32 L310.00,358.52 L309.50,357.72 L309.00,356.92 L308.50,356.12 L308.00,355.31 L307.50,354.51 L307.00,353.70 L306.50,352.89 L306.00,352.09 L305.50,351.28 L305.00,350.47 L304.50,349.66 L304.00,348.85 L303.50,348.03 L303.00,347.22 L302.50,346.41 L302.00,345.59 L301.50,344.78 L301.00,343.96 L300.50,343.14 L300.00,342.32 L299.75,341.91 L299.50,341.50 L299.25,341.09 L299.00,340.68 L298.75,340.27 L298.50,339.86 L298.25,339.45 L298.00,339.04 L297.75,338.63 L297.50,338.22 L297.25,337.80 L297.00,337.39 L296.75,336.98 L296.50,336.57 L296.25,336.15 L296.00,335.74 L295.75,335.33 L295.50,334.91 L295.25,334.50 L295.00,334.09 L294.75,333.67 L294.50,333.26 L294.25,332.84 L294.00,332.43 L293.75,332.01 L293.50,331.60 L293.25,331.18 L293.00,330.77 L292.75,330.35 L292.50,329.94 L292.25,329.52 L292.00,329.10 L291.75,328.69 L291.50,328.27 L291.25,327.85 L291.00,327.44 L290.75,327.02 L290.50,326.60 L290.25,326.18 L290.00,325.77 L289.75,325.35 L289.50,324.93 L289.25,324.51 L289.00,324.09 L288.75,323.67 L288.50,323.25 L288.25,322.83 L288.00,322.42 L287.75,322.00 L287.50,321.58 L287.25,321.16 L287.00,320.74 L286.75,320.31 L286.50,319.89 L286.25,319.47 L286.00,319.05 L285.75,318.63 L285.50,318.21 L285.25,317.79 L285.00,317.37 L284.75,316.94 L284.50,316.52 L284.25,316.10 L284.00,315.68 L283.75,315.25 L283.50,314.83 L283.25,314.41 L283.00,313.98 L282.75,313.56 L282.50,313.14 L282.25,312.71 L282.00,312.29 L281.75,311.87 L281.50,311.44 L281.25,311.02 L281.00,310.59 L280.75,310.17 L280.50,309.74 L280.25,309.32 L280.00,308.89 L279.75,308.47 L279.50,308.04 L279.25,307.62 L279.00,307.19 L278.75,306.76 L278.50,306.34 L278.25,305.91 L278.00,305.49 L277.75,305.06 L277.50,304.63 L277.25,304.20 L277.00,303.78 L276.75,303.35 L276.50,302.92 L276.25,302.50 L276.00,302.07 L275.75,301.64 L275.50,301.21 L275.25,300.78 L275.00,300.36 L274.75,299.93 L274.50,299.50 L274.25,299.07 L274.00,298.64 L273.75,298.21 L273.50,297.78 L273.25,297.35 L273.00,296.93 L272.75,296.50 L272.50,296.07 L272.25,295.64 L272.00,295.21 L271.75,294.78 L271.50,294.35 L271.25,293.92 L271.00,293.49 L270.75,293.06 L270.50,292.63 L270.25,292.20 L270.00,291.77 L269.75,291.33 L269.50,290.90 L269.25,290.47 L269.00,290.04 L268.75,289.61 L268.50,289.18 L268.25,288.75 L268.00,288.32 L267.75,287.88 L267.50,287.45 L267.25,287.02 L267.00,286.59 L266.75,286.16 L266.50,285.73 L266.25,285.29 L266.00,284.86 L265.75,284.43 L265.50,284.00 L265.25,283.57 L265.00,283.13 L264.75,282.70 L264.50,282.27 L264.25,281.84 L264.00,281.40 L263.75,280.97 L263.50,280.54 L263.25,280.10 L263.00,279.67 L262.75,279.24 L262.50,278.81 L262.25,278.37 L262.00,277.94 L261.75,277.51 L261.50,277.07 L261.25,276.64 L261.00,276.21 L260.75,275.77 L260.50,275.34 L260.25,274.91 L260.00,274.47 L259.75,274.04 L259.50,273.61 L259.25,273.17 L259.00,272.74 L258.75,272.31 L258.50,271.87 L258.25,271.44 L258.00,271.01 L257.75,270.57 L257.50,270.14 L257.25,269.71 L257.00,269.27 L256.75,268.84 L256.50,268.41 L256.25,267.97 L256.00,267.54 L255.75,267.11 L255.50,266.67 L255.25,266.24 L255.00,265.81 L254.75,265.37 L254.50,264.94 L254.25,264.51 L254.00,264.07 L253.75,263.64 L253.50,263.21 L253.25,262.77 L253.00,262.34 L252.75,261.91 L252.50,261.47 L252.25,261.04 L252.00,260.61 L251.75,260.18 L251.50,259.74 L251.25,259.31 L251.00,258.88 L250.75,258.45 L250.50,258.01 L250.25,257.58 L250.00,257.15 L249.75,256.72 L249.50,256.29 L249.25,255.85 L249.00,255.42 L248.75,254.99 L248.50,254.56 L248.25,254.13 L248.00,253.70 L247.75,253.26 L247.50,252.83 L247.25,252.40 L247.00,251.97 L246.75,251.54 L246.50,251.11 L246.25,250.68 L246.00,250.25 L245.75,249.82 L245.50,249.39 L245.25,248.96 L245.00,248.53 L244.75,248.10 L244.50,247.67 L244.25,247.24 L244.00,246.81 L243.75,246.38 L243.50,245.95 L243.25,245.53 L243.00,245.10 L242.75,244.67 L242.50,244.24 L242.25,243.81 L242.00,243.39 L241.75,242.96 L241.50,242.53 L241.25,242.10 L241.00,241.68 L240.75,241.25 L240.50,240.83 L240.25,240.40 L240.00,239.97 L239.75,239.55 L239.50,239.12 L239.25,238.70 L239.00,238.27 L238.75,237.85 L238.50,237.42 L238.25,237.00 L238.00,236.58 L237.75,236.15 L237.50,235.73 L237.25,235.31 L237.00,234.89 L236.75,234.46 L236.50,234.04 L236.25,233.62 L236.00,233.20 L235.75,232.78 L235.50,232.36 L235.25,231.94 L235.00,231.52 L234.75,231.10 L234.50,230.68 L234.25,230.26 L234.00,229.84 L233.75,229.42 L233.50,229.01 L233.25,228.59 L233.00,228.17 L232.75,227.76 L232.50,227.34 L232.25,226.92 L232.00,226.51 L231.75,226.09 L231.50,225.68 L231.25,225.26 L231.00,224.85 L230.75,224.44 L230.50,224.03 L230.25,223.61 L230.00,223.20 L229.75,222.79 L229.50,222.38 L229.25,221.97 L229.00,221.56 L228.75,221.15 L228.50,220.74 L228.25,220.33 L228.00,219.92 L227.75,219.52 L227.50,219.11 L227.25,218.70 L227.00,218.30 L226.75,217.89 L226.50,217.49 L226.25,217.08 L226.00,216.68 L225.75,216.28 L225.50,215.87 L225.25,215.47 L225.00,215.07 L224.75,214.67 L224.50,214.27 L224.25,213.87 L224.00,213.47 L223.75,213.07 L223.50,212.68 L223.25,212.28 L223.00,211.88 L222.75,211.49 L222.50,211.09 L222.25,210.70 L222.00,210.31 L221.75,209.91 L221.50,209.52 L221.25,209.13 L221.00,208.74 L220.75,208.35 L220.50,207.96 L220.25,207.57 L220.00,207.18 L219.75,206.80 L219.50,206.41 L219.25,206.02 L219.00,205.64 L218.75,205.26 L218.50,204.87 L218.25,204.49 L218.00,204.11 L217.75,203.73 L217.50,203.35 L217.25,202.97 L217.00,202.59 L216.75,202.22 L216.50,201.84 L216.25,201.46 L216.00,201.09 L215.75,200.72 L215.50,200.34 L215.25,199.97 L215.00,199.60 L214.75,199.23 L214.50,198.86 L214.25,198.50 L214.00,198.13 L213.75,197.76 L213.50,197.40 L213.25,197.03 L213.00,196.67 L212.75,196.31 L212.50,195.95 L212.25,195.59 L212.00,195.23 L211.75,194.87 L211.50,194.52 L211.25,194.16 L211.00,193.81 L210.75,193.46 L210.50,193.10 L210.25,192.75 L210.00,192.40 L209.75,192.05 L209.50,191.71 L209.25,191.36 L209.00,191.02 L208.75,190.67 L208.50,190.33 L208.25,189.99 L208.00,189.65 L207.75,189.31 L207.50,188.97 L207.25,188.64 L207.00,188.30 L206.75,187.97 L206.50,187.64 L206.25,187.31 L206.00,186.98 L205.75,186.65 L205.50,186.32 L205.25,186.00 L205.00,185.67 L204.75,185.35 L204.50,185.03 L204.25,184.71 L204.00,184.39 L203.75,184.08 L203.50,183.76 L203.25,183.45 L203.00,183.14 L202.75,182.83 L202.50,182.52 L202.25,182.21 L202.00,181.91 L201.75,181.60 L201.50,181.30 L201.25,181.00 L201.00,180.70 L200.75,180.40 L200.50,180.11 L200.25,179.81 L200.00,179.52 L199.75,179.23 L199.50,178.94 L199.25,178.66 L199.00,178.37 L198.75,178.09 L198.50,177.81 L198.25,177.53 L198.00,177.25 L197.75,176.97 L197.50,176.70 L197.25,176.43 L197.00,176.16 L196.75,175.89 L196.50,175.62 L196.25,175.36 L196.00,175.10 L195.75,174.83 L195.50,174.58 L195.25,174.32 L195.00,174.07 L194.75,173.81 L194.50,173.56 L194.25,173.32 L194.00,173.07 L193.75,172.83 L193.50,172.59 L193.25,172.35 L193.00,172.11 L192.75,171.88 L192.50,171.64 L192.25,171.41 L192.00,171.19 L191.75,170.96 L191.50,170.74 L191.25,170.52 L191.00,170.30 L190.75,170.09 L190.50,169.87 L190.25,169.66 L190.00,169.45 L189.75,169.25 L189.50,169.05 L189.25,168.85 L189.00,168.65 L188.75,168.45 L188.50,168.26 L188.25,168.07 L188.00,167.88 L187.75,167.70 L187.50,167.52 L187.25,167.34 L187.00,167.17 L186.75,166.99 L186.50,166.82 L186.25,166.66 L186.00,166.49 L185.75,166.33 L185.50,166.17 L185.25,166.02 L185.00,165.87 L184.75,165.72 L184.50,165.57 L184.25,165.43 L184.00,165.29 L183.75,165.16 L183.50,165.02 L183.25,164.90 L183.00,164.77 L182.75,164.65 L182.50,164.53 L182.25,164.42 L182.00,164.30 L181.75,164.20 L181.50,164.09 L181.25,163.99 L181.00,163.90 L180.75,163.80 L180.50,163.71 L180.25,163.63 L180.00,163.55 L179.75,163.47 L179.50,163.40 L179.25,163.33 L179.00,163.27 L178.75,163.21 L178.50,163.15 L178.25,163.10 L178.00,163.06 L177.75,163.02 L177.50,162.98 L177.25,162.95 L177.00,162.92 L176.75,162.92 L176.50,162.95 L176.25,162.98 L176.00,163.02 L175.75,163.07 L175.50,163.12 L175.25,163.18 L175.00,163.25 L174.75,163.33 L174.50,163.41 L174.25,163.50 L174.00,163.60 L173.75,163.71 L173.50,163.82 L173.25,163.95 L173.00,164.08 L172.75,164.22 L172.50,164.37 L172.25,164.54 L172.00,164.71 L171.75,164.89 L171.50,165.08 L171.25,165.29 L171.00,165.51 L170.75,165.74 L170.50,165.98 L170.25,166.23 L170.00,166.50 L169.75,166.78 L169.50,167.08 L169.25,167.39 L169.00,167.72 L168.75,168.07 L168.50,168.43 L168.25,168.82 L168.00,169.22 L167.75,169.64 L167.50,170.08 L167.25,170.54 L167.00,171.03 L166.75,171.54 L166.50,172.08 L166.25,172.64 L166.00,173.23 L165.75,173.85 L165.50,174.50 L165.25,175.18 L165.00,175.89 L164.75,176.42 L164.50,176.94 L164.25,177.47 L164.00,178.00 L163.75,178.00 L163.50,178.00 L163.25,178.00 L163.00,178.00 L162.75,178.00 L162.50,178.00 L162.25,178.00 L162.00,178.00 Z" fill="#EDB120"/>
</g>
<g font-family="Liberation Sans" font-size="40.5" fill="#262626">
<text transform="translate(162.50,1093.30) scale(0.955,1)" text-anchor="middle">0</text>
<text transform="translate(226.05,1093.30) scale(0.955,1)" text-anchor="middle"> </text>
<text transform="translate(289.60,1093.30) scale(0.955,1)" text-anchor="middle">2</text>
<text transform="translate(353.15,1093.30) scale(0.955,1)" text-anchor="middle">3</text>
<text transform="translate(416.70,1093.30) scale(0.955,1)" text-anchor="middle">4</text>
<text transform="translate(480.25,1093.30) scale(0.955,1)" text-anchor="middle">5</text>
<text transform="translate(543.80,1093.30) scale(0.955,1)" text-anchor="middle">6</text>
<text transform="translate(607.35,1093.30) scale(0.955,1)" text-anchor="middle">7</text>
<text transform="translate(670.90,1093.30) scale(0.955,1)" text-anchor="middle">8</text>
<text transform="translate(734.45,1093.30) scale(0.955,1)" text-anchor="middle">9</text>
<text transform="translate(798.00,1093.30) scale(0.955,1)" text-anchor="middle"> 0</text>
<text transform="translate(861.55,1093.30) scale(0.955,1)" text-anchor="middle">  </text>
<text transform="translate(925.10,1093.30) scale(0.955,1)" text-anchor="middle"> 2</text>
<text transform="translate(988.65,1093.30) scale(0.955,1)" text-anchor="middle"> 3</text>
<text transform="translate(1052.20,1093.30) scale(0.955,1)" text-anchor="middle"> 4</text>
<text transform="translate(1115.75,1093.30) scale(0.955,1)" text-anchor="middle"> 5</text>
<text transform="translate(1179.30,1093.30) scale(0.955,1)" text-anchor="middle"> 6</text>
<text transform="translate(1242.85,1093.30) scale(0.955,1)" text-anchor="middle"> 7</text>
<text transform="translate(1306.40,1093.30) scale(0.955,1)" text-anchor="middle"> 8</text>
<text transform="translate(1369.95,1093.30) scale(0.955,1)" text-anchor="middle"> 9</text>
<text transform="translate(1433.50,1093.30) scale(0.955,1)" text-anchor="middle">20</text>
<text transform="translate(146.30,1050.80) scale(0.955,1)" text-anchor="end">50</text>
<text transform="translate(144.30,907.80) scale(0.955,1)" text-anchor="end"> 00</text>
<text transform="translate(144.30,764.80) scale(0.955,1)" text-anchor="end"> 50</text>
<text transform="translate(144.30,621.80) scale(0.955,1)" text-anchor="end">200</text>
<text transform="translate(144.30,478.80) scale(0.955,1)" text-anchor="end">250</text>
<text transform="translate(144.30,335.80) scale(0.955,1)" text-anchor="end">300</text>
<text transform="translate(144.30,192.80) scale(0.955,1)" text-anchor="end">350</text>
<text transform="translate(144.30,49.80) scale(0.955,1)" text-anchor="end">400</text>
</g>
<path d="M227.69,1092.80 L227.69,1065.00 L226.29,1065.00 L225.19,1066.90 L224.29,1069.10 L221.29,1070.00 L219.09,1071.00 L219.09,1072.70 L224.89,1072.70 L224.89,1092.80 Z M788.89,1092.80 L788.89,1065.00 L787.49,1065.00 L786.39,1066.90 L785.49,1069.10 L782.49,1070.00 L780.29,1071.00 L780.29,1072.70 L786.09,1072.70 L786.09,1092.80 Z M852.44,1092.80 L852.44,1065.00 L851.04,1065.00 L849.94,1066.90 L849.04,1069.10 L846.04,1070.00 L843.84,1071.00 L843.84,1072.70 L849.64,1072.70 L849.64,1092.80 Z M873.95,1092.80 L873.95,1065.00 L872.55,1065.00 L871.45,1066.90 L870.55,1069.10 L867.55,1070.00 L865.35,1071.00 L865.35,1072.70 L871.15,1072.70 L871.15,1092.80 Z M915.99,1092.80 L915.99,1065.00 L914.59,1065.00 L913.49,1066.90 L912.59,1069.10 L909.59,1070.00 L907.39,1071.00 L907.39,1072.70 L913.19,1072.70 L913.19,1092.80 Z M979.54,1092.80 L979.54,1065.00 L978.14,1065.00 L977.04,1066.90 L976.14,1069.10 L973.14,1070.00 L970.94,1071.00 L970.94,1072.70 L976.74,1072.70 L976.74,1092.80 Z M1043.09,1092.80 L1043.09,1065.00 L1041.69,1065.00 L1040.59,1066.90 L1039.69,1069.10 L1036.69,1070.00 L1034.49,1071.00 L1034.49,1072.70 L1040.29,1072.70 L1040.29,1092.80 Z M1106.64,1092.80 L1106.64,1065.00 L1105.24,1065.00 L1104.14,1066.90 L1103.24,1069.10 L1100.24,1070.00 L1098.04,1071.00 L1098.04,1072.70 L1103.84,1072.70 L1103.84,1092.80 Z M1170.19,1092.80 L1170.19,1065.00 L1168.79,1065.00 L1167.69,1066.90 L1166.79,1069.10 L1163.79,1070.00 L1161.59,1071.00 L1161.59,1072.70 L1167.39,1072.70 L1167.39,1092.80 Z M1233.74,1092.80 L1233.74,1065.00 L1232.34,1065.00 L1231.24,1066.90 L1230.34,1069.10 L1227.34,1070.00 L1225.14,1071.00 L1225.14,1072.70 L1230.94,1072.70 L1230.94,1092.80 Z M1297.29,1092.80 L1297.29,1065.00 L1295.89,1065.00 L1294.79,1066.90 L1293.89,1069.10 L1290.89,1070.00 L1288.69,1071.00 L1288.69,1072.70 L1294.49,1072.70 L1294.49,1092.80 Z M1360.84,1092.80 L1360.84,1065.00 L1359.44,1065.00 L1358.34,1066.90 L1357.44,1069.10 L1354.44,1070.00 L1352.24,1071.00 L1352.24,1072.70 L1358.04,1072.70 L1358.04,1092.80 Z M92.97,907.80 L92.97,880.00 L91.57,880.00 L90.47,881.90 L89.57,884.10 L86.57,885.00 L84.37,886.00 L84.37,887.70 L90.17,887.70 L90.17,907.80 Z M92.97,764.80 L92.97,737.00 L91.57,737.00 L90.47,738.90 L89.57,741.10 L86.57,742.00 L84.37,743.00 L84.37,744.70 L90.17,744.70 L90.17,764.80 Z" fill="#262626"/>
<text x="798" y="1150" font-family="Liberation Sans" font-size="43.3" fill="#262626" text-anchor="middle">Time(year)</text>
<text transform="translate(59,531) rotate(-90)" x="0" y="0" font-family="Liberation Sans" font-size="43" fill="#262626" text-anchor="middle">The number of L nodes</text>
<g fill="#262626" shape-rendering="crispEdges">
<rect x="1161" y="72" width="234" height="2"/>
<rect x="1161" y="227" width="234" height="2"/>
<rect x="1161" y="72" width="2" height="157"/>
<rect x="1393" y="72" width="2" height="157"/>
</g>
<rect x="1173" y="101" width="89" height="2" fill="#0072BD" shape-rendering="crispEdges"/>
<path d="M1275.20,100.00 L1276.80,98.90 L1278.80,100.00 L1277.00,113.90 L1280.20,113.90 L1282.20,112.50 L1285.10,100.00 L1287.90,100.00 L1289.00,101.50 L1288.00,101.80 L1286.00,113.80 L1287.10,113.80 L1288.30,110.00 L1289.90,110.00 L1289.90,113.60 L1288.80,114.60 L1288.80,115.80 L1284.20,115.80 L1283.60,114.80 L1282.30,114.80 L1281.70,115.80 L1275.00,115.80 L1274.90,118.40 L1273.80,122.60 L1270.00,122.60 Z" fill="#000" shape-rendering="crispEdges"/>
<rect x="1295" y="102" width="17" height="3" fill="#000" shape-rendering="crispEdges"/>
<rect x="1295" y="108" width="17" height="3" fill="#000" shape-rendering="crispEdges"/>
<text transform="translate(1314.5,114.6) scale(0.94,1)" font-family="Liberation Sans" font-size="36.25" fill="#000">0.3</text>
<rect x="1173" y="149" width="89" height="2" fill="#D95319" shape-rendering="crispEdges"/>
<path d="M1275.20,150.00 L1276.80,148.90 L1278.80,150.00 L1277.00,163.90 L1280.20,163.90 L1282.20,162.50 L1285.10,150.00 L1287.90,150.00 L1289.00,151.50 L1288.00,151.80 L1286.00,163.80 L1287.10,163.80 L1288.30,160.00 L1289.90,160.00 L1289.90,163.60 L1288.80,164.60 L1288.80,165.80 L1284.20,165.80 L1283.60,164.80 L1282.30,164.80 L1281.70,165.80 L1275.00,165.80 L1274.90,168.40 L1273.80,172.60 L1270.00,172.60 Z" fill="#000" shape-rendering="crispEdges"/>
<rect x="1295" y="152" width="17" height="3" fill="#000" shape-rendering="crispEdges"/>
<rect x="1295" y="158" width="17" height="3" fill="#000" shape-rendering="crispEdges"/>
<text transform="translate(1314.5,164.6) scale(0.94,1)" font-family="Liberation Sans" font-size="36.25" fill="#000">0.25</text>
<rect x="1173" y="198" width="89" height="2" fill="#EDB120" shape-rendering="crispEdges"/>
<path d="M1275.20,199.00 L1276.80,197.90 L1278.80,199.00 L1277.00,212.90 L1280.20,212.90 L1282.20,211.50 L1285.10,199.00 L1287.90,199.00 L1289.00,200.50 L1288.00,200.80 L1286.00,212.80 L1287.10,212.80 L1288.30,209.00 L1289.90,209.00 L1289.90,212.60 L1288.80,213.60 L1288.80,214.80 L1284.20,214.80 L1283.60,213.80 L1282.30,213.80 L1281.70,214.80 L1275.00,214.80 L1274.90,217.40 L1273.80,221.60 L1270.00,221.60 Z" fill="#000" shape-rendering="crispEdges"/>
<rect x="1295" y="201" width="17" height="3" fill="#000" shape-rendering="crispEdges"/>
<rect x="1295" y="207" width="17" height="3" fill="#000" shape-rendering="crispEdges"/>
<text transform="translate(1314.5,213.6) scale(0.94,1)" font-family="Liberation Sans" font-size="36.25" fill="#000">0.2</text>
</svg>
</body></html>
